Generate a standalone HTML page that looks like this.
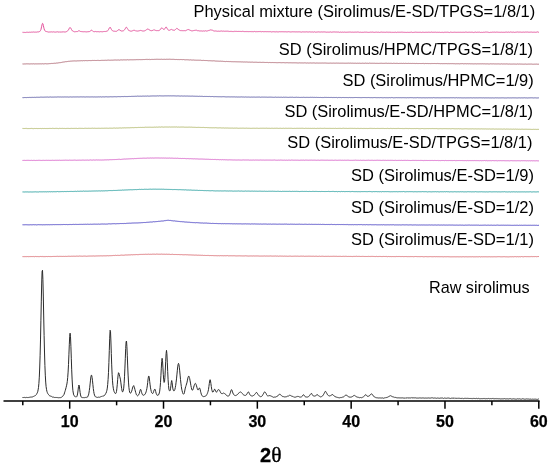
<!DOCTYPE html>
<html><head><meta charset="utf-8"><title>XRD</title>
<style>
html,body{margin:0;padding:0;background:#fff;}
body{width:550px;height:467px;overflow:hidden;}
svg{display:block;will-change:transform;}
text{font-family:"Liberation Sans",sans-serif;}
.lb{font-size:16.43px;fill:#000;text-anchor:end;}
.tk{font-size:16px;font-weight:bold;fill:#000;stroke:#000;stroke-width:0.25;text-anchor:middle;}
.c{fill:none;stroke-width:1;stroke-linejoin:round;stroke-linecap:round;}
</style></head><body>
<svg width="550" height="467" viewBox="0 0 550 467">
<rect width="550" height="467" fill="#ffffff"/>
<path class="c" stroke="#e4529c" d="M22.90,32.26 L23.30,32.23 L23.70,32.52 L24.10,32.27 L24.50,32.47 L24.90,32.39 L25.30,32.50 L25.70,32.42 L26.10,32.30 L26.50,32.28 L26.90,32.30 L27.30,32.30 L27.70,32.22 L28.10,32.26 L28.50,32.42 L28.90,32.08 L29.30,32.26 L29.70,32.14 L30.10,32.24 L30.50,32.29 L30.90,32.19 L31.30,32.27 L31.70,32.02 L32.10,32.28 L32.50,32.10 L32.90,32.21 L33.30,32.16 L33.70,31.87 L34.10,32.04 L34.50,32.12 L34.90,32.24 L35.30,32.10 L35.70,32.08 L36.10,31.89 L36.50,32.15 L36.90,32.17 L37.30,31.96 L37.70,31.89 L38.10,31.70 L38.50,31.89 L38.90,32.00 L39.30,31.68 L39.70,31.55 L40.10,31.14 L40.50,30.41 L40.90,29.68 L41.30,27.98 L41.70,26.23 L42.10,24.40 L42.50,23.34 L42.90,23.69 L43.30,25.30 L43.70,27.12 L44.10,28.73 L44.50,30.06 L44.90,30.74 L45.30,31.11 L45.70,31.35 L46.10,31.57 L46.50,31.53 L46.90,31.64 L47.30,31.66 L47.70,31.88 L48.10,31.93 L48.50,32.11 L48.90,31.78 L49.30,31.88 L49.70,32.05 L50.10,31.94 L50.50,31.94 L50.90,32.15 L51.30,31.95 L51.70,31.87 L52.10,31.86 L52.50,32.03 L52.90,32.03 L53.30,31.86 L53.70,31.90 L54.10,32.05 L54.50,32.06 L54.90,31.93 L55.30,32.06 L55.70,32.05 L56.10,31.82 L56.50,31.96 L56.90,32.03 L57.30,31.93 L57.70,31.77 L58.10,31.95 L58.50,32.05 L58.90,32.13 L59.30,31.75 L59.70,32.22 L60.10,31.84 L60.50,32.05 L60.90,32.07 L61.30,32.04 L61.70,31.95 L62.10,31.81 L62.50,31.97 L62.90,31.83 L63.30,31.64 L63.70,32.16 L64.10,31.93 L64.50,32.02 L64.90,31.72 L65.30,31.93 L65.70,31.90 L66.10,31.84 L66.50,31.60 L66.90,31.35 L67.30,31.24 L67.70,30.72 L68.10,30.31 L68.50,29.87 L68.90,29.01 L69.30,28.30 L69.70,27.65 L70.10,27.59 L70.50,27.79 L70.90,28.30 L71.30,29.22 L71.70,29.76 L72.10,30.42 L72.50,31.00 L72.90,31.09 L73.30,31.39 L73.70,31.40 L74.10,31.62 L74.50,31.82 L74.90,31.61 L75.30,31.72 L75.70,31.62 L76.10,31.58 L76.50,31.54 L76.90,31.74 L77.30,31.70 L77.70,31.34 L78.10,30.99 L78.50,30.91 L78.90,30.67 L79.30,30.84 L79.70,30.98 L80.10,31.22 L80.50,31.47 L80.90,31.51 L81.30,31.63 L81.70,31.56 L82.10,31.72 L82.50,31.64 L82.90,31.78 L83.30,31.71 L83.70,31.82 L84.10,31.86 L84.50,31.67 L84.90,31.73 L85.30,31.72 L85.70,31.88 L86.10,31.97 L86.50,31.88 L86.90,31.75 L87.30,31.92 L87.70,31.61 L88.10,31.89 L88.50,31.63 L88.90,31.36 L89.30,31.79 L89.70,31.51 L90.10,31.00 L90.50,30.81 L90.90,30.47 L91.30,30.32 L91.70,30.22 L92.10,30.56 L92.50,30.99 L92.90,31.24 L93.30,31.54 L93.70,31.57 L94.10,31.87 L94.50,31.61 L94.90,31.73 L95.30,31.53 L95.70,31.60 L96.10,31.86 L96.50,31.64 L96.90,31.79 L97.30,31.73 L97.70,31.63 L98.10,31.70 L98.50,31.68 L98.90,31.68 L99.30,31.80 L99.70,31.78 L100.10,31.65 L100.50,31.61 L100.90,31.72 L101.30,31.68 L101.70,31.78 L102.10,31.93 L102.50,31.74 L102.90,31.64 L103.30,31.61 L103.70,31.53 L104.10,31.50 L104.50,31.47 L104.90,31.50 L105.30,31.46 L105.70,31.53 L106.10,31.36 L106.50,31.29 L106.90,31.04 L107.30,31.10 L107.70,30.65 L108.10,30.30 L108.50,29.57 L108.90,28.90 L109.30,27.98 L109.70,27.52 L110.10,27.58 L110.50,27.54 L110.90,28.45 L111.30,29.25 L111.70,29.80 L112.10,30.37 L112.50,30.81 L112.90,30.87 L113.30,31.14 L113.70,31.10 L114.10,31.18 L114.50,31.21 L114.90,31.27 L115.30,31.30 L115.70,31.31 L116.10,31.07 L116.50,31.33 L116.90,31.09 L117.30,30.82 L117.70,30.39 L118.10,30.06 L118.50,29.80 L118.90,29.64 L119.30,29.55 L119.70,30.10 L120.10,30.67 L120.50,30.47 L120.90,30.97 L121.30,31.03 L121.70,31.04 L122.10,31.20 L122.50,30.90 L122.90,30.97 L123.30,30.96 L123.70,30.57 L124.10,30.21 L124.50,29.79 L124.90,29.12 L125.30,28.63 L125.70,27.70 L126.10,27.45 L126.50,27.23 L126.90,27.85 L127.30,28.43 L127.70,28.87 L128.10,29.74 L128.50,30.10 L128.90,30.49 L129.30,30.91 L129.70,30.77 L130.10,30.85 L130.50,31.15 L130.90,31.03 L131.30,31.17 L131.70,31.01 L132.10,30.81 L132.50,30.77 L132.90,30.73 L133.30,30.50 L133.70,30.25 L134.10,30.21 L134.50,30.30 L134.90,30.44 L135.30,30.89 L135.70,30.84 L136.10,30.83 L136.50,30.95 L136.90,31.11 L137.30,31.10 L137.70,31.02 L138.10,30.93 L138.50,30.95 L138.90,30.69 L139.30,30.61 L139.70,30.68 L140.10,30.41 L140.50,30.44 L140.90,30.57 L141.30,30.63 L141.70,30.70 L142.10,31.02 L142.50,30.94 L142.90,30.88 L143.30,31.00 L143.70,30.96 L144.10,30.80 L144.50,30.85 L144.90,30.74 L145.30,30.43 L145.70,30.42 L146.10,30.15 L146.50,29.81 L146.90,29.33 L147.30,29.15 L147.70,29.01 L148.10,29.07 L148.50,29.19 L148.90,29.70 L149.30,29.83 L149.70,30.21 L150.10,30.57 L150.50,30.49 L150.90,30.57 L151.30,30.75 L151.70,30.57 L152.10,30.50 L152.50,30.44 L152.90,30.39 L153.30,29.91 L153.70,29.95 L154.10,29.90 L154.50,29.96 L154.90,30.10 L155.30,30.24 L155.70,30.48 L156.10,30.46 L156.50,30.62 L156.90,30.69 L157.30,30.58 L157.70,30.66 L158.10,30.79 L158.50,30.61 L158.90,30.43 L159.30,30.36 L159.70,30.05 L160.10,29.82 L160.50,29.40 L160.90,28.64 L161.30,28.14 L161.70,27.94 L162.10,27.85 L162.50,28.34 L162.90,28.73 L163.30,29.16 L163.70,29.40 L164.10,29.63 L164.50,29.07 L164.90,28.51 L165.30,27.82 L165.70,27.24 L166.10,27.07 L166.50,27.31 L166.90,28.16 L167.30,28.72 L167.70,29.48 L168.10,29.83 L168.50,30.16 L168.90,30.10 L169.30,30.28 L169.70,30.23 L170.10,30.08 L170.50,29.69 L170.90,29.77 L171.30,29.48 L171.70,29.48 L172.10,29.67 L172.50,29.91 L172.90,30.18 L173.30,30.16 L173.70,30.25 L174.10,30.35 L174.50,30.23 L174.90,29.97 L175.30,29.65 L175.70,29.24 L176.10,28.89 L176.50,28.63 L176.90,28.20 L177.30,28.54 L177.70,28.80 L178.10,29.10 L178.50,29.66 L178.90,29.80 L179.30,30.05 L179.70,30.29 L180.10,30.50 L180.50,30.59 L180.90,30.62 L181.30,30.72 L181.70,30.51 L182.10,30.79 L182.50,30.61 L182.90,30.69 L183.30,30.72 L183.70,30.64 L184.10,30.61 L184.50,30.63 L184.90,30.70 L185.30,30.71 L185.70,30.64 L186.10,30.38 L186.50,30.26 L186.90,30.08 L187.30,30.02 L187.70,29.59 L188.10,29.78 L188.50,29.55 L188.90,29.58 L189.30,29.84 L189.70,30.09 L190.10,30.21 L190.50,30.46 L190.90,30.50 L191.30,30.72 L191.70,30.79 L192.10,30.70 L192.50,30.86 L192.90,30.72 L193.30,30.68 L193.70,30.51 L194.10,30.47 L194.50,30.46 L194.90,30.15 L195.30,30.27 L195.70,30.25 L196.10,30.32 L196.50,30.20 L196.90,30.54 L197.30,30.72 L197.70,30.67 L198.10,30.82 L198.50,30.61 L198.90,30.95 L199.30,30.83 L199.70,31.00 L200.10,30.74 L200.50,31.00 L200.90,30.91 L201.30,31.02 L201.70,30.85 L202.10,30.88 L202.50,31.17 L202.90,30.87 L203.30,30.88 L203.70,30.93 L204.10,30.86 L204.50,31.08 L204.90,31.13 L205.30,30.88 L205.70,30.78 L206.10,31.06 L206.50,31.05 L206.90,31.00 L207.30,31.00 L207.70,30.76 L208.10,30.76 L208.50,30.55 L208.90,30.41 L209.30,30.50 L209.70,30.15 L210.10,30.26 L210.50,29.88 L210.90,29.74 L211.30,29.92 L211.70,30.15 L212.10,30.20 L212.50,30.23 L212.90,30.57 L213.30,30.82 L213.70,30.76 L214.10,30.82 L214.50,31.07 L214.90,31.02 L215.30,30.93 L215.70,31.03 L216.10,31.01 L216.50,31.13 L216.90,31.13 L217.30,31.24 L217.70,31.21 L218.10,30.99 L218.50,31.20 L218.90,31.26 L219.30,31.22 L219.70,31.29 L220.10,31.14 L220.50,31.10 L220.90,31.30 L221.30,31.11 L221.70,31.01 L222.10,31.33 L222.50,31.16 L222.90,31.21 L223.30,31.11 L223.70,31.12 L224.10,31.15 L224.50,31.23 L224.90,31.31 L225.30,31.05 L225.70,31.36 L226.10,31.17 L226.50,31.19 L226.90,31.37 L227.30,31.30 L227.70,31.16 L228.10,31.50 L228.50,31.24 L228.90,31.36 L229.30,31.36 L229.70,31.48 L230.10,31.30 L230.50,31.45 L230.90,31.28 L231.30,31.47 L231.70,31.29 L232.10,31.33 L232.50,31.56 L232.90,31.41 L233.30,31.39 L233.70,31.61 L234.10,31.43 L234.50,31.31 L234.90,31.47 L235.30,31.29 L235.70,31.52 L236.10,31.53 L236.50,31.36 L236.90,31.36 L237.30,31.44 L237.70,31.43 L238.10,31.33 L238.50,31.49 L238.90,31.23 L239.30,31.40 L239.70,31.41 L240.10,31.42 L240.50,31.48 L240.90,31.33 L241.30,31.52 L241.70,31.45 L242.10,31.40 L242.50,31.34 L242.90,31.36 L243.30,31.52 L243.70,31.39 L244.10,31.49 L244.50,31.60 L244.90,31.60 L245.30,31.65 L245.70,31.47 L246.10,31.40 L246.50,31.61 L246.90,31.54 L247.30,31.63 L247.70,31.52 L248.10,31.64 L248.50,31.61 L248.90,31.60 L249.30,31.58 L249.70,31.58 L250.10,31.56 L250.50,31.57 L250.90,31.65 L251.30,31.50 L251.70,31.73 L252.10,31.55 L252.50,31.66 L252.90,31.56 L253.30,31.54 L253.70,31.78 L254.10,31.54 L254.50,31.45 L254.90,31.51 L255.30,31.55 L255.70,31.80 L256.10,31.61 L256.50,31.69 L256.90,31.50 L257.30,31.64 L257.70,31.67 L258.10,31.79 L258.50,31.54 L258.90,31.68 L259.30,31.65 L259.70,31.52 L260.10,31.62 L260.50,31.60 L260.90,31.40 L261.30,31.70 L261.70,31.69 L262.10,31.60 L262.50,31.51 L262.90,31.80 L263.30,31.68 L263.70,31.76 L264.10,31.80 L264.50,31.61 L264.90,31.75 L265.30,31.64 L265.70,31.66 L266.10,31.66 L266.50,31.68 L266.90,31.79 L267.30,31.70 L267.70,31.67 L268.10,31.66 L268.50,31.73 L268.90,31.61 L269.30,31.65 L269.70,31.70 L270.10,31.65 L270.50,31.70 L270.90,31.65 L271.30,31.91 L271.70,31.85 L272.10,31.76 L272.50,31.72 L272.90,31.94 L273.30,31.76 L273.70,31.72 L274.10,31.76 L274.50,31.77 L274.90,31.88 L275.30,31.74 L275.70,31.96 L276.10,31.66 L276.50,31.82 L276.90,31.65 L277.30,31.94 L277.70,31.73 L278.10,31.76 L278.50,31.86 L278.90,31.89 L279.30,31.66 L279.70,31.74 L280.10,31.64 L280.50,31.79 L280.90,31.77 L281.30,31.75 L281.70,31.72 L282.10,31.75 L282.50,31.72 L282.90,31.85 L283.30,31.95 L283.70,31.61 L284.10,31.79 L284.50,31.76 L284.90,31.86 L285.30,31.72 L285.70,31.80 L286.10,31.71 L286.50,31.89 L286.90,31.83 L287.30,31.81 L287.70,31.86 L288.10,31.80 L288.50,31.68 L288.90,31.89 L289.30,31.87 L289.70,31.82 L290.10,31.94 L290.50,31.97 L290.90,31.74 L291.30,31.77 L291.70,32.01 L292.10,32.00 L292.50,31.78 L292.90,31.74 L293.30,31.80 L293.70,31.81 L294.10,31.71 L294.50,31.87 L294.90,31.74 L295.30,31.75 L295.70,31.97 L296.10,31.81 L296.50,31.87 L296.90,31.94 L297.30,31.96 L297.70,31.85 L298.10,31.89 L298.50,31.81 L298.90,32.07 L299.30,31.96 L299.70,31.79 L300.10,31.90 L300.50,31.97 L300.90,31.95 L301.30,32.09 L301.70,32.04 L302.10,31.86 L302.50,31.90 L302.90,31.79 L303.30,31.94 L303.70,31.93 L304.10,32.19 L304.50,31.93 L304.90,31.72 L305.30,31.86 L305.70,31.94 L306.10,31.81 L306.50,31.85 L306.90,31.90 L307.30,31.97 L307.70,31.92 L308.10,31.85 L308.50,32.02 L308.90,31.89 L309.30,31.90 L309.70,31.81 L310.10,31.87 L310.50,32.02 L310.90,31.80 L311.30,31.95 L311.70,32.03 L312.10,31.93 L312.50,31.99 L312.90,31.86 L313.30,32.10 L313.70,32.08 L314.10,32.00 L314.50,31.80 L314.90,31.88 L315.30,32.08 L315.70,32.16 L316.10,32.02 L316.50,32.11 L316.90,31.93 L317.30,31.97 L317.70,32.00 L318.10,32.04 L318.50,31.85 L318.90,32.10 L319.30,32.14 L319.70,31.89 L320.10,31.87 L320.50,32.05 L320.90,31.95 L321.30,31.78 L321.70,32.10 L322.10,32.04 L322.50,31.97 L322.90,32.24 L323.30,32.04 L323.70,31.95 L324.10,32.04 L324.50,31.93 L324.90,31.96 L325.30,32.08 L325.70,31.98 L326.10,32.00 L326.50,32.21 L326.90,32.13 L327.30,32.13 L327.70,32.10 L328.10,32.10 L328.50,32.20 L328.90,32.06 L329.30,32.25 L329.70,31.97 L330.10,32.04 L330.50,31.93 L330.90,32.03 L331.30,32.12 L331.70,32.22 L332.10,32.01 L332.50,32.08 L332.90,32.04 L333.30,32.01 L333.70,31.96 L334.10,32.09 L334.50,31.91 L334.90,32.10 L335.30,32.09 L335.70,32.03 L336.10,32.00 L336.50,31.96 L336.90,32.29 L337.30,31.97 L337.70,32.26 L338.10,32.17 L338.50,32.07 L338.90,32.00 L339.30,32.22 L339.70,32.29 L340.10,32.02 L340.50,32.09 L340.90,32.23 L341.30,32.16 L341.70,32.33 L342.10,32.07 L342.50,32.18 L342.90,32.01 L343.30,32.34 L343.70,32.06 L344.10,31.92 L344.50,32.13 L344.90,32.13 L345.30,32.33 L345.70,32.11 L346.10,32.15 L346.50,32.21 L346.90,32.31 L347.30,32.15 L347.70,32.26 L348.10,32.21 L348.50,32.13 L348.90,32.17 L349.30,32.17 L349.70,32.07 L350.10,32.29 L350.50,32.03 L350.90,32.29 L351.30,32.27 L351.70,32.16 L352.10,32.10 L352.50,32.15 L352.90,32.23 L353.30,32.26 L353.70,32.21 L354.10,32.28 L354.50,32.13 L354.90,32.21 L355.30,32.03 L355.70,32.27 L356.10,32.21 L356.50,32.15 L356.90,32.31 L357.30,32.27 L357.70,31.92 L358.10,32.21 L358.50,32.06 L358.90,32.31 L359.30,32.46 L359.70,32.16 L360.10,32.22 L360.50,32.19 L360.90,32.25 L361.30,32.28 L361.70,32.35 L362.10,32.12 L362.50,32.38 L362.90,32.13 L363.30,32.25 L363.70,32.34 L364.10,32.30 L364.50,32.13 L364.90,32.16 L365.30,32.18 L365.70,32.23 L366.10,32.35 L366.50,32.11 L366.90,32.28 L367.30,32.30 L367.70,32.29 L368.10,32.29 L368.50,32.39 L368.90,32.29 L369.30,32.33 L369.70,32.30 L370.10,32.43 L370.50,32.06 L370.90,32.38 L371.30,32.22 L371.70,32.22 L372.10,32.16 L372.50,32.07 L372.90,32.22 L373.30,32.19 L373.70,32.31 L374.10,32.11 L374.50,32.40 L374.90,32.29 L375.30,32.24 L375.70,32.19 L376.10,32.19 L376.50,32.15 L376.90,32.21 L377.30,32.27 L377.70,32.25 L378.10,32.13 L378.50,32.24 L378.90,32.18 L379.30,32.29 L379.70,32.46 L380.10,32.34 L380.50,32.24 L380.90,32.11 L381.30,32.14 L381.70,32.11 L382.10,32.35 L382.50,32.20 L382.90,32.29 L383.30,32.22 L383.70,32.29 L384.10,32.42 L384.50,32.22 L384.90,32.25 L385.30,32.21 L385.70,32.37 L386.10,32.18 L386.50,32.17 L386.90,32.15 L387.30,32.15 L387.70,32.34 L388.10,32.55 L388.50,32.19 L388.90,32.39 L389.30,32.32 L389.70,32.18 L390.10,32.27 L390.50,32.27 L390.90,32.22 L391.30,32.49 L391.70,32.10 L392.10,32.33 L392.50,32.33 L392.90,32.24 L393.30,32.31 L393.70,32.38 L394.10,32.31 L394.50,32.34 L394.90,32.37 L395.30,32.09 L395.70,32.45 L396.10,32.53 L396.50,32.40 L396.90,32.40 L397.30,32.16 L397.70,32.29 L398.10,32.22 L398.50,32.24 L398.90,32.40 L399.30,32.22 L399.70,32.29 L400.10,32.11 L400.50,32.28 L400.90,32.31 L401.30,32.23 L401.70,32.23 L402.10,32.49 L402.50,32.18 L402.90,32.19 L403.30,32.22 L403.70,32.42 L404.10,32.51 L404.50,32.33 L404.90,32.23 L405.30,32.26 L405.70,32.41 L406.10,32.21 L406.50,32.44 L406.90,32.44 L407.30,32.31 L407.70,32.36 L408.10,32.37 L408.50,32.45 L408.90,32.19 L409.30,32.42 L409.70,32.26 L410.10,32.22 L410.50,32.31 L410.90,32.28 L411.30,32.20 L411.70,32.14 L412.10,32.21 L412.50,32.44 L412.90,32.50 L413.30,32.36 L413.70,32.42 L414.10,32.25 L414.50,32.29 L414.90,32.33 L415.30,32.19 L415.70,32.20 L416.10,32.31 L416.50,32.27 L416.90,32.19 L417.30,32.34 L417.70,32.27 L418.10,32.40 L418.50,32.30 L418.90,32.27 L419.30,32.31 L419.70,32.28 L420.10,32.23 L420.50,32.26 L420.90,32.37 L421.30,32.36 L421.70,32.43 L422.10,32.13 L422.50,32.26 L422.90,32.26 L423.30,32.32 L423.70,32.25 L424.10,32.25 L424.50,32.38 L424.90,32.32 L425.30,32.18 L425.70,32.43 L426.10,32.40 L426.50,32.24 L426.90,32.38 L427.30,32.22 L427.70,32.41 L428.10,32.28 L428.50,32.22 L428.90,32.26 L429.30,32.22 L429.70,32.32 L430.10,32.31 L430.50,32.30 L430.90,32.24 L431.30,31.93 L431.70,32.31 L432.10,32.11 L432.50,32.32 L432.90,32.41 L433.30,32.32 L433.70,32.26 L434.10,32.28 L434.50,32.28 L434.90,32.24 L435.30,32.24 L435.70,32.20 L436.10,32.41 L436.50,32.29 L436.90,32.39 L437.30,32.27 L437.70,32.30 L438.10,32.28 L438.50,32.34 L438.90,32.38 L439.30,32.32 L439.70,32.23 L440.10,32.22 L440.50,32.46 L440.90,32.27 L441.30,32.27 L441.70,32.44 L442.10,32.40 L442.50,32.35 L442.90,32.25 L443.30,32.53 L443.70,32.33 L444.10,32.35 L444.50,32.28 L444.90,32.15 L445.30,32.16 L445.70,32.33 L446.10,32.33 L446.50,32.27 L446.90,32.17 L447.30,32.15 L447.70,32.26 L448.10,32.15 L448.50,32.38 L448.90,32.41 L449.30,32.57 L449.70,32.38 L450.10,32.23 L450.50,32.20 L450.90,31.94 L451.30,32.23 L451.70,32.27 L452.10,32.39 L452.50,32.35 L452.90,32.35 L453.30,32.31 L453.70,32.35 L454.10,32.43 L454.50,32.18 L454.90,32.24 L455.30,32.15 L455.70,32.45 L456.10,32.42 L456.50,32.36 L456.90,32.17 L457.30,32.30 L457.70,32.26 L458.10,32.29 L458.50,32.27 L458.90,32.34 L459.30,32.24 L459.70,32.37 L460.10,32.31 L460.50,32.25 L460.90,32.27 L461.30,32.24 L461.70,32.36 L462.10,32.25 L462.50,32.31 L462.90,32.24 L463.30,32.13 L463.70,32.37 L464.10,32.17 L464.50,32.35 L464.90,32.32 L465.30,32.11 L465.70,32.18 L466.10,32.23 L466.50,32.20 L466.90,32.16 L467.30,32.35 L467.70,32.25 L468.10,32.31 L468.50,32.23 L468.90,32.31 L469.30,32.20 L469.70,32.27 L470.10,32.33 L470.50,32.28 L470.90,32.23 L471.30,32.16 L471.70,32.29 L472.10,32.31 L472.50,32.25 L472.90,32.19 L473.30,32.32 L473.70,32.52 L474.10,32.24 L474.50,32.30 L474.90,32.31 L475.30,32.01 L475.70,32.28 L476.10,32.20 L476.50,32.40 L476.90,32.24 L477.30,32.19 L477.70,32.24 L478.10,32.28 L478.50,32.21 L478.90,32.26 L479.30,32.13 L479.70,32.24 L480.10,32.34 L480.50,32.46 L480.90,32.33 L481.30,32.29 L481.70,32.38 L482.10,32.36 L482.50,32.42 L482.90,32.37 L483.30,32.24 L483.70,32.28 L484.10,32.27 L484.50,32.28 L484.90,32.27 L485.30,32.18 L485.70,32.04 L486.10,32.18 L486.50,32.05 L486.90,32.26 L487.30,32.25 L487.70,32.08 L488.10,32.32 L488.50,32.33 L488.90,32.26 L489.30,32.41 L489.70,32.43 L490.10,32.12 L490.50,32.35 L490.90,32.29 L491.30,32.28 L491.70,32.34 L492.10,32.17 L492.50,32.18 L492.90,32.16 L493.30,32.16 L493.70,32.23 L494.10,32.09 L494.50,32.13 L494.90,32.29 L495.30,32.23 L495.70,32.27 L496.10,32.04 L496.50,32.15 L496.90,32.18 L497.30,32.23 L497.70,32.17 L498.10,32.32 L498.50,32.22 L498.90,32.23 L499.30,32.23 L499.70,32.30 L500.10,32.18 L500.50,32.34 L500.90,32.27 L501.30,32.24 L501.70,32.23 L502.10,32.27 L502.50,32.32 L502.90,32.31 L503.30,32.26 L503.70,32.30 L504.10,32.23 L504.50,32.34 L504.90,32.21 L505.30,32.01 L505.70,32.35 L506.10,32.22 L506.50,32.09 L506.90,32.19 L507.30,32.12 L507.70,32.42 L508.10,32.26 L508.50,32.05 L508.90,32.26 L509.30,32.16 L509.70,32.39 L510.10,32.09 L510.50,31.97 L510.90,32.20 L511.30,32.16 L511.70,32.15 L512.10,31.98 L512.50,32.24 L512.90,32.36 L513.30,32.00 L513.70,32.31 L514.10,32.13 L514.50,32.42 L514.90,32.23 L515.30,32.17 L515.70,32.29 L516.10,32.24 L516.50,32.12 L516.90,32.25 L517.30,32.13 L517.70,32.00 L518.10,32.38 L518.50,32.14 L518.90,32.11 L519.30,32.21 L519.70,32.02 L520.10,32.04 L520.50,32.12 L520.90,32.12 L521.30,32.17 L521.70,32.28 L522.10,32.12 L522.50,32.21 L522.90,32.22 L523.30,32.05 L523.70,32.18 L524.10,32.06 L524.50,32.26 L524.90,32.20 L525.30,32.15 L525.70,32.02 L526.10,32.16 L526.50,32.07 L526.90,32.22 L527.30,32.13 L527.70,32.06 L528.10,32.24 L528.50,32.21 L528.90,32.08 L529.30,32.25 L529.70,32.11 L530.10,32.10 L530.50,32.15 L530.90,32.06 L531.30,32.09 L531.70,32.11 L532.10,32.28 L532.50,32.28 L532.90,32.10 L533.30,32.28 L533.70,32.12 L534.10,32.16 L534.50,32.21 L534.90,32.15 L535.30,32.36 L535.70,32.14 L536.10,31.99 L536.50,32.24 L536.90,32.07 L537.30,32.08 L537.70,31.81 L538.10,32.20 L538.50,32.18"/>
<path class="c" stroke="#b36f7b" d="M22.90,63.95 L23.30,63.96 L23.70,64.00 L24.10,63.90 L24.50,63.96 L24.90,63.85 L25.30,63.88 L25.70,63.96 L26.10,63.92 L26.50,63.82 L26.90,63.92 L27.30,63.89 L27.70,63.85 L28.10,63.92 L28.50,63.87 L28.90,63.80 L29.30,63.83 L29.70,64.00 L30.10,63.80 L30.50,63.90 L30.90,63.92 L31.30,63.92 L31.70,63.81 L32.10,63.86 L32.50,63.89 L32.90,63.93 L33.30,63.84 L33.70,63.81 L34.10,63.94 L34.50,63.94 L34.90,63.89 L35.30,63.83 L35.70,63.89 L36.10,63.87 L36.50,63.91 L36.90,63.79 L37.30,63.87 L37.70,63.85 L38.10,63.79 L38.50,63.86 L38.90,63.85 L39.30,63.82 L39.70,63.87 L40.10,63.76 L40.50,63.83 L40.90,63.86 L41.30,63.85 L41.70,63.89 L42.10,63.75 L42.50,63.73 L42.90,63.83 L43.30,63.84 L43.70,63.94 L44.10,63.85 L44.50,63.75 L44.90,63.85 L45.30,63.75 L45.70,63.70 L46.10,63.94 L46.50,63.79 L46.90,63.80 L47.30,63.77 L47.70,63.83 L48.10,63.72 L48.50,63.75 L48.90,63.59 L49.30,63.55 L49.70,63.69 L50.10,63.67 L50.50,63.58 L50.90,63.54 L51.30,63.50 L51.70,63.42 L52.10,63.52 L52.50,63.44 L52.90,63.40 L53.30,63.36 L53.70,63.37 L54.10,63.30 L54.50,63.28 L54.90,63.14 L55.30,63.21 L55.70,63.27 L56.10,63.07 L56.50,63.06 L56.90,63.07 L57.30,63.03 L57.70,62.97 L58.10,62.78 L58.50,62.86 L58.90,62.70 L59.30,62.67 L59.70,62.70 L60.10,62.59 L60.50,62.60 L60.90,62.68 L61.30,62.48 L61.70,62.41 L62.10,62.25 L62.50,62.21 L62.90,62.12 L63.30,62.09 L63.70,61.99 L64.10,61.96 L64.50,61.92 L64.90,61.82 L65.30,61.73 L65.70,61.67 L66.10,61.73 L66.50,61.64 L66.90,61.65 L67.30,61.59 L67.70,61.46 L68.10,61.47 L68.50,61.29 L68.90,61.47 L69.30,61.36 L69.70,61.23 L70.10,61.13 L70.50,61.19 L70.90,61.02 L71.30,61.05 L71.70,61.12 L72.10,61.05 L72.50,60.99 L72.90,61.06 L73.30,60.93 L73.70,60.99 L74.10,60.93 L74.50,60.89 L74.90,60.96 L75.30,60.86 L75.70,61.02 L76.10,60.85 L76.50,61.00 L76.90,60.80 L77.30,60.89 L77.70,60.77 L78.10,60.75 L78.50,60.83 L78.90,60.85 L79.30,60.72 L79.70,60.86 L80.10,60.73 L80.50,60.77 L80.90,60.78 L81.30,60.78 L81.70,60.63 L82.10,60.82 L82.50,60.75 L82.90,60.68 L83.30,60.64 L83.70,60.59 L84.10,60.60 L84.50,60.71 L84.90,60.65 L85.30,60.59 L85.70,60.62 L86.10,60.74 L86.50,60.62 L86.90,60.60 L87.30,60.70 L87.70,60.64 L88.10,60.61 L88.50,60.57 L88.90,60.50 L89.30,60.52 L89.70,60.55 L90.10,60.56 L90.50,60.59 L90.90,60.60 L91.30,60.57 L91.70,60.56 L92.10,60.48 L92.50,60.41 L92.90,60.50 L93.30,60.47 L93.70,60.48 L94.10,60.49 L94.50,60.43 L94.90,60.43 L95.30,60.48 L95.70,60.49 L96.10,60.44 L96.50,60.50 L96.90,60.45 L97.30,60.39 L97.70,60.45 L98.10,60.55 L98.50,60.39 L98.90,60.49 L99.30,60.50 L99.70,60.50 L100.10,60.35 L100.50,60.51 L100.90,60.39 L101.30,60.36 L101.70,60.35 L102.10,60.39 L102.50,60.35 L102.90,60.33 L103.30,60.41 L103.70,60.28 L104.10,60.25 L104.50,60.35 L104.90,60.34 L105.30,60.35 L105.70,60.21 L106.10,60.34 L106.50,60.29 L106.90,60.36 L107.30,60.17 L107.70,60.25 L108.10,60.21 L108.50,60.12 L108.90,60.17 L109.30,60.27 L109.70,60.17 L110.10,60.14 L110.50,60.23 L110.90,60.23 L111.30,60.22 L111.70,60.10 L112.10,60.14 L112.50,60.20 L112.90,60.09 L113.30,60.07 L113.70,60.16 L114.10,60.20 L114.50,60.02 L114.90,59.93 L115.30,59.99 L115.70,60.01 L116.10,60.05 L116.50,60.09 L116.90,60.04 L117.30,59.99 L117.70,60.04 L118.10,59.96 L118.50,60.01 L118.90,59.97 L119.30,60.16 L119.70,60.04 L120.10,59.93 L120.50,59.91 L120.90,59.94 L121.30,59.86 L121.70,59.91 L122.10,59.90 L122.50,59.99 L122.90,59.90 L123.30,59.87 L123.70,59.83 L124.10,59.83 L124.50,59.89 L124.90,59.88 L125.30,59.95 L125.70,59.84 L126.10,59.93 L126.50,59.88 L126.90,59.85 L127.30,59.73 L127.70,59.76 L128.10,59.88 L128.50,59.91 L128.90,59.83 L129.30,59.86 L129.70,59.78 L130.10,59.78 L130.50,59.75 L130.90,59.84 L131.30,59.80 L131.70,59.76 L132.10,59.74 L132.50,59.79 L132.90,59.77 L133.30,59.69 L133.70,59.84 L134.10,59.74 L134.50,59.72 L134.90,59.80 L135.30,59.77 L135.70,59.69 L136.10,59.72 L136.50,59.62 L136.90,59.64 L137.30,59.53 L137.70,59.73 L138.10,59.54 L138.50,59.69 L138.90,59.59 L139.30,59.57 L139.70,59.61 L140.10,59.63 L140.50,59.64 L140.90,59.70 L141.30,59.61 L141.70,59.64 L142.10,59.54 L142.50,59.61 L142.90,59.57 L143.30,59.52 L143.70,59.54 L144.10,59.53 L144.50,59.54 L144.90,59.55 L145.30,59.49 L145.70,59.46 L146.10,59.55 L146.50,59.39 L146.90,59.45 L147.30,59.57 L147.70,59.31 L148.10,59.42 L148.50,59.50 L148.90,59.35 L149.30,59.60 L149.70,59.28 L150.10,59.52 L150.50,59.52 L150.90,59.48 L151.30,59.40 L151.70,59.43 L152.10,59.35 L152.50,59.45 L152.90,59.32 L153.30,59.37 L153.70,59.44 L154.10,59.31 L154.50,59.35 L154.90,59.38 L155.30,59.28 L155.70,59.43 L156.10,59.37 L156.50,59.26 L156.90,59.34 L157.30,59.29 L157.70,59.30 L158.10,59.34 L158.50,59.29 L158.90,59.38 L159.30,59.28 L159.70,59.38 L160.10,59.31 L160.50,59.37 L160.90,59.28 L161.30,59.28 L161.70,59.24 L162.10,59.34 L162.50,59.36 L162.90,59.43 L163.30,59.38 L163.70,59.32 L164.10,59.29 L164.50,59.32 L164.90,59.30 L165.30,59.39 L165.70,59.36 L166.10,59.25 L166.50,59.26 L166.90,59.39 L167.30,59.33 L167.70,59.30 L168.10,59.38 L168.50,59.29 L168.90,59.30 L169.30,59.30 L169.70,59.21 L170.10,59.39 L170.50,59.27 L170.90,59.31 L171.30,59.31 L171.70,59.40 L172.10,59.36 L172.50,59.38 L172.90,59.28 L173.30,59.38 L173.70,59.31 L174.10,59.43 L174.50,59.44 L174.90,59.42 L175.30,59.56 L175.70,59.48 L176.10,59.49 L176.50,59.47 L176.90,59.46 L177.30,59.54 L177.70,59.56 L178.10,59.43 L178.50,59.58 L178.90,59.56 L179.30,59.60 L179.70,59.59 L180.10,59.49 L180.50,59.51 L180.90,59.70 L181.30,59.62 L181.70,59.54 L182.10,59.66 L182.50,59.63 L182.90,59.55 L183.30,59.54 L183.70,59.59 L184.10,59.72 L184.50,59.72 L184.90,59.72 L185.30,59.76 L185.70,59.80 L186.10,59.65 L186.50,59.77 L186.90,59.76 L187.30,59.75 L187.70,59.80 L188.10,59.84 L188.50,59.85 L188.90,59.80 L189.30,59.87 L189.70,60.03 L190.10,59.87 L190.50,59.84 L190.90,59.98 L191.30,60.01 L191.70,60.02 L192.10,59.94 L192.50,60.08 L192.90,59.99 L193.30,59.98 L193.70,60.03 L194.10,60.08 L194.50,60.14 L194.90,60.15 L195.30,60.13 L195.70,60.20 L196.10,60.16 L196.50,60.23 L196.90,60.10 L197.30,60.11 L197.70,60.26 L198.10,60.15 L198.50,60.23 L198.90,60.26 L199.30,60.25 L199.70,60.26 L200.10,60.39 L200.50,60.17 L200.90,60.39 L201.30,60.48 L201.70,60.36 L202.10,60.38 L202.50,60.44 L202.90,60.52 L203.30,60.35 L203.70,60.45 L204.10,60.45 L204.50,60.51 L204.90,60.50 L205.30,60.55 L205.70,60.50 L206.10,60.55 L206.50,60.52 L206.90,60.54 L207.30,60.59 L207.70,60.61 L208.10,60.56 L208.50,60.75 L208.90,60.66 L209.30,60.61 L209.70,60.78 L210.10,60.68 L210.50,60.78 L210.90,60.77 L211.30,60.80 L211.70,60.82 L212.10,60.79 L212.50,60.85 L212.90,60.99 L213.30,60.75 L213.70,60.91 L214.10,60.95 L214.50,60.88 L214.90,60.88 L215.30,61.11 L215.70,60.98 L216.10,61.15 L216.50,61.07 L216.90,61.06 L217.30,61.11 L217.70,61.14 L218.10,61.19 L218.50,61.16 L218.90,61.16 L219.30,61.18 L219.70,61.27 L220.10,61.26 L220.50,61.17 L220.90,61.21 L221.30,61.29 L221.70,61.25 L222.10,61.28 L222.50,61.26 L222.90,61.32 L223.30,61.38 L223.70,61.43 L224.10,61.39 L224.50,61.53 L224.90,61.41 L225.30,61.63 L225.70,61.51 L226.10,61.50 L226.50,61.45 L226.90,61.33 L227.30,61.50 L227.70,61.54 L228.10,61.65 L228.50,61.47 L228.90,61.68 L229.30,61.56 L229.70,61.63 L230.10,61.45 L230.50,61.62 L230.90,61.61 L231.30,61.68 L231.70,61.66 L232.10,61.59 L232.50,61.73 L232.90,61.73 L233.30,61.73 L233.70,61.77 L234.10,61.79 L234.50,61.73 L234.90,61.66 L235.30,61.67 L235.70,61.85 L236.10,61.82 L236.50,61.79 L236.90,61.77 L237.30,61.81 L237.70,61.82 L238.10,61.81 L238.50,61.80 L238.90,61.98 L239.30,61.88 L239.70,61.84 L240.10,61.80 L240.50,61.85 L240.90,61.95 L241.30,61.96 L241.70,61.91 L242.10,61.94 L242.50,61.92 L242.90,61.89 L243.30,62.04 L243.70,62.00 L244.10,62.13 L244.50,61.95 L244.90,61.99 L245.30,62.06 L245.70,62.01 L246.10,61.95 L246.50,61.98 L246.90,62.06 L247.30,62.08 L247.70,62.06 L248.10,62.14 L248.50,62.15 L248.90,62.11 L249.30,62.11 L249.70,62.10 L250.10,62.16 L250.50,62.19 L250.90,62.14 L251.30,62.18 L251.70,62.14 L252.10,62.08 L252.50,62.11 L252.90,62.23 L253.30,62.22 L253.70,62.30 L254.10,62.21 L254.50,62.27 L254.90,62.30 L255.30,62.29 L255.70,62.20 L256.10,62.24 L256.50,62.26 L256.90,62.21 L257.30,62.30 L257.70,62.34 L258.10,62.26 L258.50,62.41 L258.90,62.29 L259.30,62.30 L259.70,62.31 L260.10,62.28 L260.50,62.36 L260.90,62.34 L261.30,62.45 L261.70,62.39 L262.10,62.40 L262.50,62.36 L262.90,62.29 L263.30,62.38 L263.70,62.34 L264.10,62.46 L264.50,62.41 L264.90,62.51 L265.30,62.47 L265.70,62.48 L266.10,62.45 L266.50,62.45 L266.90,62.49 L267.30,62.51 L267.70,62.42 L268.10,62.50 L268.50,62.63 L268.90,62.48 L269.30,62.47 L269.70,62.45 L270.10,62.41 L270.50,62.58 L270.90,62.52 L271.30,62.54 L271.70,62.64 L272.10,62.68 L272.50,62.49 L272.90,62.61 L273.30,62.59 L273.70,62.58 L274.10,62.59 L274.50,62.57 L274.90,62.67 L275.30,62.62 L275.70,62.61 L276.10,62.67 L276.50,62.66 L276.90,62.64 L277.30,62.63 L277.70,62.73 L278.10,62.66 L278.50,62.63 L278.90,62.59 L279.30,62.62 L279.70,62.59 L280.10,62.66 L280.50,62.68 L280.90,62.55 L281.30,62.68 L281.70,62.72 L282.10,62.70 L282.50,62.64 L282.90,62.77 L283.30,62.66 L283.70,62.64 L284.10,62.65 L284.50,62.72 L284.90,62.79 L285.30,62.80 L285.70,62.75 L286.10,62.67 L286.50,62.71 L286.90,62.70 L287.30,62.75 L287.70,62.66 L288.10,62.78 L288.50,62.81 L288.90,62.77 L289.30,62.81 L289.70,62.74 L290.10,62.71 L290.50,62.76 L290.90,62.88 L291.30,62.87 L291.70,62.79 L292.10,62.89 L292.50,62.81 L292.90,62.92 L293.30,62.87 L293.70,62.81 L294.10,62.89 L294.50,62.81 L294.90,62.80 L295.30,62.77 L295.70,62.88 L296.10,62.87 L296.50,62.87 L296.90,62.85 L297.30,62.97 L297.70,62.86 L298.10,62.85 L298.50,62.97 L298.90,62.99 L299.30,62.93 L299.70,62.81 L300.10,62.88 L300.50,62.95 L300.90,62.92 L301.30,63.02 L301.70,62.85 L302.10,62.97 L302.50,62.90 L302.90,63.02 L303.30,62.94 L303.70,63.01 L304.10,62.91 L304.50,62.87 L304.90,62.89 L305.30,62.93 L305.70,62.91 L306.10,63.04 L306.50,63.05 L306.90,62.99 L307.30,62.92 L307.70,62.98 L308.10,62.94 L308.50,63.08 L308.90,63.01 L309.30,63.02 L309.70,62.97 L310.10,62.88 L310.50,62.96 L310.90,62.94 L311.30,63.03 L311.70,63.02 L312.10,62.97 L312.50,62.99 L312.90,63.11 L313.30,62.96 L313.70,62.97 L314.10,63.01 L314.50,62.99 L314.90,63.01 L315.30,63.07 L315.70,63.14 L316.10,62.93 L316.50,63.04 L316.90,63.05 L317.30,63.04 L317.70,63.04 L318.10,63.03 L318.50,63.12 L318.90,63.03 L319.30,63.05 L319.70,63.06 L320.10,63.07 L320.50,63.06 L320.90,63.13 L321.30,63.07 L321.70,63.08 L322.10,63.07 L322.50,63.02 L322.90,63.03 L323.30,63.02 L323.70,63.10 L324.10,63.04 L324.50,63.03 L324.90,63.11 L325.30,63.13 L325.70,62.99 L326.10,63.20 L326.50,63.10 L326.90,63.10 L327.30,63.17 L327.70,63.11 L328.10,63.07 L328.50,63.24 L328.90,63.05 L329.30,63.11 L329.70,63.17 L330.10,63.05 L330.50,63.11 L330.90,63.15 L331.30,63.27 L331.70,63.07 L332.10,63.13 L332.50,63.17 L332.90,63.14 L333.30,63.06 L333.70,63.16 L334.10,63.14 L334.50,63.17 L334.90,63.21 L335.30,63.20 L335.70,63.17 L336.10,63.17 L336.50,63.08 L336.90,63.14 L337.30,63.17 L337.70,63.13 L338.10,63.16 L338.50,63.11 L338.90,63.25 L339.30,63.29 L339.70,63.14 L340.10,63.19 L340.50,63.15 L340.90,63.24 L341.30,63.20 L341.70,63.18 L342.10,63.16 L342.50,63.18 L342.90,63.12 L343.30,63.22 L343.70,63.14 L344.10,63.21 L344.50,63.19 L344.90,63.25 L345.30,63.18 L345.70,63.25 L346.10,63.13 L346.50,63.23 L346.90,63.18 L347.30,63.21 L347.70,63.20 L348.10,63.25 L348.50,63.08 L348.90,63.22 L349.30,63.11 L349.70,63.28 L350.10,63.09 L350.50,63.15 L350.90,63.11 L351.30,63.31 L351.70,63.13 L352.10,63.22 L352.50,63.18 L352.90,63.11 L353.30,63.20 L353.70,63.26 L354.10,63.21 L354.50,63.28 L354.90,63.20 L355.30,63.22 L355.70,63.20 L356.10,63.25 L356.50,63.34 L356.90,63.25 L357.30,63.24 L357.70,63.20 L358.10,63.19 L358.50,63.32 L358.90,63.17 L359.30,63.18 L359.70,63.23 L360.10,63.22 L360.50,63.36 L360.90,63.10 L361.30,63.27 L361.70,63.29 L362.10,63.18 L362.50,63.21 L362.90,63.28 L363.30,63.35 L363.70,63.20 L364.10,63.16 L364.50,63.32 L364.90,63.35 L365.30,63.24 L365.70,63.13 L366.10,63.35 L366.50,63.25 L366.90,63.33 L367.30,63.26 L367.70,63.25 L368.10,63.24 L368.50,63.36 L368.90,63.36 L369.30,63.15 L369.70,63.22 L370.10,63.38 L370.50,63.26 L370.90,63.20 L371.30,63.28 L371.70,63.28 L372.10,63.28 L372.50,63.26 L372.90,63.27 L373.30,63.26 L373.70,63.31 L374.10,63.24 L374.50,63.28 L374.90,63.29 L375.30,63.37 L375.70,63.32 L376.10,63.29 L376.50,63.33 L376.90,63.33 L377.30,63.37 L377.70,63.34 L378.10,63.41 L378.50,63.39 L378.90,63.31 L379.30,63.29 L379.70,63.37 L380.10,63.34 L380.50,63.31 L380.90,63.23 L381.30,63.21 L381.70,63.34 L382.10,63.37 L382.50,63.37 L382.90,63.25 L383.30,63.39 L383.70,63.30 L384.10,63.35 L384.50,63.36 L384.90,63.28 L385.30,63.30 L385.70,63.21 L386.10,63.28 L386.50,63.23 L386.90,63.37 L387.30,63.35 L387.70,63.40 L388.10,63.37 L388.50,63.31 L388.90,63.37 L389.30,63.33 L389.70,63.39 L390.10,63.37 L390.50,63.30 L390.90,63.36 L391.30,63.36 L391.70,63.34 L392.10,63.42 L392.50,63.47 L392.90,63.34 L393.30,63.35 L393.70,63.24 L394.10,63.36 L394.50,63.35 L394.90,63.25 L395.30,63.39 L395.70,63.41 L396.10,63.34 L396.50,63.36 L396.90,63.33 L397.30,63.43 L397.70,63.30 L398.10,63.37 L398.50,63.51 L398.90,63.40 L399.30,63.42 L399.70,63.39 L400.10,63.33 L400.50,63.40 L400.90,63.43 L401.30,63.35 L401.70,63.43 L402.10,63.49 L402.50,63.48 L402.90,63.32 L403.30,63.36 L403.70,63.32 L404.10,63.48 L404.50,63.46 L404.90,63.47 L405.30,63.37 L405.70,63.36 L406.10,63.44 L406.50,63.44 L406.90,63.38 L407.30,63.45 L407.70,63.48 L408.10,63.45 L408.50,63.38 L408.90,63.32 L409.30,63.43 L409.70,63.46 L410.10,63.44 L410.50,63.43 L410.90,63.41 L411.30,63.50 L411.70,63.46 L412.10,63.47 L412.50,63.40 L412.90,63.43 L413.30,63.48 L413.70,63.41 L414.10,63.40 L414.50,63.45 L414.90,63.55 L415.30,63.49 L415.70,63.57 L416.10,63.47 L416.50,63.46 L416.90,63.40 L417.30,63.45 L417.70,63.58 L418.10,63.51 L418.50,63.54 L418.90,63.54 L419.30,63.50 L419.70,63.49 L420.10,63.51 L420.50,63.54 L420.90,63.53 L421.30,63.54 L421.70,63.52 L422.10,63.47 L422.50,63.50 L422.90,63.46 L423.30,63.58 L423.70,63.39 L424.10,63.51 L424.50,63.67 L424.90,63.51 L425.30,63.46 L425.70,63.53 L426.10,63.61 L426.50,63.53 L426.90,63.57 L427.30,63.55 L427.70,63.52 L428.10,63.73 L428.50,63.55 L428.90,63.52 L429.30,63.52 L429.70,63.58 L430.10,63.58 L430.50,63.60 L430.90,63.57 L431.30,63.48 L431.70,63.60 L432.10,63.55 L432.50,63.55 L432.90,63.48 L433.30,63.54 L433.70,63.53 L434.10,63.57 L434.50,63.49 L434.90,63.58 L435.30,63.59 L435.70,63.52 L436.10,63.55 L436.50,63.54 L436.90,63.65 L437.30,63.44 L437.70,63.57 L438.10,63.50 L438.50,63.57 L438.90,63.65 L439.30,63.57 L439.70,63.61 L440.10,63.56 L440.50,63.73 L440.90,63.67 L441.30,63.68 L441.70,63.54 L442.10,63.55 L442.50,63.69 L442.90,63.61 L443.30,63.61 L443.70,63.65 L444.10,63.55 L444.50,63.68 L444.90,63.64 L445.30,63.67 L445.70,63.60 L446.10,63.67 L446.50,63.60 L446.90,63.70 L447.30,63.72 L447.70,63.70 L448.10,63.68 L448.50,63.69 L448.90,63.49 L449.30,63.71 L449.70,63.64 L450.10,63.67 L450.50,63.65 L450.90,63.58 L451.30,63.64 L451.70,63.71 L452.10,63.76 L452.50,63.64 L452.90,63.62 L453.30,63.77 L453.70,63.63 L454.10,63.81 L454.50,63.69 L454.90,63.64 L455.30,63.75 L455.70,63.80 L456.10,63.61 L456.50,63.79 L456.90,63.68 L457.30,63.79 L457.70,63.68 L458.10,63.61 L458.50,63.74 L458.90,63.77 L459.30,63.84 L459.70,63.82 L460.10,63.76 L460.50,63.71 L460.90,63.69 L461.30,63.71 L461.70,63.68 L462.10,63.71 L462.50,63.58 L462.90,63.75 L463.30,63.74 L463.70,63.89 L464.10,63.79 L464.50,63.72 L464.90,63.78 L465.30,63.68 L465.70,63.71 L466.10,63.64 L466.50,63.84 L466.90,63.79 L467.30,63.69 L467.70,63.76 L468.10,63.82 L468.50,63.80 L468.90,63.79 L469.30,63.72 L469.70,63.74 L470.10,63.78 L470.50,63.83 L470.90,63.73 L471.30,63.72 L471.70,63.85 L472.10,63.73 L472.50,63.85 L472.90,63.81 L473.30,63.85 L473.70,63.90 L474.10,63.84 L474.50,63.85 L474.90,63.75 L475.30,63.76 L475.70,63.85 L476.10,63.90 L476.50,63.90 L476.90,63.95 L477.30,63.84 L477.70,63.83 L478.10,63.88 L478.50,63.83 L478.90,63.82 L479.30,63.77 L479.70,63.89 L480.10,63.77 L480.50,63.87 L480.90,63.75 L481.30,63.91 L481.70,63.78 L482.10,63.90 L482.50,63.75 L482.90,63.82 L483.30,63.92 L483.70,63.81 L484.10,63.86 L484.50,63.83 L484.90,63.72 L485.30,63.88 L485.70,63.89 L486.10,63.80 L486.50,63.91 L486.90,63.83 L487.30,63.82 L487.70,63.88 L488.10,63.84 L488.50,64.02 L488.90,63.79 L489.30,63.93 L489.70,63.95 L490.10,63.78 L490.50,63.79 L490.90,63.93 L491.30,63.87 L491.70,63.93 L492.10,63.97 L492.50,63.89 L492.90,63.85 L493.30,63.75 L493.70,63.93 L494.10,63.86 L494.50,63.94 L494.90,63.94 L495.30,63.84 L495.70,64.03 L496.10,63.99 L496.50,63.98 L496.90,63.86 L497.30,63.91 L497.70,63.91 L498.10,63.92 L498.50,63.88 L498.90,63.97 L499.30,63.96 L499.70,63.97 L500.10,63.92 L500.50,64.03 L500.90,63.97 L501.30,63.80 L501.70,63.93 L502.10,63.96 L502.50,64.03 L502.90,63.95 L503.30,63.96 L503.70,63.94 L504.10,64.02 L504.50,63.95 L504.90,63.95 L505.30,63.94 L505.70,64.02 L506.10,63.96 L506.50,63.89 L506.90,64.03 L507.30,63.96 L507.70,64.02 L508.10,64.03 L508.50,64.08 L508.90,64.07 L509.30,63.98 L509.70,64.00 L510.10,63.94 L510.50,64.12 L510.90,64.05 L511.30,64.11 L511.70,64.01 L512.10,63.91 L512.50,64.12 L512.90,64.04 L513.30,64.04 L513.70,64.04 L514.10,64.08 L514.50,64.08 L514.90,63.95 L515.30,64.11 L515.70,64.02 L516.10,64.03 L516.50,64.16 L516.90,64.11 L517.30,64.04 L517.70,63.95 L518.10,64.08 L518.50,64.10 L518.90,64.07 L519.30,64.00 L519.70,64.03 L520.10,64.00 L520.50,64.09 L520.90,64.13 L521.30,64.15 L521.70,64.04 L522.10,64.11 L522.50,64.13 L522.90,64.07 L523.30,64.09 L523.70,64.23 L524.10,64.12 L524.50,64.16 L524.90,64.08 L525.30,64.11 L525.70,64.01 L526.10,64.12 L526.50,64.19 L526.90,64.25 L527.30,64.20 L527.70,64.17 L528.10,64.13 L528.50,64.10 L528.90,64.13 L529.30,64.17 L529.70,64.09 L530.10,64.20 L530.50,64.09 L530.90,64.04 L531.30,64.09 L531.70,64.05 L532.10,64.07 L532.50,64.23 L532.90,64.15 L533.30,64.18 L533.70,64.24 L534.10,64.24 L534.50,64.14 L534.90,64.25 L535.30,64.20 L535.70,64.18 L536.10,64.21 L536.50,64.10 L536.90,64.14 L537.30,64.18 L537.70,64.23 L538.10,64.17 L538.50,64.19"/>
<path class="c" stroke="#6060a8" d="M22.90,97.66 L23.30,97.68 L23.70,97.63 L24.10,97.65 L24.50,97.54 L24.90,97.54 L25.30,97.56 L25.70,97.52 L26.10,97.50 L26.50,97.62 L26.90,97.50 L27.30,97.44 L27.70,97.52 L28.10,97.59 L28.50,97.48 L28.90,97.54 L29.30,97.43 L29.70,97.42 L30.10,97.40 L30.50,97.42 L30.90,97.53 L31.30,97.34 L31.70,97.50 L32.10,97.34 L32.50,97.37 L32.90,97.43 L33.30,97.41 L33.70,97.38 L34.10,97.26 L34.50,97.37 L34.90,97.28 L35.30,97.48 L35.70,97.31 L36.10,97.33 L36.50,97.24 L36.90,97.27 L37.30,97.21 L37.70,97.34 L38.10,97.26 L38.50,97.30 L38.90,97.22 L39.30,97.22 L39.70,97.32 L40.10,97.18 L40.50,97.12 L40.90,97.25 L41.30,97.15 L41.70,97.18 L42.10,97.26 L42.50,97.15 L42.90,97.24 L43.30,97.14 L43.70,97.27 L44.10,97.25 L44.50,97.14 L44.90,97.14 L45.30,97.10 L45.70,97.16 L46.10,97.21 L46.50,97.05 L46.90,97.18 L47.30,97.04 L47.70,97.06 L48.10,97.00 L48.50,97.23 L48.90,97.10 L49.30,97.11 L49.70,97.05 L50.10,97.15 L50.50,96.95 L50.90,97.08 L51.30,97.20 L51.70,97.04 L52.10,97.06 L52.50,97.10 L52.90,97.00 L53.30,97.05 L53.70,97.10 L54.10,97.05 L54.50,97.06 L54.90,97.01 L55.30,97.05 L55.70,97.03 L56.10,97.11 L56.50,97.06 L56.90,97.00 L57.30,96.87 L57.70,97.06 L58.10,97.06 L58.50,96.95 L58.90,96.89 L59.30,96.93 L59.70,97.06 L60.10,96.94 L60.50,96.97 L60.90,97.01 L61.30,97.07 L61.70,96.99 L62.10,96.99 L62.50,96.96 L62.90,97.09 L63.30,97.05 L63.70,96.98 L64.10,96.90 L64.50,96.94 L64.90,97.02 L65.30,96.94 L65.70,97.03 L66.10,97.00 L66.50,96.99 L66.90,97.01 L67.30,97.00 L67.70,96.92 L68.10,96.95 L68.50,97.11 L68.90,96.90 L69.30,96.94 L69.70,97.03 L70.10,96.96 L70.50,96.92 L70.90,96.89 L71.30,97.00 L71.70,97.02 L72.10,97.05 L72.50,96.97 L72.90,97.02 L73.30,96.90 L73.70,96.97 L74.10,96.92 L74.50,96.97 L74.90,97.00 L75.30,97.02 L75.70,96.90 L76.10,97.03 L76.50,96.93 L76.90,96.89 L77.30,96.94 L77.70,96.86 L78.10,96.95 L78.50,96.97 L78.90,96.94 L79.30,96.98 L79.70,96.93 L80.10,96.95 L80.50,96.86 L80.90,96.95 L81.30,96.90 L81.70,96.92 L82.10,96.94 L82.50,96.96 L82.90,96.84 L83.30,96.85 L83.70,96.92 L84.10,96.97 L84.50,96.96 L84.90,96.99 L85.30,97.02 L85.70,96.97 L86.10,96.94 L86.50,96.88 L86.90,96.88 L87.30,96.91 L87.70,96.95 L88.10,96.95 L88.50,96.93 L88.90,96.92 L89.30,96.97 L89.70,96.94 L90.10,96.95 L90.50,96.95 L90.90,96.90 L91.30,96.87 L91.70,96.96 L92.10,96.95 L92.50,96.91 L92.90,96.90 L93.30,97.06 L93.70,96.88 L94.10,96.91 L94.50,96.93 L94.90,96.85 L95.30,96.92 L95.70,97.02 L96.10,96.97 L96.50,96.95 L96.90,96.95 L97.30,96.92 L97.70,96.97 L98.10,96.90 L98.50,96.88 L98.90,96.91 L99.30,96.96 L99.70,96.92 L100.10,96.94 L100.50,96.78 L100.90,96.97 L101.30,97.03 L101.70,96.97 L102.10,96.87 L102.50,96.84 L102.90,96.90 L103.30,96.82 L103.70,96.92 L104.10,96.84 L104.50,96.93 L104.90,96.95 L105.30,96.74 L105.70,96.88 L106.10,96.81 L106.50,96.77 L106.90,96.81 L107.30,96.83 L107.70,96.90 L108.10,96.74 L108.50,96.89 L108.90,96.94 L109.30,96.85 L109.70,96.84 L110.10,96.80 L110.50,96.73 L110.90,96.83 L111.30,96.81 L111.70,96.83 L112.10,96.93 L112.50,96.81 L112.90,96.79 L113.30,96.85 L113.70,96.67 L114.10,96.68 L114.50,96.71 L114.90,96.69 L115.30,96.77 L115.70,96.70 L116.10,96.81 L116.50,96.79 L116.90,96.74 L117.30,96.66 L117.70,96.72 L118.10,96.72 L118.50,96.60 L118.90,96.68 L119.30,96.69 L119.70,96.65 L120.10,96.73 L120.50,96.70 L120.90,96.57 L121.30,96.62 L121.70,96.55 L122.10,96.63 L122.50,96.53 L122.90,96.63 L123.30,96.59 L123.70,96.62 L124.10,96.54 L124.50,96.45 L124.90,96.64 L125.30,96.51 L125.70,96.60 L126.10,96.53 L126.50,96.54 L126.90,96.60 L127.30,96.50 L127.70,96.56 L128.10,96.38 L128.50,96.51 L128.90,96.43 L129.30,96.43 L129.70,96.43 L130.10,96.44 L130.50,96.51 L130.90,96.29 L131.30,96.40 L131.70,96.34 L132.10,96.45 L132.50,96.34 L132.90,96.39 L133.30,96.33 L133.70,96.38 L134.10,96.39 L134.50,96.30 L134.90,96.32 L135.30,96.22 L135.70,96.32 L136.10,96.34 L136.50,96.25 L136.90,96.34 L137.30,96.14 L137.70,96.14 L138.10,96.16 L138.50,96.21 L138.90,96.23 L139.30,96.22 L139.70,96.21 L140.10,96.25 L140.50,96.17 L140.90,96.11 L141.30,96.10 L141.70,96.30 L142.10,96.02 L142.50,96.15 L142.90,96.24 L143.30,96.17 L143.70,96.08 L144.10,96.13 L144.50,96.17 L144.90,96.18 L145.30,96.05 L145.70,96.14 L146.10,96.10 L146.50,96.15 L146.90,96.16 L147.30,96.05 L147.70,95.97 L148.10,96.08 L148.50,96.15 L148.90,96.08 L149.30,96.05 L149.70,96.17 L150.10,95.96 L150.50,96.07 L150.90,95.98 L151.30,96.01 L151.70,96.01 L152.10,96.09 L152.50,95.93 L152.90,95.95 L153.30,95.88 L153.70,96.00 L154.10,95.94 L154.50,95.99 L154.90,95.90 L155.30,95.93 L155.70,96.01 L156.10,95.94 L156.50,95.98 L156.90,95.97 L157.30,95.91 L157.70,95.84 L158.10,95.99 L158.50,95.94 L158.90,95.98 L159.30,95.80 L159.70,95.82 L160.10,95.79 L160.50,95.86 L160.90,95.97 L161.30,95.94 L161.70,95.90 L162.10,95.91 L162.50,95.95 L162.90,95.88 L163.30,95.93 L163.70,95.91 L164.10,95.77 L164.50,95.88 L164.90,95.98 L165.30,95.88 L165.70,95.89 L166.10,95.86 L166.50,95.87 L166.90,95.97 L167.30,95.89 L167.70,95.84 L168.10,95.72 L168.50,95.87 L168.90,95.79 L169.30,95.80 L169.70,95.96 L170.10,95.95 L170.50,95.80 L170.90,95.97 L171.30,95.95 L171.70,95.87 L172.10,95.97 L172.50,95.83 L172.90,95.86 L173.30,95.85 L173.70,95.87 L174.10,95.99 L174.50,95.86 L174.90,95.88 L175.30,95.89 L175.70,95.96 L176.10,95.93 L176.50,96.01 L176.90,95.92 L177.30,95.89 L177.70,95.94 L178.10,95.98 L178.50,95.92 L178.90,96.00 L179.30,96.10 L179.70,95.96 L180.10,96.00 L180.50,96.08 L180.90,95.97 L181.30,95.96 L181.70,95.95 L182.10,96.05 L182.50,96.06 L182.90,96.02 L183.30,96.04 L183.70,96.12 L184.10,96.10 L184.50,95.97 L184.90,96.06 L185.30,96.07 L185.70,96.12 L186.10,96.07 L186.50,96.05 L186.90,96.06 L187.30,95.99 L187.70,96.10 L188.10,96.08 L188.50,96.15 L188.90,96.06 L189.30,96.11 L189.70,96.08 L190.10,96.08 L190.50,96.19 L190.90,96.13 L191.30,96.19 L191.70,96.11 L192.10,96.19 L192.50,96.09 L192.90,96.17 L193.30,96.17 L193.70,96.24 L194.10,96.23 L194.50,96.21 L194.90,96.28 L195.30,96.25 L195.70,96.28 L196.10,96.30 L196.50,96.26 L196.90,96.25 L197.30,96.30 L197.70,96.26 L198.10,96.32 L198.50,96.37 L198.90,96.36 L199.30,96.29 L199.70,96.25 L200.10,96.33 L200.50,96.33 L200.90,96.41 L201.30,96.33 L201.70,96.35 L202.10,96.42 L202.50,96.35 L202.90,96.38 L203.30,96.50 L203.70,96.49 L204.10,96.45 L204.50,96.44 L204.90,96.37 L205.30,96.47 L205.70,96.45 L206.10,96.47 L206.50,96.43 L206.90,96.47 L207.30,96.47 L207.70,96.50 L208.10,96.58 L208.50,96.52 L208.90,96.41 L209.30,96.46 L209.70,96.43 L210.10,96.49 L210.50,96.58 L210.90,96.57 L211.30,96.52 L211.70,96.58 L212.10,96.53 L212.50,96.50 L212.90,96.51 L213.30,96.55 L213.70,96.69 L214.10,96.53 L214.50,96.70 L214.90,96.71 L215.30,96.63 L215.70,96.64 L216.10,96.62 L216.50,96.66 L216.90,96.71 L217.30,96.68 L217.70,96.74 L218.10,96.76 L218.50,96.72 L218.90,96.73 L219.30,96.71 L219.70,96.74 L220.10,96.66 L220.50,96.76 L220.90,96.76 L221.30,96.70 L221.70,96.89 L222.10,96.71 L222.50,96.72 L222.90,96.79 L223.30,96.67 L223.70,96.74 L224.10,96.71 L224.50,96.75 L224.90,96.80 L225.30,96.84 L225.70,96.89 L226.10,96.88 L226.50,96.91 L226.90,96.88 L227.30,96.82 L227.70,96.92 L228.10,96.83 L228.50,96.83 L228.90,96.97 L229.30,96.93 L229.70,96.90 L230.10,96.94 L230.50,96.95 L230.90,96.82 L231.30,96.90 L231.70,96.84 L232.10,96.92 L232.50,96.88 L232.90,97.01 L233.30,96.96 L233.70,96.89 L234.10,96.94 L234.50,96.87 L234.90,96.95 L235.30,96.99 L235.70,96.97 L236.10,96.85 L236.50,96.95 L236.90,97.00 L237.30,96.99 L237.70,97.05 L238.10,96.90 L238.50,97.02 L238.90,96.95 L239.30,97.00 L239.70,97.02 L240.10,97.04 L240.50,96.97 L240.90,97.01 L241.30,96.94 L241.70,96.92 L242.10,97.04 L242.50,97.01 L242.90,96.92 L243.30,96.97 L243.70,97.02 L244.10,97.12 L244.50,97.09 L244.90,97.08 L245.30,96.93 L245.70,97.03 L246.10,97.07 L246.50,97.07 L246.90,97.07 L247.30,97.03 L247.70,97.16 L248.10,97.14 L248.50,97.05 L248.90,97.00 L249.30,97.18 L249.70,97.03 L250.10,97.14 L250.50,97.18 L250.90,97.02 L251.30,97.09 L251.70,97.06 L252.10,97.11 L252.50,97.10 L252.90,97.20 L253.30,97.12 L253.70,97.09 L254.10,97.16 L254.50,97.08 L254.90,97.08 L255.30,97.24 L255.70,97.06 L256.10,97.08 L256.50,97.11 L256.90,97.05 L257.30,96.99 L257.70,97.18 L258.10,97.07 L258.50,97.09 L258.90,97.10 L259.30,97.07 L259.70,97.07 L260.10,97.14 L260.50,97.28 L260.90,97.18 L261.30,97.19 L261.70,97.05 L262.10,97.14 L262.50,97.08 L262.90,97.20 L263.30,97.14 L263.70,97.16 L264.10,97.15 L264.50,97.13 L264.90,97.07 L265.30,97.20 L265.70,97.08 L266.10,97.10 L266.50,97.16 L266.90,97.13 L267.30,97.19 L267.70,97.24 L268.10,97.20 L268.50,97.20 L268.90,97.19 L269.30,97.24 L269.70,97.08 L270.10,97.22 L270.50,97.14 L270.90,97.13 L271.30,97.20 L271.70,97.18 L272.10,97.24 L272.50,97.27 L272.90,97.07 L273.30,97.21 L273.70,97.33 L274.10,97.27 L274.50,97.31 L274.90,97.23 L275.30,97.14 L275.70,97.16 L276.10,97.27 L276.50,97.29 L276.90,97.19 L277.30,97.22 L277.70,97.25 L278.10,97.14 L278.50,97.22 L278.90,97.34 L279.30,97.38 L279.70,97.24 L280.10,97.36 L280.50,97.22 L280.90,97.21 L281.30,97.12 L281.70,97.32 L282.10,97.24 L282.50,97.41 L282.90,97.29 L283.30,97.28 L283.70,97.16 L284.10,97.36 L284.50,97.26 L284.90,97.27 L285.30,97.15 L285.70,97.34 L286.10,97.34 L286.50,97.25 L286.90,97.30 L287.30,97.32 L287.70,97.35 L288.10,97.30 L288.50,97.40 L288.90,97.29 L289.30,97.27 L289.70,97.28 L290.10,97.15 L290.50,97.26 L290.90,97.37 L291.30,97.33 L291.70,97.27 L292.10,97.34 L292.50,97.20 L292.90,97.30 L293.30,97.36 L293.70,97.37 L294.10,97.28 L294.50,97.38 L294.90,97.44 L295.30,97.31 L295.70,97.38 L296.10,97.24 L296.50,97.22 L296.90,97.38 L297.30,97.35 L297.70,97.36 L298.10,97.31 L298.50,97.33 L298.90,97.40 L299.30,97.46 L299.70,97.34 L300.10,97.26 L300.50,97.44 L300.90,97.40 L301.30,97.40 L301.70,97.38 L302.10,97.51 L302.50,97.37 L302.90,97.40 L303.30,97.26 L303.70,97.34 L304.10,97.34 L304.50,97.38 L304.90,97.40 L305.30,97.34 L305.70,97.49 L306.10,97.32 L306.50,97.36 L306.90,97.40 L307.30,97.32 L307.70,97.43 L308.10,97.43 L308.50,97.38 L308.90,97.51 L309.30,97.41 L309.70,97.42 L310.10,97.35 L310.50,97.31 L310.90,97.37 L311.30,97.39 L311.70,97.38 L312.10,97.46 L312.50,97.27 L312.90,97.35 L313.30,97.31 L313.70,97.50 L314.10,97.39 L314.50,97.39 L314.90,97.36 L315.30,97.48 L315.70,97.41 L316.10,97.44 L316.50,97.31 L316.90,97.51 L317.30,97.46 L317.70,97.47 L318.10,97.51 L318.50,97.43 L318.90,97.43 L319.30,97.49 L319.70,97.47 L320.10,97.43 L320.50,97.45 L320.90,97.42 L321.30,97.50 L321.70,97.51 L322.10,97.46 L322.50,97.57 L322.90,97.37 L323.30,97.45 L323.70,97.57 L324.10,97.44 L324.50,97.37 L324.90,97.55 L325.30,97.50 L325.70,97.40 L326.10,97.52 L326.50,97.41 L326.90,97.40 L327.30,97.47 L327.70,97.45 L328.10,97.42 L328.50,97.46 L328.90,97.42 L329.30,97.49 L329.70,97.49 L330.10,97.53 L330.50,97.46 L330.90,97.41 L331.30,97.41 L331.70,97.48 L332.10,97.59 L332.50,97.55 L332.90,97.46 L333.30,97.56 L333.70,97.43 L334.10,97.57 L334.50,97.48 L334.90,97.55 L335.30,97.55 L335.70,97.49 L336.10,97.53 L336.50,97.45 L336.90,97.51 L337.30,97.58 L337.70,97.77 L338.10,97.56 L338.50,97.53 L338.90,97.46 L339.30,97.59 L339.70,97.43 L340.10,97.48 L340.50,97.55 L340.90,97.46 L341.30,97.62 L341.70,97.60 L342.10,97.50 L342.50,97.50 L342.90,97.46 L343.30,97.45 L343.70,97.57 L344.10,97.58 L344.50,97.56 L344.90,97.56 L345.30,97.51 L345.70,97.57 L346.10,97.46 L346.50,97.55 L346.90,97.64 L347.30,97.63 L347.70,97.53 L348.10,97.54 L348.50,97.64 L348.90,97.67 L349.30,97.47 L349.70,97.54 L350.10,97.58 L350.50,97.64 L350.90,97.51 L351.30,97.60 L351.70,97.55 L352.10,97.71 L352.50,97.60 L352.90,97.56 L353.30,97.55 L353.70,97.64 L354.10,97.62 L354.50,97.51 L354.90,97.59 L355.30,97.50 L355.70,97.53 L356.10,97.50 L356.50,97.50 L356.90,97.54 L357.30,97.53 L357.70,97.62 L358.10,97.64 L358.50,97.57 L358.90,97.52 L359.30,97.64 L359.70,97.47 L360.10,97.48 L360.50,97.64 L360.90,97.64 L361.30,97.66 L361.70,97.59 L362.10,97.52 L362.50,97.57 L362.90,97.64 L363.30,97.56 L363.70,97.56 L364.10,97.52 L364.50,97.54 L364.90,97.66 L365.30,97.64 L365.70,97.54 L366.10,97.55 L366.50,97.58 L366.90,97.65 L367.30,97.55 L367.70,97.61 L368.10,97.49 L368.50,97.54 L368.90,97.65 L369.30,97.68 L369.70,97.55 L370.10,97.58 L370.50,97.67 L370.90,97.60 L371.30,97.59 L371.70,97.66 L372.10,97.64 L372.50,97.70 L372.90,97.68 L373.30,97.60 L373.70,97.63 L374.10,97.63 L374.50,97.55 L374.90,97.58 L375.30,97.70 L375.70,97.54 L376.10,97.70 L376.50,97.66 L376.90,97.63 L377.30,97.68 L377.70,97.67 L378.10,97.72 L378.50,97.62 L378.90,97.63 L379.30,97.63 L379.70,97.76 L380.10,97.71 L380.50,97.60 L380.90,97.63 L381.30,97.61 L381.70,97.66 L382.10,97.67 L382.50,97.79 L382.90,97.55 L383.30,97.72 L383.70,97.69 L384.10,97.62 L384.50,97.65 L384.90,97.63 L385.30,97.67 L385.70,97.73 L386.10,97.57 L386.50,97.75 L386.90,97.65 L387.30,97.76 L387.70,97.69 L388.10,97.74 L388.50,97.71 L388.90,97.74 L389.30,97.68 L389.70,97.62 L390.10,97.72 L390.50,97.72 L390.90,97.80 L391.30,97.56 L391.70,97.67 L392.10,97.74 L392.50,97.61 L392.90,97.67 L393.30,97.81 L393.70,97.77 L394.10,97.63 L394.50,97.77 L394.90,97.76 L395.30,97.73 L395.70,97.71 L396.10,97.70 L396.50,97.64 L396.90,97.66 L397.30,97.74 L397.70,97.70 L398.10,97.81 L398.50,97.67 L398.90,97.55 L399.30,97.68 L399.70,97.71 L400.10,97.72 L400.50,97.70 L400.90,97.65 L401.30,97.79 L401.70,97.66 L402.10,97.75 L402.50,97.69 L402.90,97.63 L403.30,97.79 L403.70,97.56 L404.10,97.66 L404.50,97.73 L404.90,97.69 L405.30,97.75 L405.70,97.70 L406.10,97.68 L406.50,97.84 L406.90,97.70 L407.30,97.70 L407.70,97.65 L408.10,97.67 L408.50,97.76 L408.90,97.75 L409.30,97.72 L409.70,97.68 L410.10,97.76 L410.50,97.62 L410.90,97.70 L411.30,97.71 L411.70,97.67 L412.10,97.73 L412.50,97.69 L412.90,97.68 L413.30,97.84 L413.70,97.77 L414.10,97.80 L414.50,97.73 L414.90,97.79 L415.30,97.78 L415.70,97.81 L416.10,97.88 L416.50,97.72 L416.90,97.75 L417.30,97.73 L417.70,97.53 L418.10,97.65 L418.50,97.74 L418.90,97.78 L419.30,97.71 L419.70,97.81 L420.10,97.82 L420.50,97.72 L420.90,97.83 L421.30,97.85 L421.70,97.77 L422.10,97.69 L422.50,97.84 L422.90,97.74 L423.30,97.73 L423.70,97.76 L424.10,97.72 L424.50,97.82 L424.90,97.80 L425.30,97.83 L425.70,97.79 L426.10,97.71 L426.50,97.75 L426.90,97.81 L427.30,97.73 L427.70,97.93 L428.10,97.74 L428.50,97.72 L428.90,97.83 L429.30,97.81 L429.70,97.76 L430.10,97.75 L430.50,97.79 L430.90,97.82 L431.30,97.81 L431.70,97.75 L432.10,97.79 L432.50,97.82 L432.90,97.81 L433.30,97.58 L433.70,97.72 L434.10,97.72 L434.50,97.76 L434.90,97.78 L435.30,97.83 L435.70,97.81 L436.10,97.77 L436.50,97.78 L436.90,97.88 L437.30,97.74 L437.70,97.80 L438.10,97.87 L438.50,97.80 L438.90,97.66 L439.30,97.80 L439.70,97.76 L440.10,97.78 L440.50,97.85 L440.90,97.81 L441.30,97.77 L441.70,97.84 L442.10,97.81 L442.50,97.79 L442.90,97.81 L443.30,97.80 L443.70,97.77 L444.10,97.76 L444.50,97.79 L444.90,97.74 L445.30,97.72 L445.70,97.87 L446.10,97.78 L446.50,97.79 L446.90,97.79 L447.30,97.80 L447.70,97.80 L448.10,97.80 L448.50,97.75 L448.90,97.86 L449.30,97.76 L449.70,97.86 L450.10,97.69 L450.50,97.74 L450.90,97.86 L451.30,97.80 L451.70,97.76 L452.10,97.83 L452.50,97.74 L452.90,97.81 L453.30,97.68 L453.70,97.78 L454.10,97.77 L454.50,97.84 L454.90,97.86 L455.30,97.76 L455.70,97.91 L456.10,97.78 L456.50,97.69 L456.90,97.67 L457.30,97.91 L457.70,97.81 L458.10,97.78 L458.50,97.77 L458.90,97.75 L459.30,97.90 L459.70,97.81 L460.10,97.93 L460.50,97.81 L460.90,97.68 L461.30,97.87 L461.70,97.80 L462.10,97.81 L462.50,97.92 L462.90,97.81 L463.30,97.90 L463.70,97.83 L464.10,97.78 L464.50,97.86 L464.90,97.79 L465.30,97.90 L465.70,97.89 L466.10,97.83 L466.50,97.87 L466.90,97.87 L467.30,97.82 L467.70,97.89 L468.10,97.82 L468.50,97.87 L468.90,97.78 L469.30,97.84 L469.70,97.86 L470.10,97.79 L470.50,97.81 L470.90,97.81 L471.30,97.88 L471.70,97.80 L472.10,97.87 L472.50,97.93 L472.90,97.86 L473.30,97.75 L473.70,97.85 L474.10,97.91 L474.50,97.83 L474.90,97.91 L475.30,97.88 L475.70,97.87 L476.10,97.83 L476.50,97.82 L476.90,97.83 L477.30,97.85 L477.70,97.88 L478.10,97.87 L478.50,97.83 L478.90,97.85 L479.30,97.87 L479.70,97.75 L480.10,97.81 L480.50,97.81 L480.90,97.84 L481.30,97.84 L481.70,97.84 L482.10,97.80 L482.50,97.90 L482.90,97.87 L483.30,97.76 L483.70,97.86 L484.10,97.79 L484.50,97.96 L484.90,97.83 L485.30,97.84 L485.70,97.87 L486.10,97.85 L486.50,97.86 L486.90,97.96 L487.30,97.88 L487.70,97.91 L488.10,97.93 L488.50,97.81 L488.90,97.97 L489.30,97.91 L489.70,97.92 L490.10,97.81 L490.50,97.92 L490.90,97.89 L491.30,97.84 L491.70,98.01 L492.10,97.90 L492.50,97.86 L492.90,97.88 L493.30,97.93 L493.70,97.94 L494.10,97.91 L494.50,97.95 L494.90,97.96 L495.30,97.80 L495.70,97.84 L496.10,97.82 L496.50,97.88 L496.90,97.96 L497.30,97.91 L497.70,97.81 L498.10,97.86 L498.50,97.94 L498.90,97.85 L499.30,97.87 L499.70,97.90 L500.10,97.77 L500.50,97.93 L500.90,97.90 L501.30,97.91 L501.70,97.82 L502.10,97.83 L502.50,97.84 L502.90,97.90 L503.30,97.89 L503.70,97.89 L504.10,97.99 L504.50,97.96 L504.90,97.84 L505.30,97.84 L505.70,97.99 L506.10,97.87 L506.50,97.97 L506.90,97.98 L507.30,97.85 L507.70,97.87 L508.10,97.89 L508.50,97.83 L508.90,97.83 L509.30,97.86 L509.70,97.94 L510.10,97.86 L510.50,97.88 L510.90,97.86 L511.30,97.81 L511.70,97.98 L512.10,97.75 L512.50,97.85 L512.90,97.92 L513.30,97.81 L513.70,97.93 L514.10,97.97 L514.50,97.84 L514.90,97.90 L515.30,97.83 L515.70,97.92 L516.10,97.90 L516.50,97.91 L516.90,97.97 L517.30,97.92 L517.70,97.97 L518.10,97.93 L518.50,97.82 L518.90,97.91 L519.30,97.92 L519.70,97.81 L520.10,97.97 L520.50,97.90 L520.90,97.92 L521.30,97.84 L521.70,97.90 L522.10,97.91 L522.50,97.88 L522.90,97.90 L523.30,97.77 L523.70,97.98 L524.10,97.83 L524.50,97.77 L524.90,97.84 L525.30,97.85 L525.70,97.93 L526.10,97.84 L526.50,97.92 L526.90,97.84 L527.30,98.03 L527.70,97.93 L528.10,98.02 L528.50,97.84 L528.90,97.94 L529.30,97.84 L529.70,97.93 L530.10,97.94 L530.50,97.80 L530.90,97.83 L531.30,97.83 L531.70,97.81 L532.10,97.86 L532.50,97.84 L532.90,97.81 L533.30,97.91 L533.70,97.93 L534.10,97.82 L534.50,97.87 L534.90,97.90 L535.30,97.89 L535.70,97.86 L536.10,97.95 L536.50,97.95 L536.90,97.94 L537.30,97.89 L537.70,98.02 L538.10,98.01 L538.50,97.88"/>
<path class="c" stroke="#b5bb6f" d="M22.90,128.49 L23.30,128.57 L23.70,128.45 L24.10,128.52 L24.50,128.50 L24.90,128.46 L25.30,128.49 L25.70,128.41 L26.10,128.47 L26.50,128.38 L26.90,128.64 L27.30,128.59 L27.70,128.57 L28.10,128.52 L28.50,128.56 L28.90,128.58 L29.30,128.56 L29.70,128.55 L30.10,128.44 L30.50,128.52 L30.90,128.47 L31.30,128.43 L31.70,128.43 L32.10,128.52 L32.50,128.56 L32.90,128.41 L33.30,128.60 L33.70,128.58 L34.10,128.47 L34.50,128.47 L34.90,128.49 L35.30,128.55 L35.70,128.47 L36.10,128.43 L36.50,128.51 L36.90,128.37 L37.30,128.50 L37.70,128.56 L38.10,128.51 L38.50,128.54 L38.90,128.52 L39.30,128.53 L39.70,128.50 L40.10,128.44 L40.50,128.47 L40.90,128.48 L41.30,128.56 L41.70,128.58 L42.10,128.51 L42.50,128.44 L42.90,128.44 L43.30,128.47 L43.70,128.57 L44.10,128.50 L44.50,128.48 L44.90,128.44 L45.30,128.53 L45.70,128.50 L46.10,128.48 L46.50,128.48 L46.90,128.58 L47.30,128.47 L47.70,128.58 L48.10,128.55 L48.50,128.48 L48.90,128.53 L49.30,128.47 L49.70,128.42 L50.10,128.46 L50.50,128.42 L50.90,128.50 L51.30,128.47 L51.70,128.50 L52.10,128.52 L52.50,128.28 L52.90,128.48 L53.30,128.36 L53.70,128.47 L54.10,128.41 L54.50,128.47 L54.90,128.54 L55.30,128.36 L55.70,128.47 L56.10,128.45 L56.50,128.34 L56.90,128.50 L57.30,128.46 L57.70,128.42 L58.10,128.41 L58.50,128.64 L58.90,128.43 L59.30,128.34 L59.70,128.39 L60.10,128.43 L60.50,128.42 L60.90,128.44 L61.30,128.38 L61.70,128.48 L62.10,128.41 L62.50,128.36 L62.90,128.39 L63.30,128.42 L63.70,128.49 L64.10,128.47 L64.50,128.42 L64.90,128.44 L65.30,128.45 L65.70,128.55 L66.10,128.39 L66.50,128.46 L66.90,128.47 L67.30,128.37 L67.70,128.44 L68.10,128.43 L68.50,128.40 L68.90,128.46 L69.30,128.48 L69.70,128.49 L70.10,128.41 L70.50,128.43 L70.90,128.56 L71.30,128.35 L71.70,128.43 L72.10,128.47 L72.50,128.42 L72.90,128.45 L73.30,128.42 L73.70,128.45 L74.10,128.48 L74.50,128.39 L74.90,128.41 L75.30,128.40 L75.70,128.38 L76.10,128.40 L76.50,128.33 L76.90,128.44 L77.30,128.50 L77.70,128.49 L78.10,128.47 L78.50,128.33 L78.90,128.48 L79.30,128.34 L79.70,128.38 L80.10,128.49 L80.50,128.32 L80.90,128.43 L81.30,128.40 L81.70,128.37 L82.10,128.32 L82.50,128.40 L82.90,128.35 L83.30,128.43 L83.70,128.44 L84.10,128.29 L84.50,128.34 L84.90,128.35 L85.30,128.29 L85.70,128.29 L86.10,128.37 L86.50,128.35 L86.90,128.26 L87.30,128.32 L87.70,128.38 L88.10,128.28 L88.50,128.29 L88.90,128.44 L89.30,128.43 L89.70,128.25 L90.10,128.26 L90.50,128.36 L90.90,128.27 L91.30,128.32 L91.70,128.31 L92.10,128.37 L92.50,128.18 L92.90,128.20 L93.30,128.26 L93.70,128.39 L94.10,128.32 L94.50,128.22 L94.90,128.35 L95.30,128.36 L95.70,128.30 L96.10,128.30 L96.50,128.34 L96.90,128.39 L97.30,128.32 L97.70,128.34 L98.10,128.31 L98.50,128.28 L98.90,128.25 L99.30,128.32 L99.70,128.28 L100.10,128.28 L100.50,128.35 L100.90,128.32 L101.30,128.35 L101.70,128.20 L102.10,128.32 L102.50,128.25 L102.90,128.23 L103.30,128.23 L103.70,128.35 L104.10,128.32 L104.50,128.22 L104.90,128.19 L105.30,128.26 L105.70,128.23 L106.10,128.35 L106.50,128.16 L106.90,128.13 L107.30,128.22 L107.70,128.23 L108.10,128.23 L108.50,128.26 L108.90,128.34 L109.30,128.18 L109.70,128.17 L110.10,128.09 L110.50,128.20 L110.90,128.23 L111.30,128.16 L111.70,128.24 L112.10,128.16 L112.50,128.24 L112.90,128.16 L113.30,128.07 L113.70,128.09 L114.10,128.03 L114.50,128.01 L114.90,128.12 L115.30,128.15 L115.70,128.21 L116.10,128.08 L116.50,128.06 L116.90,128.00 L117.30,128.12 L117.70,128.07 L118.10,128.00 L118.50,128.07 L118.90,128.05 L119.30,127.90 L119.70,128.05 L120.10,128.00 L120.50,127.96 L120.90,127.95 L121.30,128.07 L121.70,128.05 L122.10,128.05 L122.50,127.87 L122.90,127.89 L123.30,127.97 L123.70,127.83 L124.10,127.85 L124.50,127.78 L124.90,127.99 L125.30,127.93 L125.70,127.88 L126.10,127.86 L126.50,127.81 L126.90,127.80 L127.30,127.85 L127.70,127.76 L128.10,127.87 L128.50,127.75 L128.90,127.72 L129.30,127.84 L129.70,127.74 L130.10,127.77 L130.50,127.71 L130.90,127.58 L131.30,127.74 L131.70,127.62 L132.10,127.75 L132.50,127.58 L132.90,127.55 L133.30,127.67 L133.70,127.67 L134.10,127.64 L134.50,127.55 L134.90,127.67 L135.30,127.51 L135.70,127.56 L136.10,127.53 L136.50,127.55 L136.90,127.61 L137.30,127.51 L137.70,127.57 L138.10,127.57 L138.50,127.41 L138.90,127.44 L139.30,127.47 L139.70,127.45 L140.10,127.49 L140.50,127.35 L140.90,127.50 L141.30,127.49 L141.70,127.42 L142.10,127.34 L142.50,127.41 L142.90,127.37 L143.30,127.43 L143.70,127.38 L144.10,127.42 L144.50,127.34 L144.90,127.44 L145.30,127.21 L145.70,127.27 L146.10,127.36 L146.50,127.23 L146.90,127.35 L147.30,127.23 L147.70,127.30 L148.10,127.23 L148.50,127.25 L148.90,127.27 L149.30,127.25 L149.70,127.22 L150.10,127.37 L150.50,127.23 L150.90,127.16 L151.30,127.27 L151.70,127.25 L152.10,127.27 L152.50,127.30 L152.90,127.12 L153.30,127.24 L153.70,127.23 L154.10,127.16 L154.50,127.17 L154.90,126.96 L155.30,127.10 L155.70,127.24 L156.10,127.02 L156.50,127.08 L156.90,127.13 L157.30,127.14 L157.70,127.20 L158.10,126.99 L158.50,127.09 L158.90,127.13 L159.30,127.00 L159.70,127.07 L160.10,127.18 L160.50,127.14 L160.90,127.09 L161.30,126.89 L161.70,127.04 L162.10,127.07 L162.50,127.02 L162.90,127.03 L163.30,127.22 L163.70,127.01 L164.10,126.97 L164.50,127.04 L164.90,127.00 L165.30,127.00 L165.70,127.01 L166.10,127.06 L166.50,127.02 L166.90,126.93 L167.30,127.00 L167.70,127.03 L168.10,126.97 L168.50,127.07 L168.90,127.05 L169.30,126.94 L169.70,127.02 L170.10,127.12 L170.50,127.09 L170.90,127.00 L171.30,127.05 L171.70,126.96 L172.10,126.92 L172.50,127.04 L172.90,127.02 L173.30,127.04 L173.70,127.01 L174.10,127.03 L174.50,126.98 L174.90,127.04 L175.30,127.07 L175.70,127.02 L176.10,127.07 L176.50,126.92 L176.90,126.98 L177.30,127.12 L177.70,127.14 L178.10,127.06 L178.50,127.04 L178.90,126.97 L179.30,127.08 L179.70,127.11 L180.10,126.97 L180.50,127.10 L180.90,127.10 L181.30,127.10 L181.70,127.02 L182.10,127.12 L182.50,127.00 L182.90,127.19 L183.30,127.11 L183.70,127.04 L184.10,127.20 L184.50,127.19 L184.90,127.09 L185.30,127.27 L185.70,127.08 L186.10,127.17 L186.50,127.23 L186.90,127.03 L187.30,127.23 L187.70,127.17 L188.10,127.19 L188.50,127.13 L188.90,127.22 L189.30,127.14 L189.70,127.16 L190.10,127.20 L190.50,127.16 L190.90,127.33 L191.30,127.17 L191.70,127.21 L192.10,127.25 L192.50,127.27 L192.90,127.33 L193.30,127.34 L193.70,127.28 L194.10,127.29 L194.50,127.32 L194.90,127.38 L195.30,127.38 L195.70,127.31 L196.10,127.23 L196.50,127.49 L196.90,127.43 L197.30,127.40 L197.70,127.41 L198.10,127.37 L198.50,127.35 L198.90,127.40 L199.30,127.41 L199.70,127.40 L200.10,127.36 L200.50,127.44 L200.90,127.50 L201.30,127.45 L201.70,127.49 L202.10,127.37 L202.50,127.49 L202.90,127.51 L203.30,127.45 L203.70,127.43 L204.10,127.57 L204.50,127.51 L204.90,127.59 L205.30,127.55 L205.70,127.62 L206.10,127.57 L206.50,127.51 L206.90,127.61 L207.30,127.60 L207.70,127.67 L208.10,127.62 L208.50,127.63 L208.90,127.72 L209.30,127.74 L209.70,127.73 L210.10,127.76 L210.50,127.73 L210.90,127.76 L211.30,127.78 L211.70,127.76 L212.10,127.75 L212.50,127.76 L212.90,127.91 L213.30,127.77 L213.70,127.77 L214.10,127.77 L214.50,127.80 L214.90,127.82 L215.30,127.75 L215.70,127.71 L216.10,127.85 L216.50,127.75 L216.90,127.87 L217.30,127.87 L217.70,127.94 L218.10,127.98 L218.50,127.91 L218.90,127.87 L219.30,127.84 L219.70,127.87 L220.10,127.93 L220.50,127.81 L220.90,127.95 L221.30,127.95 L221.70,128.00 L222.10,127.95 L222.50,127.98 L222.90,127.94 L223.30,127.96 L223.70,127.89 L224.10,128.01 L224.50,128.11 L224.90,128.03 L225.30,128.05 L225.70,127.98 L226.10,128.13 L226.50,128.00 L226.90,128.11 L227.30,128.07 L227.70,128.01 L228.10,128.14 L228.50,128.08 L228.90,128.10 L229.30,128.12 L229.70,128.10 L230.10,128.08 L230.50,128.14 L230.90,128.09 L231.30,128.13 L231.70,128.09 L232.10,128.04 L232.50,128.10 L232.90,128.11 L233.30,128.15 L233.70,128.22 L234.10,128.06 L234.50,128.17 L234.90,128.03 L235.30,128.11 L235.70,128.14 L236.10,128.04 L236.50,128.07 L236.90,128.19 L237.30,128.19 L237.70,128.18 L238.10,128.14 L238.50,128.32 L238.90,128.19 L239.30,128.15 L239.70,128.30 L240.10,128.24 L240.50,128.18 L240.90,128.27 L241.30,128.21 L241.70,128.24 L242.10,128.22 L242.50,128.15 L242.90,128.27 L243.30,128.22 L243.70,128.15 L244.10,128.17 L244.50,128.27 L244.90,128.20 L245.30,128.22 L245.70,128.26 L246.10,128.23 L246.50,128.13 L246.90,128.26 L247.30,128.28 L247.70,128.28 L248.10,128.33 L248.50,128.25 L248.90,128.28 L249.30,128.33 L249.70,128.22 L250.10,128.34 L250.50,128.34 L250.90,128.28 L251.30,128.35 L251.70,128.29 L252.10,128.19 L252.50,128.31 L252.90,128.26 L253.30,128.27 L253.70,128.26 L254.10,128.33 L254.50,128.28 L254.90,128.21 L255.30,128.28 L255.70,128.30 L256.10,128.21 L256.50,128.23 L256.90,128.23 L257.30,128.22 L257.70,128.28 L258.10,128.32 L258.50,128.37 L258.90,128.33 L259.30,128.32 L259.70,128.33 L260.10,128.34 L260.50,128.24 L260.90,128.31 L261.30,128.29 L261.70,128.26 L262.10,128.24 L262.50,128.24 L262.90,128.26 L263.30,128.20 L263.70,128.31 L264.10,128.27 L264.50,128.28 L264.90,128.30 L265.30,128.32 L265.70,128.24 L266.10,128.27 L266.50,128.18 L266.90,128.15 L267.30,128.17 L267.70,128.38 L268.10,128.18 L268.50,128.31 L268.90,128.38 L269.30,128.26 L269.70,128.39 L270.10,128.40 L270.50,128.35 L270.90,128.43 L271.30,128.33 L271.70,128.25 L272.10,128.33 L272.50,128.27 L272.90,128.22 L273.30,128.22 L273.70,128.44 L274.10,128.27 L274.50,128.30 L274.90,128.26 L275.30,128.31 L275.70,128.29 L276.10,128.28 L276.50,128.23 L276.90,128.22 L277.30,128.26 L277.70,128.32 L278.10,128.43 L278.50,128.37 L278.90,128.42 L279.30,128.34 L279.70,128.30 L280.10,128.23 L280.50,128.31 L280.90,128.18 L281.30,128.30 L281.70,128.41 L282.10,128.33 L282.50,128.38 L282.90,128.29 L283.30,128.23 L283.70,128.29 L284.10,128.29 L284.50,128.39 L284.90,128.44 L285.30,128.28 L285.70,128.30 L286.10,128.31 L286.50,128.30 L286.90,128.25 L287.30,128.33 L287.70,128.35 L288.10,128.35 L288.50,128.25 L288.90,128.32 L289.30,128.22 L289.70,128.38 L290.10,128.27 L290.50,128.31 L290.90,128.30 L291.30,128.30 L291.70,128.27 L292.10,128.23 L292.50,128.44 L292.90,128.35 L293.30,128.35 L293.70,128.46 L294.10,128.33 L294.50,128.37 L294.90,128.34 L295.30,128.41 L295.70,128.37 L296.10,128.36 L296.50,128.32 L296.90,128.36 L297.30,128.41 L297.70,128.22 L298.10,128.33 L298.50,128.32 L298.90,128.32 L299.30,128.22 L299.70,128.39 L300.10,128.29 L300.50,128.33 L300.90,128.31 L301.30,128.25 L301.70,128.32 L302.10,128.24 L302.50,128.29 L302.90,128.33 L303.30,128.35 L303.70,128.35 L304.10,128.34 L304.50,128.48 L304.90,128.38 L305.30,128.28 L305.70,128.31 L306.10,128.31 L306.50,128.34 L306.90,128.32 L307.30,128.30 L307.70,128.45 L308.10,128.36 L308.50,128.33 L308.90,128.34 L309.30,128.34 L309.70,128.44 L310.10,128.39 L310.50,128.42 L310.90,128.17 L311.30,128.38 L311.70,128.42 L312.10,128.48 L312.50,128.36 L312.90,128.26 L313.30,128.40 L313.70,128.33 L314.10,128.25 L314.50,128.33 L314.90,128.43 L315.30,128.44 L315.70,128.41 L316.10,128.30 L316.50,128.52 L316.90,128.30 L317.30,128.36 L317.70,128.28 L318.10,128.45 L318.50,128.39 L318.90,128.42 L319.30,128.37 L319.70,128.36 L320.10,128.38 L320.50,128.26 L320.90,128.43 L321.30,128.43 L321.70,128.35 L322.10,128.37 L322.50,128.39 L322.90,128.47 L323.30,128.40 L323.70,128.38 L324.10,128.34 L324.50,128.28 L324.90,128.34 L325.30,128.38 L325.70,128.36 L326.10,128.38 L326.50,128.42 L326.90,128.40 L327.30,128.39 L327.70,128.42 L328.10,128.39 L328.50,128.38 L328.90,128.41 L329.30,128.28 L329.70,128.46 L330.10,128.30 L330.50,128.43 L330.90,128.38 L331.30,128.45 L331.70,128.38 L332.10,128.33 L332.50,128.45 L332.90,128.39 L333.30,128.39 L333.70,128.39 L334.10,128.45 L334.50,128.43 L334.90,128.40 L335.30,128.29 L335.70,128.36 L336.10,128.39 L336.50,128.50 L336.90,128.41 L337.30,128.38 L337.70,128.46 L338.10,128.38 L338.50,128.39 L338.90,128.40 L339.30,128.30 L339.70,128.45 L340.10,128.42 L340.50,128.38 L340.90,128.32 L341.30,128.41 L341.70,128.48 L342.10,128.36 L342.50,128.33 L342.90,128.42 L343.30,128.30 L343.70,128.26 L344.10,128.37 L344.50,128.36 L344.90,128.38 L345.30,128.37 L345.70,128.42 L346.10,128.39 L346.50,128.36 L346.90,128.37 L347.30,128.44 L347.70,128.46 L348.10,128.46 L348.50,128.44 L348.90,128.21 L349.30,128.34 L349.70,128.39 L350.10,128.42 L350.50,128.31 L350.90,128.49 L351.30,128.42 L351.70,128.37 L352.10,128.42 L352.50,128.39 L352.90,128.36 L353.30,128.44 L353.70,128.38 L354.10,128.33 L354.50,128.37 L354.90,128.40 L355.30,128.35 L355.70,128.49 L356.10,128.35 L356.50,128.52 L356.90,128.47 L357.30,128.36 L357.70,128.42 L358.10,128.49 L358.50,128.41 L358.90,128.35 L359.30,128.42 L359.70,128.54 L360.10,128.33 L360.50,128.45 L360.90,128.42 L361.30,128.41 L361.70,128.40 L362.10,128.40 L362.50,128.49 L362.90,128.46 L363.30,128.36 L363.70,128.52 L364.10,128.35 L364.50,128.47 L364.90,128.44 L365.30,128.50 L365.70,128.45 L366.10,128.49 L366.50,128.43 L366.90,128.49 L367.30,128.45 L367.70,128.56 L368.10,128.39 L368.50,128.50 L368.90,128.46 L369.30,128.44 L369.70,128.40 L370.10,128.46 L370.50,128.35 L370.90,128.36 L371.30,128.48 L371.70,128.35 L372.10,128.53 L372.50,128.42 L372.90,128.46 L373.30,128.45 L373.70,128.47 L374.10,128.43 L374.50,128.42 L374.90,128.44 L375.30,128.51 L375.70,128.51 L376.10,128.52 L376.50,128.47 L376.90,128.44 L377.30,128.35 L377.70,128.49 L378.10,128.50 L378.50,128.43 L378.90,128.50 L379.30,128.53 L379.70,128.46 L380.10,128.52 L380.50,128.47 L380.90,128.35 L381.30,128.43 L381.70,128.43 L382.10,128.49 L382.50,128.41 L382.90,128.43 L383.30,128.40 L383.70,128.46 L384.10,128.47 L384.50,128.52 L384.90,128.51 L385.30,128.48 L385.70,128.48 L386.10,128.47 L386.50,128.48 L386.90,128.56 L387.30,128.32 L387.70,128.46 L388.10,128.49 L388.50,128.54 L388.90,128.41 L389.30,128.50 L389.70,128.53 L390.10,128.45 L390.50,128.36 L390.90,128.46 L391.30,128.41 L391.70,128.52 L392.10,128.43 L392.50,128.59 L392.90,128.49 L393.30,128.44 L393.70,128.46 L394.10,128.42 L394.50,128.51 L394.90,128.58 L395.30,128.48 L395.70,128.55 L396.10,128.44 L396.50,128.51 L396.90,128.63 L397.30,128.41 L397.70,128.57 L398.10,128.57 L398.50,128.39 L398.90,128.42 L399.30,128.44 L399.70,128.56 L400.10,128.48 L400.50,128.50 L400.90,128.55 L401.30,128.52 L401.70,128.52 L402.10,128.49 L402.50,128.58 L402.90,128.47 L403.30,128.62 L403.70,128.50 L404.10,128.47 L404.50,128.56 L404.90,128.55 L405.30,128.40 L405.70,128.54 L406.10,128.44 L406.50,128.48 L406.90,128.57 L407.30,128.48 L407.70,128.55 L408.10,128.51 L408.50,128.65 L408.90,128.53 L409.30,128.46 L409.70,128.47 L410.10,128.48 L410.50,128.55 L410.90,128.54 L411.30,128.60 L411.70,128.55 L412.10,128.55 L412.50,128.57 L412.90,128.54 L413.30,128.57 L413.70,128.60 L414.10,128.60 L414.50,128.52 L414.90,128.45 L415.30,128.51 L415.70,128.58 L416.10,128.41 L416.50,128.53 L416.90,128.59 L417.30,128.53 L417.70,128.50 L418.10,128.67 L418.50,128.65 L418.90,128.56 L419.30,128.65 L419.70,128.65 L420.10,128.51 L420.50,128.74 L420.90,128.52 L421.30,128.57 L421.70,128.52 L422.10,128.59 L422.50,128.51 L422.90,128.59 L423.30,128.66 L423.70,128.60 L424.10,128.58 L424.50,128.69 L424.90,128.54 L425.30,128.66 L425.70,128.58 L426.10,128.62 L426.50,128.61 L426.90,128.61 L427.30,128.61 L427.70,128.56 L428.10,128.58 L428.50,128.64 L428.90,128.61 L429.30,128.55 L429.70,128.58 L430.10,128.58 L430.50,128.62 L430.90,128.64 L431.30,128.63 L431.70,128.59 L432.10,128.63 L432.50,128.55 L432.90,128.46 L433.30,128.63 L433.70,128.54 L434.10,128.58 L434.50,128.57 L434.90,128.68 L435.30,128.57 L435.70,128.67 L436.10,128.62 L436.50,128.58 L436.90,128.56 L437.30,128.69 L437.70,128.68 L438.10,128.71 L438.50,128.77 L438.90,128.68 L439.30,128.68 L439.70,128.66 L440.10,128.68 L440.50,128.65 L440.90,128.62 L441.30,128.80 L441.70,128.57 L442.10,128.70 L442.50,128.71 L442.90,128.70 L443.30,128.63 L443.70,128.68 L444.10,128.67 L444.50,128.63 L444.90,128.70 L445.30,128.68 L445.70,128.67 L446.10,128.75 L446.50,128.64 L446.90,128.74 L447.30,128.67 L447.70,128.74 L448.10,128.72 L448.50,128.73 L448.90,128.66 L449.30,128.68 L449.70,128.67 L450.10,128.74 L450.50,128.77 L450.90,128.80 L451.30,128.70 L451.70,128.74 L452.10,128.64 L452.50,128.61 L452.90,128.69 L453.30,128.71 L453.70,128.66 L454.10,128.64 L454.50,128.79 L454.90,128.71 L455.30,128.66 L455.70,128.90 L456.10,128.77 L456.50,128.75 L456.90,128.81 L457.30,128.73 L457.70,128.87 L458.10,128.68 L458.50,128.70 L458.90,128.77 L459.30,128.74 L459.70,128.87 L460.10,128.69 L460.50,128.75 L460.90,128.81 L461.30,128.83 L461.70,128.86 L462.10,128.82 L462.50,128.94 L462.90,128.78 L463.30,128.82 L463.70,128.86 L464.10,128.79 L464.50,128.80 L464.90,128.79 L465.30,128.78 L465.70,128.76 L466.10,128.79 L466.50,128.74 L466.90,128.85 L467.30,128.74 L467.70,128.96 L468.10,128.94 L468.50,128.91 L468.90,128.83 L469.30,128.81 L469.70,128.92 L470.10,128.86 L470.50,128.89 L470.90,128.82 L471.30,128.93 L471.70,128.82 L472.10,128.87 L472.50,128.77 L472.90,128.83 L473.30,128.91 L473.70,128.85 L474.10,128.85 L474.50,128.93 L474.90,128.88 L475.30,128.96 L475.70,128.75 L476.10,128.93 L476.50,128.93 L476.90,128.81 L477.30,128.83 L477.70,128.96 L478.10,128.85 L478.50,128.87 L478.90,128.95 L479.30,128.90 L479.70,128.95 L480.10,128.87 L480.50,128.94 L480.90,128.99 L481.30,128.95 L481.70,128.80 L482.10,128.98 L482.50,128.94 L482.90,128.89 L483.30,129.03 L483.70,128.85 L484.10,129.06 L484.50,128.92 L484.90,129.05 L485.30,128.96 L485.70,128.88 L486.10,128.97 L486.50,128.99 L486.90,129.01 L487.30,129.04 L487.70,128.93 L488.10,129.01 L488.50,129.03 L488.90,128.97 L489.30,128.94 L489.70,128.94 L490.10,129.04 L490.50,129.05 L490.90,128.95 L491.30,128.93 L491.70,129.08 L492.10,128.92 L492.50,129.03 L492.90,128.97 L493.30,128.92 L493.70,129.03 L494.10,129.02 L494.50,129.12 L494.90,129.17 L495.30,129.03 L495.70,129.10 L496.10,129.11 L496.50,129.02 L496.90,129.00 L497.30,129.15 L497.70,129.03 L498.10,129.06 L498.50,129.04 L498.90,129.06 L499.30,129.03 L499.70,129.12 L500.10,129.15 L500.50,129.06 L500.90,129.00 L501.30,129.09 L501.70,129.00 L502.10,129.05 L502.50,129.17 L502.90,129.24 L503.30,129.12 L503.70,129.04 L504.10,129.15 L504.50,128.98 L504.90,129.07 L505.30,129.21 L505.70,129.16 L506.10,129.04 L506.50,129.03 L506.90,129.18 L507.30,129.13 L507.70,129.10 L508.10,129.16 L508.50,129.11 L508.90,129.03 L509.30,129.20 L509.70,129.11 L510.10,129.09 L510.50,129.08 L510.90,129.18 L511.30,129.12 L511.70,129.20 L512.10,129.15 L512.50,129.24 L512.90,129.15 L513.30,129.14 L513.70,129.07 L514.10,129.12 L514.50,129.23 L514.90,129.38 L515.30,129.12 L515.70,129.14 L516.10,129.22 L516.50,129.24 L516.90,129.17 L517.30,129.22 L517.70,129.12 L518.10,129.20 L518.50,129.28 L518.90,129.32 L519.30,129.22 L519.70,129.22 L520.10,129.26 L520.50,129.31 L520.90,129.27 L521.30,129.20 L521.70,129.27 L522.10,129.31 L522.50,129.21 L522.90,129.18 L523.30,129.29 L523.70,129.29 L524.10,129.33 L524.50,129.28 L524.90,129.24 L525.30,129.25 L525.70,129.22 L526.10,129.23 L526.50,129.26 L526.90,129.27 L527.30,129.36 L527.70,129.23 L528.10,129.30 L528.50,129.27 L528.90,129.40 L529.30,129.33 L529.70,129.30 L530.10,129.37 L530.50,129.33 L530.90,129.30 L531.30,129.42 L531.70,129.38 L532.10,129.44 L532.50,129.41 L532.90,129.39 L533.30,129.36 L533.70,129.29 L534.10,129.40 L534.50,129.36 L534.90,129.40 L535.30,129.37 L535.70,129.33 L536.10,129.31 L536.50,129.42 L536.90,129.46 L537.30,129.37 L537.70,129.41 L538.10,129.47 L538.50,129.34"/>
<path class="c" stroke="#da66cb" d="M22.90,160.38 L23.30,160.33 L23.70,160.47 L24.10,160.41 L24.50,160.37 L24.90,160.30 L25.30,160.39 L25.70,160.46 L26.10,160.38 L26.50,160.37 L26.90,160.43 L27.30,160.32 L27.70,160.40 L28.10,160.43 L28.50,160.35 L28.90,160.35 L29.30,160.41 L29.70,160.39 L30.10,160.38 L30.50,160.41 L30.90,160.41 L31.30,160.34 L31.70,160.35 L32.10,160.42 L32.50,160.46 L32.90,160.47 L33.30,160.34 L33.70,160.45 L34.10,160.43 L34.50,160.39 L34.90,160.42 L35.30,160.44 L35.70,160.49 L36.10,160.32 L36.50,160.42 L36.90,160.37 L37.30,160.37 L37.70,160.45 L38.10,160.43 L38.50,160.32 L38.90,160.36 L39.30,160.39 L39.70,160.29 L40.10,160.43 L40.50,160.37 L40.90,160.38 L41.30,160.39 L41.70,160.48 L42.10,160.37 L42.50,160.35 L42.90,160.47 L43.30,160.34 L43.70,160.33 L44.10,160.28 L44.50,160.43 L44.90,160.38 L45.30,160.39 L45.70,160.37 L46.10,160.35 L46.50,160.31 L46.90,160.31 L47.30,160.38 L47.70,160.36 L48.10,160.45 L48.50,160.30 L48.90,160.32 L49.30,160.29 L49.70,160.43 L50.10,160.27 L50.50,160.39 L50.90,160.43 L51.30,160.33 L51.70,160.38 L52.10,160.21 L52.50,160.31 L52.90,160.23 L53.30,160.34 L53.70,160.33 L54.10,160.28 L54.50,160.38 L54.90,160.34 L55.30,160.29 L55.70,160.29 L56.10,160.23 L56.50,160.30 L56.90,160.44 L57.30,160.27 L57.70,160.33 L58.10,160.27 L58.50,160.35 L58.90,160.33 L59.30,160.29 L59.70,160.19 L60.10,160.27 L60.50,160.37 L60.90,160.28 L61.30,160.33 L61.70,160.26 L62.10,160.18 L62.50,160.31 L62.90,160.30 L63.30,160.25 L63.70,160.26 L64.10,160.29 L64.50,160.24 L64.90,160.29 L65.30,160.26 L65.70,160.13 L66.10,160.25 L66.50,160.23 L66.90,160.21 L67.30,160.28 L67.70,160.22 L68.10,160.28 L68.50,160.31 L68.90,160.25 L69.30,160.15 L69.70,160.20 L70.10,160.29 L70.50,160.22 L70.90,160.19 L71.30,160.23 L71.70,160.26 L72.10,160.24 L72.50,160.26 L72.90,160.17 L73.30,160.20 L73.70,160.20 L74.10,160.21 L74.50,160.09 L74.90,160.19 L75.30,160.12 L75.70,160.28 L76.10,160.29 L76.50,160.29 L76.90,160.24 L77.30,160.16 L77.70,160.24 L78.10,160.17 L78.50,160.22 L78.90,160.12 L79.30,160.14 L79.70,160.20 L80.10,160.27 L80.50,160.16 L80.90,160.30 L81.30,160.32 L81.70,160.08 L82.10,160.15 L82.50,160.09 L82.90,160.14 L83.30,160.11 L83.70,160.14 L84.10,160.20 L84.50,160.19 L84.90,160.15 L85.30,160.13 L85.70,160.13 L86.10,160.13 L86.50,160.15 L86.90,160.12 L87.30,160.14 L87.70,160.03 L88.10,160.15 L88.50,160.21 L88.90,160.11 L89.30,160.01 L89.70,160.17 L90.10,160.07 L90.50,159.91 L90.90,160.07 L91.30,160.11 L91.70,160.10 L92.10,160.14 L92.50,160.10 L92.90,160.07 L93.30,159.94 L93.70,159.99 L94.10,160.06 L94.50,160.09 L94.90,159.99 L95.30,160.01 L95.70,160.07 L96.10,159.92 L96.50,159.92 L96.90,160.01 L97.30,160.04 L97.70,159.99 L98.10,159.88 L98.50,160.01 L98.90,159.93 L99.30,160.04 L99.70,160.00 L100.10,160.01 L100.50,160.03 L100.90,159.96 L101.30,160.03 L101.70,160.05 L102.10,160.00 L102.50,160.04 L102.90,159.92 L103.30,160.01 L103.70,159.96 L104.10,159.88 L104.50,159.92 L104.90,159.88 L105.30,159.87 L105.70,159.90 L106.10,159.95 L106.50,159.86 L106.90,159.87 L107.30,159.76 L107.70,159.85 L108.10,159.89 L108.50,159.86 L108.90,159.83 L109.30,159.75 L109.70,159.71 L110.10,159.75 L110.50,159.66 L110.90,159.66 L111.30,159.77 L111.70,159.64 L112.10,159.79 L112.50,159.58 L112.90,159.67 L113.30,159.56 L113.70,159.63 L114.10,159.54 L114.50,159.58 L114.90,159.55 L115.30,159.52 L115.70,159.56 L116.10,159.60 L116.50,159.46 L116.90,159.52 L117.30,159.46 L117.70,159.43 L118.10,159.55 L118.50,159.27 L118.90,159.34 L119.30,159.25 L119.70,159.32 L120.10,159.30 L120.50,159.52 L120.90,159.30 L121.30,159.36 L121.70,159.31 L122.10,159.19 L122.50,159.22 L122.90,159.27 L123.30,159.16 L123.70,159.14 L124.10,159.14 L124.50,159.00 L124.90,159.02 L125.30,159.07 L125.70,159.06 L126.10,158.95 L126.50,158.97 L126.90,158.96 L127.30,158.94 L127.70,158.96 L128.10,158.91 L128.50,158.89 L128.90,158.78 L129.30,158.78 L129.70,158.84 L130.10,158.70 L130.50,158.79 L130.90,158.72 L131.30,158.69 L131.70,158.76 L132.10,158.66 L132.50,158.63 L132.90,158.62 L133.30,158.64 L133.70,158.78 L134.10,158.47 L134.50,158.58 L134.90,158.55 L135.30,158.60 L135.70,158.50 L136.10,158.36 L136.50,158.57 L136.90,158.40 L137.30,158.45 L137.70,158.35 L138.10,158.35 L138.50,158.37 L138.90,158.43 L139.30,158.41 L139.70,158.31 L140.10,158.36 L140.50,158.29 L140.90,158.31 L141.30,158.29 L141.70,158.31 L142.10,158.22 L142.50,158.23 L142.90,158.24 L143.30,158.22 L143.70,158.15 L144.10,158.29 L144.50,158.15 L144.90,158.21 L145.30,158.16 L145.70,158.21 L146.10,158.00 L146.50,158.24 L146.90,158.09 L147.30,158.02 L147.70,158.09 L148.10,158.21 L148.50,158.10 L148.90,157.99 L149.30,158.03 L149.70,158.13 L150.10,157.96 L150.50,158.02 L150.90,158.01 L151.30,158.15 L151.70,158.00 L152.10,158.09 L152.50,157.97 L152.90,157.96 L153.30,158.06 L153.70,158.04 L154.10,157.90 L154.50,158.04 L154.90,158.04 L155.30,157.96 L155.70,158.01 L156.10,158.02 L156.50,157.97 L156.90,157.97 L157.30,157.96 L157.70,157.99 L158.10,157.93 L158.50,158.00 L158.90,157.92 L159.30,158.02 L159.70,158.01 L160.10,157.96 L160.50,158.07 L160.90,158.14 L161.30,158.11 L161.70,157.95 L162.10,158.11 L162.50,158.05 L162.90,158.04 L163.30,158.01 L163.70,158.05 L164.10,158.14 L164.50,158.10 L164.90,158.04 L165.30,158.03 L165.70,158.05 L166.10,158.12 L166.50,158.20 L166.90,158.03 L167.30,158.10 L167.70,158.09 L168.10,158.07 L168.50,158.15 L168.90,158.16 L169.30,158.05 L169.70,158.08 L170.10,158.23 L170.50,158.18 L170.90,158.20 L171.30,158.15 L171.70,158.16 L172.10,158.22 L172.50,158.17 L172.90,158.15 L173.30,158.22 L173.70,158.28 L174.10,158.18 L174.50,158.31 L174.90,158.30 L175.30,158.22 L175.70,158.28 L176.10,158.28 L176.50,158.33 L176.90,158.35 L177.30,158.24 L177.70,158.25 L178.10,158.40 L178.50,158.36 L178.90,158.38 L179.30,158.39 L179.70,158.47 L180.10,158.32 L180.50,158.47 L180.90,158.37 L181.30,158.47 L181.70,158.52 L182.10,158.37 L182.50,158.48 L182.90,158.46 L183.30,158.47 L183.70,158.50 L184.10,158.45 L184.50,158.46 L184.90,158.57 L185.30,158.60 L185.70,158.52 L186.10,158.48 L186.50,158.72 L186.90,158.66 L187.30,158.63 L187.70,158.56 L188.10,158.60 L188.50,158.66 L188.90,158.60 L189.30,158.77 L189.70,158.69 L190.10,158.72 L190.50,158.65 L190.90,158.67 L191.30,158.69 L191.70,158.77 L192.10,158.75 L192.50,158.76 L192.90,158.81 L193.30,158.82 L193.70,158.90 L194.10,158.82 L194.50,158.78 L194.90,158.86 L195.30,158.96 L195.70,158.85 L196.10,158.90 L196.50,158.89 L196.90,158.95 L197.30,158.95 L197.70,158.90 L198.10,158.95 L198.50,159.04 L198.90,159.06 L199.30,159.06 L199.70,159.07 L200.10,159.01 L200.50,159.03 L200.90,159.12 L201.30,159.01 L201.70,159.09 L202.10,158.99 L202.50,159.09 L202.90,159.09 L203.30,159.07 L203.70,159.19 L204.10,159.13 L204.50,159.16 L204.90,159.18 L205.30,159.17 L205.70,159.31 L206.10,159.21 L206.50,159.26 L206.90,159.19 L207.30,159.25 L207.70,159.27 L208.10,159.28 L208.50,159.28 L208.90,159.34 L209.30,159.43 L209.70,159.35 L210.10,159.36 L210.50,159.36 L210.90,159.54 L211.30,159.50 L211.70,159.45 L212.10,159.47 L212.50,159.40 L212.90,159.45 L213.30,159.48 L213.70,159.49 L214.10,159.44 L214.50,159.46 L214.90,159.55 L215.30,159.55 L215.70,159.42 L216.10,159.56 L216.50,159.64 L216.90,159.54 L217.30,159.60 L217.70,159.51 L218.10,159.66 L218.50,159.55 L218.90,159.56 L219.30,159.62 L219.70,159.79 L220.10,159.63 L220.50,159.60 L220.90,159.71 L221.30,159.71 L221.70,159.80 L222.10,159.64 L222.50,159.63 L222.90,159.72 L223.30,159.77 L223.70,159.77 L224.10,159.83 L224.50,159.68 L224.90,159.73 L225.30,159.78 L225.70,159.85 L226.10,159.84 L226.50,159.79 L226.90,159.76 L227.30,159.88 L227.70,159.90 L228.10,160.01 L228.50,159.85 L228.90,159.96 L229.30,159.80 L229.70,159.85 L230.10,159.85 L230.50,159.86 L230.90,159.85 L231.30,159.87 L231.70,159.91 L232.10,159.89 L232.50,159.96 L232.90,159.92 L233.30,159.93 L233.70,160.03 L234.10,159.96 L234.50,159.96 L234.90,159.95 L235.30,159.96 L235.70,160.00 L236.10,159.92 L236.50,160.04 L236.90,160.07 L237.30,160.05 L237.70,159.95 L238.10,159.89 L238.50,159.96 L238.90,160.00 L239.30,160.04 L239.70,159.99 L240.10,159.98 L240.50,160.09 L240.90,159.96 L241.30,160.07 L241.70,160.06 L242.10,159.93 L242.50,160.03 L242.90,159.98 L243.30,159.96 L243.70,159.91 L244.10,159.93 L244.50,160.04 L244.90,160.00 L245.30,160.04 L245.70,159.96 L246.10,160.01 L246.50,160.01 L246.90,159.94 L247.30,159.93 L247.70,160.06 L248.10,160.04 L248.50,159.98 L248.90,160.03 L249.30,160.08 L249.70,160.15 L250.10,159.99 L250.50,160.08 L250.90,160.17 L251.30,160.05 L251.70,160.14 L252.10,159.90 L252.50,160.14 L252.90,160.06 L253.30,159.95 L253.70,160.11 L254.10,160.12 L254.50,160.13 L254.90,160.14 L255.30,160.06 L255.70,160.02 L256.10,160.04 L256.50,160.07 L256.90,160.10 L257.30,160.05 L257.70,160.08 L258.10,160.13 L258.50,160.10 L258.90,160.22 L259.30,160.21 L259.70,160.02 L260.10,160.05 L260.50,160.01 L260.90,160.02 L261.30,160.12 L261.70,160.03 L262.10,160.03 L262.50,160.08 L262.90,160.14 L263.30,160.08 L263.70,160.08 L264.10,160.15 L264.50,160.13 L264.90,160.13 L265.30,160.16 L265.70,160.05 L266.10,160.12 L266.50,160.07 L266.90,160.17 L267.30,160.16 L267.70,160.05 L268.10,160.19 L268.50,160.05 L268.90,160.19 L269.30,160.13 L269.70,160.07 L270.10,160.05 L270.50,160.10 L270.90,160.12 L271.30,160.08 L271.70,160.16 L272.10,160.04 L272.50,160.13 L272.90,160.13 L273.30,160.02 L273.70,160.15 L274.10,160.06 L274.50,159.99 L274.90,160.10 L275.30,160.12 L275.70,160.19 L276.10,160.11 L276.50,160.23 L276.90,160.23 L277.30,160.21 L277.70,160.22 L278.10,160.17 L278.50,160.11 L278.90,160.19 L279.30,160.21 L279.70,160.16 L280.10,160.14 L280.50,160.06 L280.90,160.19 L281.30,160.18 L281.70,160.08 L282.10,160.16 L282.50,160.20 L282.90,160.15 L283.30,160.21 L283.70,160.21 L284.10,160.08 L284.50,160.15 L284.90,160.19 L285.30,160.22 L285.70,160.25 L286.10,160.05 L286.50,160.17 L286.90,160.21 L287.30,160.24 L287.70,160.27 L288.10,160.12 L288.50,160.15 L288.90,160.11 L289.30,160.23 L289.70,160.10 L290.10,160.25 L290.50,160.24 L290.90,160.21 L291.30,160.05 L291.70,160.14 L292.10,160.23 L292.50,160.10 L292.90,160.17 L293.30,160.18 L293.70,160.24 L294.10,160.21 L294.50,160.21 L294.90,160.16 L295.30,160.19 L295.70,160.18 L296.10,160.24 L296.50,160.18 L296.90,160.26 L297.30,160.10 L297.70,160.27 L298.10,160.19 L298.50,160.27 L298.90,160.20 L299.30,160.25 L299.70,160.29 L300.10,160.17 L300.50,160.21 L300.90,160.19 L301.30,160.22 L301.70,160.11 L302.10,160.20 L302.50,160.19 L302.90,160.16 L303.30,160.20 L303.70,160.12 L304.10,160.29 L304.50,160.24 L304.90,160.32 L305.30,160.16 L305.70,160.15 L306.10,160.23 L306.50,160.12 L306.90,160.23 L307.30,160.18 L307.70,160.20 L308.10,160.23 L308.50,160.22 L308.90,160.33 L309.30,160.26 L309.70,160.15 L310.10,160.28 L310.50,160.15 L310.90,160.23 L311.30,160.15 L311.70,160.18 L312.10,160.31 L312.50,160.20 L312.90,160.19 L313.30,160.20 L313.70,160.21 L314.10,160.32 L314.50,160.16 L314.90,160.16 L315.30,160.27 L315.70,160.14 L316.10,160.21 L316.50,160.30 L316.90,160.24 L317.30,160.21 L317.70,160.20 L318.10,160.18 L318.50,160.20 L318.90,160.25 L319.30,160.31 L319.70,160.30 L320.10,160.21 L320.50,160.20 L320.90,160.29 L321.30,160.14 L321.70,160.22 L322.10,160.23 L322.50,160.18 L322.90,160.19 L323.30,160.27 L323.70,160.15 L324.10,160.20 L324.50,160.21 L324.90,160.26 L325.30,160.17 L325.70,160.32 L326.10,160.23 L326.50,160.24 L326.90,160.23 L327.30,160.21 L327.70,160.20 L328.10,160.32 L328.50,160.27 L328.90,160.25 L329.30,160.32 L329.70,160.22 L330.10,160.30 L330.50,160.26 L330.90,160.21 L331.30,160.31 L331.70,160.17 L332.10,160.30 L332.50,160.21 L332.90,160.29 L333.30,160.35 L333.70,160.30 L334.10,160.23 L334.50,160.26 L334.90,160.25 L335.30,160.20 L335.70,160.20 L336.10,160.27 L336.50,160.30 L336.90,160.17 L337.30,160.27 L337.70,160.30 L338.10,160.28 L338.50,160.21 L338.90,160.33 L339.30,160.20 L339.70,160.31 L340.10,160.37 L340.50,160.16 L340.90,160.29 L341.30,160.30 L341.70,160.29 L342.10,160.23 L342.50,160.26 L342.90,160.20 L343.30,160.29 L343.70,160.31 L344.10,160.24 L344.50,160.23 L344.90,160.25 L345.30,160.28 L345.70,160.29 L346.10,160.28 L346.50,160.29 L346.90,160.21 L347.30,160.13 L347.70,160.32 L348.10,160.37 L348.50,160.21 L348.90,160.25 L349.30,160.31 L349.70,160.35 L350.10,160.33 L350.50,160.37 L350.90,160.29 L351.30,160.32 L351.70,160.32 L352.10,160.27 L352.50,160.37 L352.90,160.33 L353.30,160.35 L353.70,160.27 L354.10,160.36 L354.50,160.24 L354.90,160.32 L355.30,160.15 L355.70,160.24 L356.10,160.34 L356.50,160.28 L356.90,160.31 L357.30,160.21 L357.70,160.40 L358.10,160.34 L358.50,160.30 L358.90,160.33 L359.30,160.33 L359.70,160.39 L360.10,160.32 L360.50,160.22 L360.90,160.29 L361.30,160.39 L361.70,160.34 L362.10,160.29 L362.50,160.35 L362.90,160.32 L363.30,160.35 L363.70,160.22 L364.10,160.26 L364.50,160.36 L364.90,160.30 L365.30,160.34 L365.70,160.43 L366.10,160.30 L366.50,160.33 L366.90,160.29 L367.30,160.28 L367.70,160.32 L368.10,160.24 L368.50,160.20 L368.90,160.40 L369.30,160.32 L369.70,160.39 L370.10,160.33 L370.50,160.34 L370.90,160.37 L371.30,160.37 L371.70,160.26 L372.10,160.40 L372.50,160.27 L372.90,160.34 L373.30,160.48 L373.70,160.34 L374.10,160.43 L374.50,160.31 L374.90,160.37 L375.30,160.34 L375.70,160.36 L376.10,160.29 L376.50,160.29 L376.90,160.36 L377.30,160.25 L377.70,160.29 L378.10,160.38 L378.50,160.31 L378.90,160.29 L379.30,160.28 L379.70,160.35 L380.10,160.33 L380.50,160.36 L380.90,160.34 L381.30,160.46 L381.70,160.32 L382.10,160.24 L382.50,160.36 L382.90,160.35 L383.30,160.36 L383.70,160.26 L384.10,160.42 L384.50,160.35 L384.90,160.35 L385.30,160.27 L385.70,160.39 L386.10,160.36 L386.50,160.44 L386.90,160.34 L387.30,160.29 L387.70,160.37 L388.10,160.31 L388.50,160.39 L388.90,160.30 L389.30,160.36 L389.70,160.36 L390.10,160.37 L390.50,160.34 L390.90,160.32 L391.30,160.37 L391.70,160.34 L392.10,160.38 L392.50,160.36 L392.90,160.24 L393.30,160.37 L393.70,160.46 L394.10,160.40 L394.50,160.41 L394.90,160.41 L395.30,160.35 L395.70,160.31 L396.10,160.43 L396.50,160.45 L396.90,160.42 L397.30,160.41 L397.70,160.41 L398.10,160.39 L398.50,160.41 L398.90,160.39 L399.30,160.41 L399.70,160.34 L400.10,160.36 L400.50,160.43 L400.90,160.38 L401.30,160.26 L401.70,160.41 L402.10,160.27 L402.50,160.51 L402.90,160.44 L403.30,160.44 L403.70,160.37 L404.10,160.34 L404.50,160.39 L404.90,160.41 L405.30,160.36 L405.70,160.42 L406.10,160.45 L406.50,160.45 L406.90,160.35 L407.30,160.29 L407.70,160.42 L408.10,160.38 L408.50,160.44 L408.90,160.51 L409.30,160.51 L409.70,160.44 L410.10,160.49 L410.50,160.52 L410.90,160.43 L411.30,160.44 L411.70,160.48 L412.10,160.43 L412.50,160.40 L412.90,160.39 L413.30,160.43 L413.70,160.40 L414.10,160.48 L414.50,160.41 L414.90,160.52 L415.30,160.51 L415.70,160.37 L416.10,160.50 L416.50,160.42 L416.90,160.52 L417.30,160.47 L417.70,160.44 L418.10,160.48 L418.50,160.41 L418.90,160.47 L419.30,160.47 L419.70,160.44 L420.10,160.47 L420.50,160.39 L420.90,160.48 L421.30,160.38 L421.70,160.49 L422.10,160.48 L422.50,160.50 L422.90,160.43 L423.30,160.63 L423.70,160.45 L424.10,160.47 L424.50,160.42 L424.90,160.55 L425.30,160.44 L425.70,160.52 L426.10,160.41 L426.50,160.49 L426.90,160.45 L427.30,160.52 L427.70,160.46 L428.10,160.42 L428.50,160.50 L428.90,160.41 L429.30,160.42 L429.70,160.52 L430.10,160.37 L430.50,160.52 L430.90,160.46 L431.30,160.43 L431.70,160.50 L432.10,160.52 L432.50,160.45 L432.90,160.48 L433.30,160.53 L433.70,160.53 L434.10,160.49 L434.50,160.45 L434.90,160.44 L435.30,160.46 L435.70,160.53 L436.10,160.53 L436.50,160.51 L436.90,160.58 L437.30,160.48 L437.70,160.48 L438.10,160.48 L438.50,160.61 L438.90,160.39 L439.30,160.52 L439.70,160.53 L440.10,160.51 L440.50,160.64 L440.90,160.58 L441.30,160.56 L441.70,160.46 L442.10,160.54 L442.50,160.49 L442.90,160.52 L443.30,160.53 L443.70,160.49 L444.10,160.56 L444.50,160.61 L444.90,160.58 L445.30,160.54 L445.70,160.42 L446.10,160.59 L446.50,160.59 L446.90,160.52 L447.30,160.50 L447.70,160.57 L448.10,160.49 L448.50,160.58 L448.90,160.47 L449.30,160.48 L449.70,160.54 L450.10,160.46 L450.50,160.54 L450.90,160.57 L451.30,160.47 L451.70,160.59 L452.10,160.51 L452.50,160.58 L452.90,160.56 L453.30,160.52 L453.70,160.52 L454.10,160.45 L454.50,160.51 L454.90,160.51 L455.30,160.64 L455.70,160.61 L456.10,160.48 L456.50,160.60 L456.90,160.57 L457.30,160.54 L457.70,160.59 L458.10,160.61 L458.50,160.53 L458.90,160.55 L459.30,160.57 L459.70,160.51 L460.10,160.58 L460.50,160.56 L460.90,160.53 L461.30,160.52 L461.70,160.59 L462.10,160.62 L462.50,160.59 L462.90,160.53 L463.30,160.62 L463.70,160.59 L464.10,160.61 L464.50,160.64 L464.90,160.53 L465.30,160.57 L465.70,160.55 L466.10,160.53 L466.50,160.70 L466.90,160.64 L467.30,160.49 L467.70,160.61 L468.10,160.56 L468.50,160.66 L468.90,160.60 L469.30,160.58 L469.70,160.60 L470.10,160.62 L470.50,160.60 L470.90,160.59 L471.30,160.59 L471.70,160.63 L472.10,160.54 L472.50,160.60 L472.90,160.60 L473.30,160.58 L473.70,160.65 L474.10,160.53 L474.50,160.59 L474.90,160.56 L475.30,160.64 L475.70,160.59 L476.10,160.62 L476.50,160.64 L476.90,160.53 L477.30,160.64 L477.70,160.58 L478.10,160.60 L478.50,160.61 L478.90,160.67 L479.30,160.66 L479.70,160.72 L480.10,160.63 L480.50,160.60 L480.90,160.60 L481.30,160.66 L481.70,160.72 L482.10,160.65 L482.50,160.60 L482.90,160.65 L483.30,160.65 L483.70,160.64 L484.10,160.59 L484.50,160.49 L484.90,160.61 L485.30,160.70 L485.70,160.65 L486.10,160.52 L486.50,160.64 L486.90,160.54 L487.30,160.76 L487.70,160.66 L488.10,160.58 L488.50,160.69 L488.90,160.61 L489.30,160.68 L489.70,160.65 L490.10,160.59 L490.50,160.69 L490.90,160.58 L491.30,160.73 L491.70,160.66 L492.10,160.60 L492.50,160.56 L492.90,160.75 L493.30,160.74 L493.70,160.59 L494.10,160.76 L494.50,160.68 L494.90,160.66 L495.30,160.66 L495.70,160.66 L496.10,160.75 L496.50,160.68 L496.90,160.57 L497.30,160.79 L497.70,160.73 L498.10,160.62 L498.50,160.66 L498.90,160.63 L499.30,160.68 L499.70,160.70 L500.10,160.70 L500.50,160.65 L500.90,160.64 L501.30,160.73 L501.70,160.68 L502.10,160.82 L502.50,160.65 L502.90,160.74 L503.30,160.70 L503.70,160.65 L504.10,160.77 L504.50,160.70 L504.90,160.65 L505.30,160.68 L505.70,160.76 L506.10,160.63 L506.50,160.78 L506.90,160.74 L507.30,160.69 L507.70,160.78 L508.10,160.80 L508.50,160.74 L508.90,160.72 L509.30,160.81 L509.70,160.80 L510.10,160.66 L510.50,160.70 L510.90,160.70 L511.30,160.69 L511.70,160.63 L512.10,160.77 L512.50,160.72 L512.90,160.73 L513.30,160.80 L513.70,160.69 L514.10,160.72 L514.50,160.74 L514.90,160.70 L515.30,160.72 L515.70,160.77 L516.10,160.73 L516.50,160.81 L516.90,160.69 L517.30,160.75 L517.70,160.66 L518.10,160.73 L518.50,160.70 L518.90,160.82 L519.30,160.78 L519.70,160.77 L520.10,160.85 L520.50,160.83 L520.90,160.79 L521.30,160.71 L521.70,160.67 L522.10,160.75 L522.50,160.73 L522.90,160.71 L523.30,160.74 L523.70,160.66 L524.10,160.84 L524.50,160.69 L524.90,160.72 L525.30,160.79 L525.70,160.67 L526.10,160.81 L526.50,160.82 L526.90,160.75 L527.30,160.70 L527.70,160.74 L528.10,160.66 L528.50,160.85 L528.90,160.77 L529.30,160.73 L529.70,160.72 L530.10,160.81 L530.50,160.86 L530.90,160.70 L531.30,160.74 L531.70,160.68 L532.10,160.82 L532.50,160.79 L532.90,160.91 L533.30,160.78 L533.70,160.76 L534.10,160.75 L534.50,160.83 L534.90,160.70 L535.30,160.83 L535.70,160.80 L536.10,160.76 L536.50,160.74 L536.90,160.85 L537.30,160.90 L537.70,160.77 L538.10,160.83 L538.50,160.90"/>
<path class="c" stroke="#2fa3a3" d="M22.90,191.96 L23.30,191.98 L23.70,191.93 L24.10,191.99 L24.50,191.99 L24.90,191.97 L25.30,191.95 L25.70,191.90 L26.10,191.91 L26.50,191.93 L26.90,192.02 L27.30,191.95 L27.70,191.93 L28.10,192.01 L28.50,192.00 L28.90,191.92 L29.30,191.93 L29.70,192.00 L30.10,191.98 L30.50,191.91 L30.90,191.97 L31.30,191.95 L31.70,192.01 L32.10,191.90 L32.50,191.99 L32.90,191.96 L33.30,191.88 L33.70,191.99 L34.10,191.98 L34.50,191.85 L34.90,192.04 L35.30,191.85 L35.70,191.86 L36.10,191.89 L36.50,191.95 L36.90,191.94 L37.30,191.90 L37.70,191.98 L38.10,191.92 L38.50,191.97 L38.90,192.05 L39.30,191.89 L39.70,191.73 L40.10,191.85 L40.50,191.81 L40.90,191.87 L41.30,191.87 L41.70,191.79 L42.10,191.79 L42.50,191.83 L42.90,191.83 L43.30,191.69 L43.70,191.89 L44.10,191.83 L44.50,191.83 L44.90,191.84 L45.30,191.76 L45.70,191.81 L46.10,191.87 L46.50,191.87 L46.90,191.83 L47.30,191.78 L47.70,191.74 L48.10,191.86 L48.50,191.81 L48.90,191.75 L49.30,191.64 L49.70,191.72 L50.10,191.65 L50.50,191.83 L50.90,191.76 L51.30,191.70 L51.70,191.72 L52.10,191.89 L52.50,191.80 L52.90,191.65 L53.30,191.71 L53.70,191.64 L54.10,191.61 L54.50,191.71 L54.90,191.84 L55.30,191.78 L55.70,191.69 L56.10,191.66 L56.50,191.69 L56.90,191.73 L57.30,191.58 L57.70,191.55 L58.10,191.76 L58.50,191.66 L58.90,191.73 L59.30,191.65 L59.70,191.71 L60.10,191.59 L60.50,191.64 L60.90,191.70 L61.30,191.66 L61.70,191.57 L62.10,191.64 L62.50,191.55 L62.90,191.49 L63.30,191.60 L63.70,191.65 L64.10,191.61 L64.50,191.48 L64.90,191.60 L65.30,191.58 L65.70,191.51 L66.10,191.38 L66.50,191.58 L66.90,191.57 L67.30,191.54 L67.70,191.40 L68.10,191.41 L68.50,191.55 L68.90,191.53 L69.30,191.50 L69.70,191.45 L70.10,191.48 L70.50,191.42 L70.90,191.43 L71.30,191.39 L71.70,191.45 L72.10,191.40 L72.50,191.48 L72.90,191.46 L73.30,191.36 L73.70,191.51 L74.10,191.33 L74.50,191.41 L74.90,191.44 L75.30,191.45 L75.70,191.23 L76.10,191.42 L76.50,191.42 L76.90,191.43 L77.30,191.20 L77.70,191.29 L78.10,191.32 L78.50,191.29 L78.90,191.39 L79.30,191.26 L79.70,191.37 L80.10,191.32 L80.50,191.19 L80.90,191.21 L81.30,191.23 L81.70,191.26 L82.10,191.31 L82.50,191.23 L82.90,191.29 L83.30,191.13 L83.70,191.03 L84.10,191.19 L84.50,191.23 L84.90,191.17 L85.30,191.13 L85.70,191.21 L86.10,191.29 L86.50,191.16 L86.90,191.11 L87.30,191.10 L87.70,191.26 L88.10,191.13 L88.50,191.16 L88.90,191.19 L89.30,191.18 L89.70,191.05 L90.10,191.15 L90.50,191.14 L90.90,191.11 L91.30,191.13 L91.70,191.03 L92.10,191.05 L92.50,191.02 L92.90,191.09 L93.30,190.99 L93.70,191.05 L94.10,190.95 L94.50,191.00 L94.90,190.98 L95.30,190.99 L95.70,190.99 L96.10,190.97 L96.50,190.96 L96.90,190.84 L97.30,191.02 L97.70,190.91 L98.10,190.92 L98.50,190.88 L98.90,190.98 L99.30,190.86 L99.70,190.94 L100.10,190.97 L100.50,190.99 L100.90,190.95 L101.30,190.91 L101.70,190.79 L102.10,190.93 L102.50,190.92 L102.90,190.88 L103.30,190.87 L103.70,190.82 L104.10,190.77 L104.50,190.86 L104.90,190.86 L105.30,190.71 L105.70,190.81 L106.10,190.76 L106.50,190.79 L106.90,190.74 L107.30,190.77 L107.70,190.76 L108.10,190.73 L108.50,190.59 L108.90,190.70 L109.30,190.64 L109.70,190.56 L110.10,190.66 L110.50,190.52 L110.90,190.64 L111.30,190.67 L111.70,190.53 L112.10,190.60 L112.50,190.55 L112.90,190.55 L113.30,190.41 L113.70,190.52 L114.10,190.47 L114.50,190.49 L114.90,190.43 L115.30,190.48 L115.70,190.42 L116.10,190.42 L116.50,190.45 L116.90,190.36 L117.30,190.39 L117.70,190.33 L118.10,190.33 L118.50,190.25 L118.90,190.31 L119.30,190.32 L119.70,190.23 L120.10,190.27 L120.50,190.23 L120.90,190.12 L121.30,190.19 L121.70,190.23 L122.10,190.10 L122.50,190.01 L122.90,190.11 L123.30,190.04 L123.70,190.18 L124.10,190.05 L124.50,190.03 L124.90,189.98 L125.30,190.01 L125.70,189.95 L126.10,189.91 L126.50,189.94 L126.90,189.88 L127.30,189.99 L127.70,189.83 L128.10,189.88 L128.50,189.82 L128.90,189.77 L129.30,189.93 L129.70,189.69 L130.10,189.88 L130.50,189.70 L130.90,189.77 L131.30,189.88 L131.70,189.61 L132.10,189.64 L132.50,189.78 L132.90,189.70 L133.30,189.64 L133.70,189.66 L134.10,189.59 L134.50,189.64 L134.90,189.70 L135.30,189.58 L135.70,189.59 L136.10,189.64 L136.50,189.67 L136.90,189.51 L137.30,189.55 L137.70,189.48 L138.10,189.46 L138.50,189.47 L138.90,189.44 L139.30,189.36 L139.70,189.33 L140.10,189.40 L140.50,189.44 L140.90,189.49 L141.30,189.37 L141.70,189.38 L142.10,189.42 L142.50,189.42 L142.90,189.35 L143.30,189.35 L143.70,189.45 L144.10,189.31 L144.50,189.29 L144.90,189.22 L145.30,189.33 L145.70,189.28 L146.10,189.40 L146.50,189.26 L146.90,189.32 L147.30,189.32 L147.70,189.36 L148.10,189.18 L148.50,189.34 L148.90,189.24 L149.30,189.23 L149.70,189.21 L150.10,189.20 L150.50,189.20 L150.90,189.08 L151.30,189.25 L151.70,189.22 L152.10,189.15 L152.50,189.20 L152.90,189.34 L153.30,189.23 L153.70,189.18 L154.10,189.30 L154.50,189.16 L154.90,189.19 L155.30,189.17 L155.70,189.19 L156.10,189.25 L156.50,189.24 L156.90,189.17 L157.30,189.20 L157.70,189.22 L158.10,189.19 L158.50,189.22 L158.90,189.18 L159.30,189.18 L159.70,189.23 L160.10,189.17 L160.50,189.26 L160.90,189.23 L161.30,189.19 L161.70,189.22 L162.10,189.23 L162.50,189.25 L162.90,189.28 L163.30,189.26 L163.70,189.23 L164.10,189.37 L164.50,189.35 L164.90,189.31 L165.30,189.37 L165.70,189.34 L166.10,189.31 L166.50,189.34 L166.90,189.50 L167.30,189.41 L167.70,189.42 L168.10,189.35 L168.50,189.41 L168.90,189.52 L169.30,189.42 L169.70,189.47 L170.10,189.49 L170.50,189.46 L170.90,189.53 L171.30,189.46 L171.70,189.49 L172.10,189.43 L172.50,189.63 L172.90,189.51 L173.30,189.51 L173.70,189.59 L174.10,189.50 L174.50,189.54 L174.90,189.50 L175.30,189.56 L175.70,189.55 L176.10,189.62 L176.50,189.59 L176.90,189.58 L177.30,189.61 L177.70,189.63 L178.10,189.62 L178.50,189.72 L178.90,189.71 L179.30,189.70 L179.70,189.63 L180.10,189.75 L180.50,189.65 L180.90,189.75 L181.30,189.76 L181.70,189.74 L182.10,189.74 L182.50,189.76 L182.90,189.93 L183.30,189.81 L183.70,189.83 L184.10,189.91 L184.50,189.89 L184.90,189.94 L185.30,189.83 L185.70,189.85 L186.10,190.12 L186.50,189.94 L186.90,189.94 L187.30,189.98 L187.70,190.04 L188.10,189.93 L188.50,190.03 L188.90,190.03 L189.30,190.08 L189.70,190.07 L190.10,190.04 L190.50,190.04 L190.90,189.96 L191.30,190.17 L191.70,190.05 L192.10,190.12 L192.50,190.26 L192.90,190.15 L193.30,190.22 L193.70,190.19 L194.10,190.26 L194.50,190.23 L194.90,190.22 L195.30,190.34 L195.70,190.26 L196.10,190.21 L196.50,190.28 L196.90,190.35 L197.30,190.27 L197.70,190.39 L198.10,190.40 L198.50,190.50 L198.90,190.35 L199.30,190.44 L199.70,190.32 L200.10,190.40 L200.50,190.45 L200.90,190.48 L201.30,190.46 L201.70,190.48 L202.10,190.46 L202.50,190.48 L202.90,190.54 L203.30,190.56 L203.70,190.58 L204.10,190.61 L204.50,190.64 L204.90,190.48 L205.30,190.56 L205.70,190.60 L206.10,190.58 L206.50,190.69 L206.90,190.68 L207.30,190.64 L207.70,190.67 L208.10,190.75 L208.50,190.66 L208.90,190.68 L209.30,190.76 L209.70,190.74 L210.10,190.81 L210.50,190.76 L210.90,190.79 L211.30,190.72 L211.70,190.71 L212.10,190.77 L212.50,190.63 L212.90,190.81 L213.30,190.85 L213.70,190.81 L214.10,190.80 L214.50,190.88 L214.90,190.83 L215.30,190.89 L215.70,190.97 L216.10,190.89 L216.50,190.91 L216.90,190.89 L217.30,190.88 L217.70,190.89 L218.10,190.88 L218.50,190.95 L218.90,190.80 L219.30,190.88 L219.70,190.94 L220.10,190.85 L220.50,190.90 L220.90,190.87 L221.30,190.94 L221.70,190.97 L222.10,191.01 L222.50,190.96 L222.90,190.89 L223.30,190.95 L223.70,190.97 L224.10,191.02 L224.50,190.82 L224.90,190.97 L225.30,190.85 L225.70,191.00 L226.10,190.99 L226.50,190.99 L226.90,191.02 L227.30,191.00 L227.70,190.94 L228.10,191.00 L228.50,191.05 L228.90,190.98 L229.30,190.99 L229.70,190.93 L230.10,191.07 L230.50,190.97 L230.90,190.96 L231.30,190.98 L231.70,190.96 L232.10,191.00 L232.50,191.09 L232.90,191.07 L233.30,191.11 L233.70,191.12 L234.10,190.98 L234.50,191.07 L234.90,191.13 L235.30,191.18 L235.70,190.97 L236.10,190.97 L236.50,191.08 L236.90,191.04 L237.30,191.00 L237.70,191.09 L238.10,191.02 L238.50,190.94 L238.90,191.07 L239.30,191.08 L239.70,191.12 L240.10,191.14 L240.50,191.10 L240.90,191.08 L241.30,191.06 L241.70,191.00 L242.10,191.07 L242.50,191.16 L242.90,191.14 L243.30,191.23 L243.70,191.10 L244.10,191.01 L244.50,191.17 L244.90,191.18 L245.30,191.06 L245.70,191.03 L246.10,191.14 L246.50,191.17 L246.90,191.07 L247.30,191.12 L247.70,191.10 L248.10,191.08 L248.50,191.07 L248.90,191.16 L249.30,191.13 L249.70,191.12 L250.10,191.01 L250.50,191.26 L250.90,191.11 L251.30,191.16 L251.70,191.11 L252.10,191.20 L252.50,191.09 L252.90,191.18 L253.30,191.17 L253.70,191.24 L254.10,191.12 L254.50,191.15 L254.90,191.18 L255.30,191.31 L255.70,191.11 L256.10,191.22 L256.50,191.17 L256.90,191.22 L257.30,191.25 L257.70,191.22 L258.10,191.23 L258.50,191.23 L258.90,191.18 L259.30,191.21 L259.70,191.13 L260.10,191.21 L260.50,191.18 L260.90,191.22 L261.30,191.28 L261.70,191.26 L262.10,191.27 L262.50,191.30 L262.90,191.11 L263.30,191.27 L263.70,191.25 L264.10,191.24 L264.50,191.18 L264.90,191.29 L265.30,191.32 L265.70,191.32 L266.10,191.26 L266.50,191.30 L266.90,191.32 L267.30,191.37 L267.70,191.34 L268.10,191.28 L268.50,191.28 L268.90,191.29 L269.30,191.29 L269.70,191.25 L270.10,191.33 L270.50,191.25 L270.90,191.24 L271.30,191.31 L271.70,191.26 L272.10,191.28 L272.50,191.18 L272.90,191.35 L273.30,191.30 L273.70,191.30 L274.10,191.33 L274.50,191.32 L274.90,191.27 L275.30,191.43 L275.70,191.29 L276.10,191.37 L276.50,191.42 L276.90,191.29 L277.30,191.33 L277.70,191.28 L278.10,191.39 L278.50,191.31 L278.90,191.27 L279.30,191.41 L279.70,191.39 L280.10,191.29 L280.50,191.41 L280.90,191.35 L281.30,191.50 L281.70,191.44 L282.10,191.32 L282.50,191.33 L282.90,191.30 L283.30,191.36 L283.70,191.36 L284.10,191.40 L284.50,191.36 L284.90,191.28 L285.30,191.32 L285.70,191.44 L286.10,191.43 L286.50,191.36 L286.90,191.36 L287.30,191.36 L287.70,191.37 L288.10,191.28 L288.50,191.43 L288.90,191.34 L289.30,191.39 L289.70,191.24 L290.10,191.40 L290.50,191.46 L290.90,191.26 L291.30,191.48 L291.70,191.42 L292.10,191.35 L292.50,191.30 L292.90,191.46 L293.30,191.41 L293.70,191.43 L294.10,191.39 L294.50,191.36 L294.90,191.45 L295.30,191.35 L295.70,191.46 L296.10,191.31 L296.50,191.36 L296.90,191.33 L297.30,191.49 L297.70,191.32 L298.10,191.35 L298.50,191.46 L298.90,191.43 L299.30,191.55 L299.70,191.53 L300.10,191.46 L300.50,191.47 L300.90,191.32 L301.30,191.38 L301.70,191.41 L302.10,191.42 L302.50,191.36 L302.90,191.38 L303.30,191.39 L303.70,191.50 L304.10,191.47 L304.50,191.42 L304.90,191.43 L305.30,191.46 L305.70,191.41 L306.10,191.43 L306.50,191.35 L306.90,191.49 L307.30,191.51 L307.70,191.48 L308.10,191.48 L308.50,191.48 L308.90,191.58 L309.30,191.47 L309.70,191.39 L310.10,191.40 L310.50,191.51 L310.90,191.53 L311.30,191.51 L311.70,191.52 L312.10,191.48 L312.50,191.39 L312.90,191.43 L313.30,191.37 L313.70,191.46 L314.10,191.40 L314.50,191.49 L314.90,191.47 L315.30,191.37 L315.70,191.53 L316.10,191.53 L316.50,191.41 L316.90,191.50 L317.30,191.53 L317.70,191.47 L318.10,191.54 L318.50,191.51 L318.90,191.56 L319.30,191.51 L319.70,191.49 L320.10,191.53 L320.50,191.55 L320.90,191.52 L321.30,191.48 L321.70,191.46 L322.10,191.49 L322.50,191.47 L322.90,191.52 L323.30,191.52 L323.70,191.51 L324.10,191.51 L324.50,191.52 L324.90,191.61 L325.30,191.59 L325.70,191.49 L326.10,191.54 L326.50,191.50 L326.90,191.52 L327.30,191.51 L327.70,191.49 L328.10,191.45 L328.50,191.39 L328.90,191.54 L329.30,191.60 L329.70,191.48 L330.10,191.56 L330.50,191.51 L330.90,191.55 L331.30,191.49 L331.70,191.52 L332.10,191.53 L332.50,191.40 L332.90,191.55 L333.30,191.53 L333.70,191.40 L334.10,191.58 L334.50,191.54 L334.90,191.56 L335.30,191.57 L335.70,191.53 L336.10,191.49 L336.50,191.53 L336.90,191.53 L337.30,191.68 L337.70,191.66 L338.10,191.53 L338.50,191.53 L338.90,191.58 L339.30,191.59 L339.70,191.52 L340.10,191.50 L340.50,191.68 L340.90,191.63 L341.30,191.48 L341.70,191.46 L342.10,191.52 L342.50,191.58 L342.90,191.60 L343.30,191.55 L343.70,191.48 L344.10,191.59 L344.50,191.61 L344.90,191.58 L345.30,191.55 L345.70,191.61 L346.10,191.58 L346.50,191.51 L346.90,191.59 L347.30,191.51 L347.70,191.64 L348.10,191.61 L348.50,191.53 L348.90,191.60 L349.30,191.66 L349.70,191.46 L350.10,191.58 L350.50,191.69 L350.90,191.50 L351.30,191.58 L351.70,191.51 L352.10,191.59 L352.50,191.46 L352.90,191.50 L353.30,191.57 L353.70,191.61 L354.10,191.62 L354.50,191.63 L354.90,191.67 L355.30,191.64 L355.70,191.65 L356.10,191.55 L356.50,191.60 L356.90,191.79 L357.30,191.74 L357.70,191.66 L358.10,191.65 L358.50,191.67 L358.90,191.59 L359.30,191.73 L359.70,191.59 L360.10,191.61 L360.50,191.74 L360.90,191.49 L361.30,191.64 L361.70,191.52 L362.10,191.58 L362.50,191.61 L362.90,191.60 L363.30,191.63 L363.70,191.58 L364.10,191.62 L364.50,191.55 L364.90,191.60 L365.30,191.54 L365.70,191.67 L366.10,191.55 L366.50,191.67 L366.90,191.61 L367.30,191.61 L367.70,191.70 L368.10,191.64 L368.50,191.52 L368.90,191.66 L369.30,191.46 L369.70,191.65 L370.10,191.61 L370.50,191.56 L370.90,191.64 L371.30,191.62 L371.70,191.76 L372.10,191.62 L372.50,191.76 L372.90,191.73 L373.30,191.61 L373.70,191.60 L374.10,191.72 L374.50,191.64 L374.90,191.66 L375.30,191.63 L375.70,191.58 L376.10,191.63 L376.50,191.59 L376.90,191.56 L377.30,191.64 L377.70,191.76 L378.10,191.75 L378.50,191.65 L378.90,191.66 L379.30,191.69 L379.70,191.74 L380.10,191.68 L380.50,191.63 L380.90,191.64 L381.30,191.73 L381.70,191.82 L382.10,191.63 L382.50,191.54 L382.90,191.71 L383.30,191.66 L383.70,191.67 L384.10,191.74 L384.50,191.67 L384.90,191.59 L385.30,191.55 L385.70,191.67 L386.10,191.60 L386.50,191.69 L386.90,191.60 L387.30,191.65 L387.70,191.59 L388.10,191.65 L388.50,191.65 L388.90,191.71 L389.30,191.76 L389.70,191.67 L390.10,191.63 L390.50,191.80 L390.90,191.70 L391.30,191.72 L391.70,191.72 L392.10,191.77 L392.50,191.74 L392.90,191.73 L393.30,191.73 L393.70,191.64 L394.10,191.65 L394.50,191.68 L394.90,191.69 L395.30,191.69 L395.70,191.71 L396.10,191.69 L396.50,191.67 L396.90,191.60 L397.30,191.74 L397.70,191.73 L398.10,191.64 L398.50,191.73 L398.90,191.72 L399.30,191.70 L399.70,191.59 L400.10,191.63 L400.50,191.66 L400.90,191.80 L401.30,191.65 L401.70,191.68 L402.10,191.64 L402.50,191.67 L402.90,191.72 L403.30,191.58 L403.70,191.54 L404.10,191.75 L404.50,191.71 L404.90,191.67 L405.30,191.77 L405.70,191.77 L406.10,191.58 L406.50,191.70 L406.90,191.78 L407.30,191.67 L407.70,191.69 L408.10,191.77 L408.50,191.70 L408.90,191.64 L409.30,191.67 L409.70,191.64 L410.10,191.75 L410.50,191.61 L410.90,191.78 L411.30,191.62 L411.70,191.72 L412.10,191.63 L412.50,191.70 L412.90,191.78 L413.30,191.79 L413.70,191.80 L414.10,191.72 L414.50,191.73 L414.90,191.74 L415.30,191.76 L415.70,191.70 L416.10,191.79 L416.50,191.75 L416.90,191.80 L417.30,191.76 L417.70,191.77 L418.10,191.69 L418.50,191.71 L418.90,191.66 L419.30,191.72 L419.70,191.72 L420.10,191.79 L420.50,191.66 L420.90,191.93 L421.30,191.73 L421.70,191.81 L422.10,191.80 L422.50,191.59 L422.90,191.72 L423.30,191.83 L423.70,191.60 L424.10,191.79 L424.50,191.69 L424.90,191.72 L425.30,191.76 L425.70,191.63 L426.10,191.76 L426.50,191.71 L426.90,191.70 L427.30,191.79 L427.70,191.96 L428.10,191.77 L428.50,191.78 L428.90,191.75 L429.30,191.71 L429.70,191.77 L430.10,191.84 L430.50,191.77 L430.90,191.81 L431.30,191.74 L431.70,191.91 L432.10,191.66 L432.50,191.79 L432.90,191.79 L433.30,191.77 L433.70,191.69 L434.10,191.69 L434.50,191.75 L434.90,191.77 L435.30,191.69 L435.70,191.70 L436.10,191.80 L436.50,191.83 L436.90,191.73 L437.30,191.72 L437.70,191.72 L438.10,191.92 L438.50,191.80 L438.90,191.76 L439.30,191.83 L439.70,191.91 L440.10,191.84 L440.50,191.68 L440.90,191.77 L441.30,191.75 L441.70,191.75 L442.10,191.70 L442.50,191.75 L442.90,191.71 L443.30,191.80 L443.70,191.78 L444.10,191.69 L444.50,191.67 L444.90,191.75 L445.30,191.82 L445.70,191.81 L446.10,191.78 L446.50,191.58 L446.90,191.75 L447.30,191.74 L447.70,191.76 L448.10,191.71 L448.50,191.76 L448.90,191.74 L449.30,191.95 L449.70,191.83 L450.10,191.77 L450.50,191.78 L450.90,191.78 L451.30,191.80 L451.70,191.76 L452.10,191.79 L452.50,191.85 L452.90,191.84 L453.30,191.81 L453.70,191.87 L454.10,191.81 L454.50,191.73 L454.90,191.69 L455.30,191.75 L455.70,191.79 L456.10,191.82 L456.50,191.86 L456.90,191.76 L457.30,191.75 L457.70,191.85 L458.10,191.87 L458.50,191.77 L458.90,191.82 L459.30,191.88 L459.70,191.82 L460.10,191.80 L460.50,191.68 L460.90,191.88 L461.30,191.84 L461.70,191.81 L462.10,191.78 L462.50,191.73 L462.90,191.80 L463.30,191.80 L463.70,191.87 L464.10,191.74 L464.50,191.90 L464.90,191.81 L465.30,191.88 L465.70,191.75 L466.10,191.83 L466.50,191.89 L466.90,191.82 L467.30,191.73 L467.70,191.79 L468.10,191.85 L468.50,191.73 L468.90,191.73 L469.30,191.83 L469.70,191.76 L470.10,191.86 L470.50,191.75 L470.90,191.71 L471.30,191.77 L471.70,191.91 L472.10,191.77 L472.50,191.82 L472.90,191.84 L473.30,191.77 L473.70,191.89 L474.10,191.83 L474.50,191.85 L474.90,191.72 L475.30,191.72 L475.70,191.66 L476.10,191.82 L476.50,191.81 L476.90,191.87 L477.30,191.92 L477.70,191.81 L478.10,191.81 L478.50,191.86 L478.90,191.92 L479.30,191.78 L479.70,191.87 L480.10,191.82 L480.50,191.81 L480.90,191.88 L481.30,191.79 L481.70,191.77 L482.10,191.88 L482.50,191.83 L482.90,191.82 L483.30,191.83 L483.70,191.87 L484.10,191.82 L484.50,191.88 L484.90,191.86 L485.30,191.93 L485.70,191.92 L486.10,191.89 L486.50,191.83 L486.90,191.85 L487.30,191.81 L487.70,192.01 L488.10,191.83 L488.50,191.88 L488.90,191.93 L489.30,191.76 L489.70,191.80 L490.10,191.82 L490.50,191.79 L490.90,191.77 L491.30,191.82 L491.70,191.93 L492.10,191.89 L492.50,191.85 L492.90,191.85 L493.30,191.75 L493.70,191.89 L494.10,191.88 L494.50,191.79 L494.90,191.87 L495.30,191.84 L495.70,191.82 L496.10,191.79 L496.50,191.81 L496.90,191.80 L497.30,191.88 L497.70,191.88 L498.10,191.88 L498.50,191.85 L498.90,191.83 L499.30,191.98 L499.70,191.75 L500.10,191.93 L500.50,191.88 L500.90,191.86 L501.30,191.83 L501.70,191.85 L502.10,191.79 L502.50,191.78 L502.90,191.86 L503.30,191.76 L503.70,191.91 L504.10,191.93 L504.50,191.66 L504.90,191.77 L505.30,191.88 L505.70,191.88 L506.10,191.87 L506.50,191.89 L506.90,191.91 L507.30,191.92 L507.70,191.98 L508.10,191.87 L508.50,191.92 L508.90,191.77 L509.30,191.86 L509.70,191.80 L510.10,191.95 L510.50,192.01 L510.90,191.90 L511.30,191.79 L511.70,191.87 L512.10,191.88 L512.50,191.89 L512.90,191.94 L513.30,191.93 L513.70,191.72 L514.10,191.96 L514.50,191.85 L514.90,191.84 L515.30,191.96 L515.70,191.86 L516.10,191.80 L516.50,191.80 L516.90,191.88 L517.30,191.93 L517.70,191.97 L518.10,191.87 L518.50,191.85 L518.90,191.98 L519.30,191.85 L519.70,191.97 L520.10,191.90 L520.50,191.90 L520.90,191.87 L521.30,191.90 L521.70,191.86 L522.10,191.84 L522.50,191.88 L522.90,191.85 L523.30,191.90 L523.70,191.89 L524.10,191.87 L524.50,191.87 L524.90,191.87 L525.30,191.99 L525.70,191.89 L526.10,191.85 L526.50,191.87 L526.90,191.93 L527.30,191.88 L527.70,191.88 L528.10,191.87 L528.50,191.90 L528.90,191.91 L529.30,191.92 L529.70,191.79 L530.10,191.83 L530.50,191.73 L530.90,191.94 L531.30,191.96 L531.70,191.97 L532.10,191.90 L532.50,191.96 L532.90,191.89 L533.30,191.89 L533.70,191.80 L534.10,191.85 L534.50,191.86 L534.90,191.95 L535.30,192.00 L535.70,191.87 L536.10,191.92 L536.50,191.91 L536.90,191.85 L537.30,191.79 L537.70,191.85 L538.10,191.81 L538.50,191.88"/>
<path class="c" stroke="#4f48c6" d="M22.90,224.79 L23.30,224.79 L23.70,224.79 L24.10,224.83 L24.50,224.74 L24.90,224.85 L25.30,224.70 L25.70,224.80 L26.10,224.82 L26.50,224.75 L26.90,224.70 L27.30,224.83 L27.70,224.75 L28.10,224.84 L28.50,224.84 L28.90,224.79 L29.30,224.79 L29.70,224.85 L30.10,224.81 L30.50,224.73 L30.90,224.80 L31.30,224.82 L31.70,224.80 L32.10,224.80 L32.50,224.77 L32.90,224.77 L33.30,224.72 L33.70,224.69 L34.10,224.85 L34.50,224.74 L34.90,224.79 L35.30,224.68 L35.70,224.78 L36.10,224.72 L36.50,224.95 L36.90,224.71 L37.30,224.71 L37.70,224.82 L38.10,224.83 L38.50,224.63 L38.90,224.77 L39.30,224.81 L39.70,224.68 L40.10,224.79 L40.50,224.72 L40.90,224.69 L41.30,224.73 L41.70,224.72 L42.10,224.66 L42.50,224.87 L42.90,224.71 L43.30,224.69 L43.70,224.78 L44.10,224.73 L44.50,224.81 L44.90,224.71 L45.30,224.74 L45.70,224.73 L46.10,224.73 L46.50,224.70 L46.90,224.71 L47.30,224.81 L47.70,224.67 L48.10,224.67 L48.50,224.68 L48.90,224.73 L49.30,224.72 L49.70,224.75 L50.10,224.61 L50.50,224.70 L50.90,224.67 L51.30,224.66 L51.70,224.69 L52.10,224.56 L52.50,224.69 L52.90,224.68 L53.30,224.58 L53.70,224.66 L54.10,224.75 L54.50,224.63 L54.90,224.69 L55.30,224.64 L55.70,224.60 L56.10,224.59 L56.50,224.61 L56.90,224.71 L57.30,224.68 L57.70,224.59 L58.10,224.68 L58.50,224.61 L58.90,224.58 L59.30,224.64 L59.70,224.55 L60.10,224.51 L60.50,224.68 L60.90,224.49 L61.30,224.63 L61.70,224.50 L62.10,224.58 L62.50,224.57 L62.90,224.55 L63.30,224.44 L63.70,224.56 L64.10,224.56 L64.50,224.51 L64.90,224.55 L65.30,224.61 L65.70,224.51 L66.10,224.56 L66.50,224.47 L66.90,224.56 L67.30,224.57 L67.70,224.67 L68.10,224.58 L68.50,224.54 L68.90,224.60 L69.30,224.45 L69.70,224.57 L70.10,224.47 L70.50,224.46 L70.90,224.56 L71.30,224.50 L71.70,224.56 L72.10,224.39 L72.50,224.49 L72.90,224.44 L73.30,224.45 L73.70,224.34 L74.10,224.51 L74.50,224.46 L74.90,224.38 L75.30,224.36 L75.70,224.38 L76.10,224.51 L76.50,224.42 L76.90,224.40 L77.30,224.44 L77.70,224.41 L78.10,224.42 L78.50,224.44 L78.90,224.41 L79.30,224.44 L79.70,224.31 L80.10,224.38 L80.50,224.35 L80.90,224.37 L81.30,224.36 L81.70,224.32 L82.10,224.33 L82.50,224.40 L82.90,224.31 L83.30,224.26 L83.70,224.36 L84.10,224.38 L84.50,224.30 L84.90,224.32 L85.30,224.26 L85.70,224.29 L86.10,224.36 L86.50,224.34 L86.90,224.29 L87.30,224.26 L87.70,224.18 L88.10,224.29 L88.50,224.29 L88.90,224.32 L89.30,224.37 L89.70,224.27 L90.10,224.30 L90.50,224.17 L90.90,224.30 L91.30,224.28 L91.70,224.30 L92.10,224.25 L92.50,224.23 L92.90,224.29 L93.30,224.16 L93.70,224.23 L94.10,224.25 L94.50,224.13 L94.90,224.10 L95.30,224.19 L95.70,224.17 L96.10,224.19 L96.50,224.19 L96.90,224.10 L97.30,224.16 L97.70,224.20 L98.10,224.10 L98.50,224.10 L98.90,224.05 L99.30,224.15 L99.70,224.21 L100.10,224.01 L100.50,224.13 L100.90,224.13 L101.30,224.04 L101.70,224.05 L102.10,224.00 L102.50,224.01 L102.90,224.06 L103.30,224.08 L103.70,224.04 L104.10,224.07 L104.50,224.03 L104.90,223.94 L105.30,224.08 L105.70,224.06 L106.10,223.94 L106.50,224.08 L106.90,223.99 L107.30,223.96 L107.70,224.06 L108.10,223.79 L108.50,223.83 L108.90,223.96 L109.30,223.89 L109.70,223.84 L110.10,223.97 L110.50,223.90 L110.90,223.79 L111.30,223.81 L111.70,223.89 L112.10,223.93 L112.50,223.70 L112.90,223.82 L113.30,223.77 L113.70,223.68 L114.10,223.76 L114.50,223.66 L114.90,223.71 L115.30,223.83 L115.70,223.75 L116.10,223.75 L116.50,223.73 L116.90,223.70 L117.30,223.72 L117.70,223.59 L118.10,223.62 L118.50,223.68 L118.90,223.57 L119.30,223.57 L119.70,223.66 L120.10,223.66 L120.50,223.52 L120.90,223.50 L121.30,223.56 L121.70,223.53 L122.10,223.46 L122.50,223.52 L122.90,223.50 L123.30,223.46 L123.70,223.61 L124.10,223.51 L124.50,223.46 L124.90,223.46 L125.30,223.56 L125.70,223.43 L126.10,223.31 L126.50,223.35 L126.90,223.32 L127.30,223.27 L127.70,223.30 L128.10,223.29 L128.50,223.25 L128.90,223.21 L129.30,223.27 L129.70,223.12 L130.10,223.24 L130.50,223.18 L130.90,223.18 L131.30,223.00 L131.70,223.23 L132.10,223.01 L132.50,223.04 L132.90,223.12 L133.30,223.03 L133.70,223.02 L134.10,222.90 L134.50,222.99 L134.90,223.01 L135.30,223.02 L135.70,222.94 L136.10,222.96 L136.50,222.95 L136.90,222.87 L137.30,222.85 L137.70,222.99 L138.10,222.81 L138.50,222.91 L138.90,222.83 L139.30,222.89 L139.70,222.75 L140.10,222.80 L140.50,222.77 L140.90,222.72 L141.30,222.73 L141.70,222.65 L142.10,222.67 L142.50,222.63 L142.90,222.67 L143.30,222.60 L143.70,222.50 L144.10,222.53 L144.50,222.52 L144.90,222.45 L145.30,222.55 L145.70,222.47 L146.10,222.47 L146.50,222.34 L146.90,222.34 L147.30,222.39 L147.70,222.21 L148.10,222.29 L148.50,222.24 L148.90,222.18 L149.30,222.18 L149.70,222.08 L150.10,222.12 L150.50,222.01 L150.90,221.97 L151.30,222.09 L151.70,221.94 L152.10,221.82 L152.50,221.97 L152.90,221.83 L153.30,221.64 L153.70,221.81 L154.10,221.83 L154.50,221.76 L154.90,221.81 L155.30,221.67 L155.70,221.68 L156.10,221.55 L156.50,221.58 L156.90,221.63 L157.30,221.53 L157.70,221.47 L158.10,221.31 L158.50,221.37 L158.90,221.28 L159.30,221.37 L159.70,221.24 L160.10,221.27 L160.50,221.15 L160.90,221.28 L161.30,221.06 L161.70,221.09 L162.10,221.20 L162.50,221.01 L162.90,220.90 L163.30,220.94 L163.70,220.91 L164.10,220.85 L164.50,220.63 L164.90,220.70 L165.30,220.51 L165.70,220.69 L166.10,220.53 L166.50,220.44 L166.90,220.46 L167.30,220.41 L167.70,220.27 L168.10,220.41 L168.50,220.29 L168.90,220.20 L169.30,220.40 L169.70,220.43 L170.10,220.45 L170.50,220.45 L170.90,220.42 L171.30,220.58 L171.70,220.69 L172.10,220.69 L172.50,220.79 L172.90,220.71 L173.30,220.87 L173.70,220.92 L174.10,220.82 L174.50,220.87 L174.90,220.97 L175.30,221.06 L175.70,221.13 L176.10,221.13 L176.50,221.18 L176.90,221.22 L177.30,221.27 L177.70,221.34 L178.10,221.38 L178.50,221.38 L178.90,221.44 L179.30,221.43 L179.70,221.55 L180.10,221.51 L180.50,221.67 L180.90,221.61 L181.30,221.66 L181.70,221.64 L182.10,221.70 L182.50,221.76 L182.90,221.79 L183.30,221.79 L183.70,221.79 L184.10,221.90 L184.50,221.94 L184.90,222.00 L185.30,222.07 L185.70,222.01 L186.10,221.95 L186.50,222.09 L186.90,222.02 L187.30,222.09 L187.70,222.26 L188.10,222.26 L188.50,222.22 L188.90,222.25 L189.30,222.31 L189.70,222.24 L190.10,222.41 L190.50,222.38 L190.90,222.54 L191.30,222.40 L191.70,222.55 L192.10,222.47 L192.50,222.60 L192.90,222.50 L193.30,222.63 L193.70,222.58 L194.10,222.58 L194.50,222.64 L194.90,222.70 L195.30,222.71 L195.70,222.80 L196.10,222.77 L196.50,222.58 L196.90,222.74 L197.30,222.66 L197.70,222.77 L198.10,222.85 L198.50,222.75 L198.90,222.78 L199.30,222.88 L199.70,222.87 L200.10,223.00 L200.50,222.95 L200.90,222.98 L201.30,223.07 L201.70,222.95 L202.10,223.00 L202.50,222.96 L202.90,223.05 L203.30,223.11 L203.70,223.15 L204.10,223.09 L204.50,223.06 L204.90,223.08 L205.30,223.06 L205.70,223.16 L206.10,223.25 L206.50,223.05 L206.90,223.08 L207.30,223.31 L207.70,223.14 L208.10,223.27 L208.50,223.19 L208.90,223.33 L209.30,223.35 L209.70,223.32 L210.10,223.38 L210.50,223.35 L210.90,223.39 L211.30,223.48 L211.70,223.45 L212.10,223.36 L212.50,223.36 L212.90,223.41 L213.30,223.42 L213.70,223.45 L214.10,223.43 L214.50,223.51 L214.90,223.49 L215.30,223.52 L215.70,223.51 L216.10,223.55 L216.50,223.45 L216.90,223.63 L217.30,223.57 L217.70,223.58 L218.10,223.60 L218.50,223.63 L218.90,223.62 L219.30,223.60 L219.70,223.58 L220.10,223.50 L220.50,223.62 L220.90,223.59 L221.30,223.60 L221.70,223.77 L222.10,223.52 L222.50,223.64 L222.90,223.71 L223.30,223.70 L223.70,223.73 L224.10,223.58 L224.50,223.60 L224.90,223.71 L225.30,223.66 L225.70,223.78 L226.10,223.70 L226.50,223.70 L226.90,223.72 L227.30,223.68 L227.70,223.71 L228.10,223.67 L228.50,223.71 L228.90,223.69 L229.30,223.74 L229.70,223.65 L230.10,223.65 L230.50,223.77 L230.90,223.76 L231.30,223.70 L231.70,223.74 L232.10,223.70 L232.50,223.89 L232.90,223.68 L233.30,223.88 L233.70,223.73 L234.10,223.81 L234.50,223.78 L234.90,223.77 L235.30,223.86 L235.70,223.85 L236.10,223.79 L236.50,223.76 L236.90,223.94 L237.30,223.91 L237.70,223.84 L238.10,223.82 L238.50,223.86 L238.90,223.85 L239.30,223.92 L239.70,223.79 L240.10,223.86 L240.50,223.81 L240.90,223.94 L241.30,223.98 L241.70,223.87 L242.10,223.91 L242.50,223.96 L242.90,223.87 L243.30,223.83 L243.70,223.95 L244.10,223.93 L244.50,223.89 L244.90,223.99 L245.30,223.92 L245.70,223.80 L246.10,223.94 L246.50,223.92 L246.90,224.04 L247.30,223.93 L247.70,223.92 L248.10,223.96 L248.50,223.95 L248.90,223.86 L249.30,223.95 L249.70,223.93 L250.10,224.04 L250.50,224.10 L250.90,223.89 L251.30,223.90 L251.70,223.92 L252.10,223.93 L252.50,223.93 L252.90,223.98 L253.30,224.05 L253.70,223.91 L254.10,223.89 L254.50,223.88 L254.90,224.06 L255.30,224.08 L255.70,223.91 L256.10,223.91 L256.50,224.01 L256.90,224.08 L257.30,224.07 L257.70,224.03 L258.10,224.06 L258.50,224.04 L258.90,223.99 L259.30,224.14 L259.70,224.03 L260.10,223.97 L260.50,224.01 L260.90,223.95 L261.30,224.04 L261.70,224.11 L262.10,223.97 L262.50,224.12 L262.90,224.18 L263.30,224.08 L263.70,223.99 L264.10,224.01 L264.50,224.05 L264.90,223.99 L265.30,224.00 L265.70,224.06 L266.10,224.07 L266.50,224.12 L266.90,224.01 L267.30,224.20 L267.70,224.15 L268.10,224.14 L268.50,224.05 L268.90,224.20 L269.30,224.08 L269.70,224.21 L270.10,224.17 L270.50,224.05 L270.90,224.08 L271.30,224.22 L271.70,224.17 L272.10,224.11 L272.50,224.13 L272.90,224.13 L273.30,224.08 L273.70,224.12 L274.10,224.09 L274.50,224.11 L274.90,224.16 L275.30,224.08 L275.70,224.18 L276.10,224.15 L276.50,224.19 L276.90,224.20 L277.30,224.22 L277.70,224.19 L278.10,224.20 L278.50,224.15 L278.90,224.19 L279.30,224.11 L279.70,224.15 L280.10,224.21 L280.50,224.17 L280.90,224.20 L281.30,224.11 L281.70,224.26 L282.10,224.14 L282.50,224.20 L282.90,224.18 L283.30,224.24 L283.70,224.16 L284.10,224.13 L284.50,224.08 L284.90,224.18 L285.30,224.12 L285.70,224.23 L286.10,224.29 L286.50,224.07 L286.90,224.13 L287.30,224.23 L287.70,224.28 L288.10,224.23 L288.50,224.23 L288.90,224.25 L289.30,224.25 L289.70,224.32 L290.10,224.26 L290.50,224.15 L290.90,224.20 L291.30,224.24 L291.70,224.18 L292.10,224.22 L292.50,224.21 L292.90,224.20 L293.30,224.28 L293.70,224.22 L294.10,224.18 L294.50,224.21 L294.90,224.25 L295.30,224.38 L295.70,224.27 L296.10,224.35 L296.50,224.29 L296.90,224.13 L297.30,224.29 L297.70,224.22 L298.10,224.19 L298.50,224.21 L298.90,224.38 L299.30,224.18 L299.70,224.24 L300.10,224.35 L300.50,224.32 L300.90,224.18 L301.30,224.28 L301.70,224.26 L302.10,224.28 L302.50,224.34 L302.90,224.26 L303.30,224.28 L303.70,224.39 L304.10,224.19 L304.50,224.28 L304.90,224.34 L305.30,224.24 L305.70,224.27 L306.10,224.24 L306.50,224.33 L306.90,224.28 L307.30,224.37 L307.70,224.39 L308.10,224.33 L308.50,224.31 L308.90,224.35 L309.30,224.34 L309.70,224.26 L310.10,224.40 L310.50,224.36 L310.90,224.39 L311.30,224.26 L311.70,224.40 L312.10,224.48 L312.50,224.39 L312.90,224.27 L313.30,224.36 L313.70,224.36 L314.10,224.38 L314.50,224.35 L314.90,224.40 L315.30,224.34 L315.70,224.39 L316.10,224.34 L316.50,224.39 L316.90,224.44 L317.30,224.36 L317.70,224.43 L318.10,224.34 L318.50,224.37 L318.90,224.38 L319.30,224.47 L319.70,224.36 L320.10,224.48 L320.50,224.32 L320.90,224.40 L321.30,224.47 L321.70,224.46 L322.10,224.36 L322.50,224.35 L322.90,224.48 L323.30,224.35 L323.70,224.47 L324.10,224.40 L324.50,224.44 L324.90,224.58 L325.30,224.54 L325.70,224.50 L326.10,224.36 L326.50,224.47 L326.90,224.46 L327.30,224.45 L327.70,224.54 L328.10,224.36 L328.50,224.48 L328.90,224.47 L329.30,224.42 L329.70,224.58 L330.10,224.40 L330.50,224.48 L330.90,224.49 L331.30,224.35 L331.70,224.40 L332.10,224.43 L332.50,224.54 L332.90,224.55 L333.30,224.53 L333.70,224.52 L334.10,224.37 L334.50,224.52 L334.90,224.48 L335.30,224.58 L335.70,224.60 L336.10,224.65 L336.50,224.56 L336.90,224.57 L337.30,224.46 L337.70,224.53 L338.10,224.46 L338.50,224.59 L338.90,224.47 L339.30,224.53 L339.70,224.49 L340.10,224.52 L340.50,224.58 L340.90,224.52 L341.30,224.57 L341.70,224.50 L342.10,224.65 L342.50,224.52 L342.90,224.63 L343.30,224.70 L343.70,224.42 L344.10,224.51 L344.50,224.56 L344.90,224.65 L345.30,224.55 L345.70,224.61 L346.10,224.54 L346.50,224.63 L346.90,224.52 L347.30,224.65 L347.70,224.42 L348.10,224.49 L348.50,224.72 L348.90,224.62 L349.30,224.56 L349.70,224.75 L350.10,224.68 L350.50,224.69 L350.90,224.60 L351.30,224.66 L351.70,224.66 L352.10,224.53 L352.50,224.67 L352.90,224.62 L353.30,224.72 L353.70,224.72 L354.10,224.60 L354.50,224.61 L354.90,224.66 L355.30,224.69 L355.70,224.63 L356.10,224.65 L356.50,224.70 L356.90,224.69 L357.30,224.74 L357.70,224.68 L358.10,224.62 L358.50,224.56 L358.90,224.73 L359.30,224.66 L359.70,224.66 L360.10,224.67 L360.50,224.59 L360.90,224.66 L361.30,224.53 L361.70,224.67 L362.10,224.64 L362.50,224.81 L362.90,224.73 L363.30,224.69 L363.70,224.72 L364.10,224.75 L364.50,224.67 L364.90,224.70 L365.30,224.70 L365.70,224.87 L366.10,224.73 L366.50,224.60 L366.90,224.78 L367.30,224.89 L367.70,224.67 L368.10,224.95 L368.50,224.73 L368.90,224.80 L369.30,224.71 L369.70,224.73 L370.10,224.67 L370.50,224.68 L370.90,224.62 L371.30,224.82 L371.70,224.69 L372.10,224.78 L372.50,224.78 L372.90,224.72 L373.30,224.77 L373.70,224.76 L374.10,224.74 L374.50,224.78 L374.90,224.78 L375.30,224.72 L375.70,224.70 L376.10,224.73 L376.50,224.79 L376.90,224.87 L377.30,224.88 L377.70,224.81 L378.10,224.85 L378.50,224.80 L378.90,224.87 L379.30,224.81 L379.70,224.83 L380.10,224.79 L380.50,224.81 L380.90,224.93 L381.30,224.74 L381.70,224.81 L382.10,224.78 L382.50,224.88 L382.90,224.93 L383.30,224.80 L383.70,224.65 L384.10,224.87 L384.50,224.87 L384.90,224.73 L385.30,224.82 L385.70,224.83 L386.10,224.69 L386.50,224.88 L386.90,224.87 L387.30,224.86 L387.70,224.78 L388.10,224.80 L388.50,224.81 L388.90,224.88 L389.30,224.79 L389.70,224.95 L390.10,224.88 L390.50,224.72 L390.90,224.97 L391.30,224.87 L391.70,224.83 L392.10,224.87 L392.50,224.76 L392.90,224.88 L393.30,224.72 L393.70,224.81 L394.10,224.96 L394.50,224.96 L394.90,224.86 L395.30,224.82 L395.70,224.94 L396.10,224.88 L396.50,224.90 L396.90,224.93 L397.30,224.82 L397.70,224.94 L398.10,224.76 L398.50,224.99 L398.90,224.80 L399.30,224.86 L399.70,224.86 L400.10,224.95 L400.50,224.95 L400.90,224.93 L401.30,224.94 L401.70,224.94 L402.10,224.91 L402.50,224.79 L402.90,224.77 L403.30,224.77 L403.70,224.91 L404.10,224.90 L404.50,224.91 L404.90,224.94 L405.30,224.91 L405.70,224.86 L406.10,224.83 L406.50,224.81 L406.90,225.01 L407.30,224.99 L407.70,224.85 L408.10,224.92 L408.50,224.96 L408.90,225.04 L409.30,224.90 L409.70,224.95 L410.10,225.02 L410.50,224.84 L410.90,224.90 L411.30,224.95 L411.70,224.90 L412.10,225.08 L412.50,225.01 L412.90,224.97 L413.30,224.90 L413.70,225.01 L414.10,225.00 L414.50,224.93 L414.90,224.93 L415.30,224.87 L415.70,224.96 L416.10,225.02 L416.50,225.03 L416.90,225.01 L417.30,225.02 L417.70,224.94 L418.10,224.94 L418.50,225.05 L418.90,225.01 L419.30,224.93 L419.70,225.01 L420.10,225.03 L420.50,225.03 L420.90,224.99 L421.30,224.95 L421.70,225.01 L422.10,225.10 L422.50,225.00 L422.90,224.95 L423.30,225.02 L423.70,224.92 L424.10,225.01 L424.50,224.98 L424.90,225.06 L425.30,225.01 L425.70,225.07 L426.10,225.15 L426.50,224.99 L426.90,224.96 L427.30,225.04 L427.70,225.01 L428.10,225.02 L428.50,224.98 L428.90,225.05 L429.30,225.02 L429.70,224.88 L430.10,225.01 L430.50,225.04 L430.90,225.10 L431.30,224.99 L431.70,224.98 L432.10,225.10 L432.50,224.99 L432.90,225.04 L433.30,225.06 L433.70,225.08 L434.10,225.04 L434.50,224.97 L434.90,225.10 L435.30,225.01 L435.70,225.01 L436.10,225.17 L436.50,225.10 L436.90,224.98 L437.30,225.02 L437.70,225.03 L438.10,225.00 L438.50,224.93 L438.90,225.10 L439.30,225.10 L439.70,225.07 L440.10,225.03 L440.50,225.07 L440.90,225.10 L441.30,225.00 L441.70,225.04 L442.10,225.03 L442.50,225.11 L442.90,225.08 L443.30,224.99 L443.70,225.03 L444.10,225.18 L444.50,225.01 L444.90,225.09 L445.30,225.04 L445.70,225.16 L446.10,225.08 L446.50,225.05 L446.90,225.01 L447.30,225.07 L447.70,225.14 L448.10,225.13 L448.50,225.01 L448.90,225.19 L449.30,225.08 L449.70,225.03 L450.10,225.10 L450.50,225.06 L450.90,225.06 L451.30,225.06 L451.70,225.09 L452.10,225.07 L452.50,225.00 L452.90,225.14 L453.30,225.07 L453.70,225.18 L454.10,225.14 L454.50,225.15 L454.90,225.12 L455.30,225.19 L455.70,225.09 L456.10,225.05 L456.50,225.14 L456.90,224.95 L457.30,225.10 L457.70,225.13 L458.10,225.10 L458.50,225.20 L458.90,225.17 L459.30,225.13 L459.70,225.10 L460.10,225.20 L460.50,225.09 L460.90,225.10 L461.30,225.18 L461.70,225.17 L462.10,225.26 L462.50,225.12 L462.90,225.02 L463.30,225.18 L463.70,225.22 L464.10,225.13 L464.50,225.24 L464.90,225.25 L465.30,225.10 L465.70,225.12 L466.10,225.07 L466.50,225.18 L466.90,225.19 L467.30,225.19 L467.70,225.08 L468.10,225.11 L468.50,225.07 L468.90,225.06 L469.30,225.07 L469.70,225.06 L470.10,225.15 L470.50,225.19 L470.90,225.20 L471.30,225.16 L471.70,225.12 L472.10,225.17 L472.50,225.20 L472.90,225.15 L473.30,225.17 L473.70,225.15 L474.10,225.14 L474.50,225.18 L474.90,225.11 L475.30,225.24 L475.70,225.08 L476.10,225.21 L476.50,225.09 L476.90,225.27 L477.30,225.24 L477.70,225.13 L478.10,225.16 L478.50,225.12 L478.90,225.18 L479.30,225.21 L479.70,225.35 L480.10,225.11 L480.50,225.27 L480.90,225.16 L481.30,225.21 L481.70,225.25 L482.10,225.23 L482.50,225.22 L482.90,225.19 L483.30,225.20 L483.70,225.21 L484.10,225.27 L484.50,225.11 L484.90,225.17 L485.30,225.13 L485.70,225.15 L486.10,225.16 L486.50,225.27 L486.90,225.34 L487.30,225.29 L487.70,225.14 L488.10,225.22 L488.50,225.14 L488.90,225.24 L489.30,225.29 L489.70,225.25 L490.10,225.27 L490.50,225.21 L490.90,225.10 L491.30,225.10 L491.70,225.21 L492.10,225.26 L492.50,225.30 L492.90,225.20 L493.30,225.23 L493.70,225.24 L494.10,225.29 L494.50,225.22 L494.90,225.16 L495.30,225.30 L495.70,225.26 L496.10,225.25 L496.50,225.15 L496.90,225.23 L497.30,225.13 L497.70,225.11 L498.10,225.22 L498.50,225.21 L498.90,225.27 L499.30,225.33 L499.70,225.24 L500.10,225.35 L500.50,225.21 L500.90,225.29 L501.30,225.17 L501.70,225.25 L502.10,225.23 L502.50,225.23 L502.90,225.28 L503.30,225.13 L503.70,225.26 L504.10,225.20 L504.50,225.26 L504.90,225.28 L505.30,225.23 L505.70,225.23 L506.10,225.18 L506.50,225.29 L506.90,225.21 L507.30,225.28 L507.70,225.17 L508.10,225.34 L508.50,225.20 L508.90,225.33 L509.30,225.23 L509.70,225.29 L510.10,225.25 L510.50,225.30 L510.90,225.26 L511.30,225.34 L511.70,225.31 L512.10,225.31 L512.50,225.37 L512.90,225.22 L513.30,225.35 L513.70,225.27 L514.10,225.18 L514.50,225.30 L514.90,225.26 L515.30,225.37 L515.70,225.24 L516.10,225.27 L516.50,225.29 L516.90,225.16 L517.30,225.31 L517.70,225.21 L518.10,225.36 L518.50,225.38 L518.90,225.28 L519.30,225.18 L519.70,225.29 L520.10,225.29 L520.50,225.32 L520.90,225.26 L521.30,225.21 L521.70,225.27 L522.10,225.22 L522.50,225.39 L522.90,225.24 L523.30,225.24 L523.70,225.28 L524.10,225.21 L524.50,225.26 L524.90,225.28 L525.30,225.26 L525.70,225.27 L526.10,225.36 L526.50,225.31 L526.90,225.21 L527.30,225.26 L527.70,225.33 L528.10,225.25 L528.50,225.29 L528.90,225.29 L529.30,225.32 L529.70,225.28 L530.10,225.28 L530.50,225.24 L530.90,225.31 L531.30,225.24 L531.70,225.40 L532.10,225.29 L532.50,225.28 L532.90,225.34 L533.30,225.29 L533.70,225.30 L534.10,225.29 L534.50,225.25 L534.90,225.24 L535.30,225.25 L535.70,225.37 L536.10,225.26 L536.50,225.27 L536.90,225.27 L537.30,225.34 L537.70,225.42 L538.10,225.24 L538.50,225.33"/>
<path class="c" stroke="#dc7278" d="M22.90,256.61 L23.30,256.58 L23.70,256.63 L24.10,256.52 L24.50,256.65 L24.90,256.61 L25.30,256.54 L25.70,256.70 L26.10,256.65 L26.50,256.67 L26.90,256.51 L27.30,256.58 L27.70,256.56 L28.10,256.63 L28.50,256.68 L28.90,256.48 L29.30,256.59 L29.70,256.58 L30.10,256.65 L30.50,256.59 L30.90,256.51 L31.30,256.58 L31.70,256.52 L32.10,256.54 L32.50,256.59 L32.90,256.55 L33.30,256.60 L33.70,256.49 L34.10,256.72 L34.50,256.66 L34.90,256.62 L35.30,256.50 L35.70,256.44 L36.10,256.52 L36.50,256.56 L36.90,256.71 L37.30,256.65 L37.70,256.53 L38.10,256.64 L38.50,256.64 L38.90,256.56 L39.30,256.63 L39.70,256.58 L40.10,256.51 L40.50,256.48 L40.90,256.54 L41.30,256.61 L41.70,256.46 L42.10,256.44 L42.50,256.57 L42.90,256.37 L43.30,256.65 L43.70,256.51 L44.10,256.58 L44.50,256.64 L44.90,256.44 L45.30,256.46 L45.70,256.66 L46.10,256.50 L46.50,256.51 L46.90,256.53 L47.30,256.57 L47.70,256.59 L48.10,256.51 L48.50,256.48 L48.90,256.50 L49.30,256.51 L49.70,256.57 L50.10,256.50 L50.50,256.60 L50.90,256.43 L51.30,256.51 L51.70,256.58 L52.10,256.55 L52.50,256.49 L52.90,256.41 L53.30,256.42 L53.70,256.45 L54.10,256.48 L54.50,256.44 L54.90,256.36 L55.30,256.40 L55.70,256.47 L56.10,256.49 L56.50,256.35 L56.90,256.41 L57.30,256.33 L57.70,256.39 L58.10,256.64 L58.50,256.42 L58.90,256.39 L59.30,256.37 L59.70,256.33 L60.10,256.29 L60.50,256.40 L60.90,256.38 L61.30,256.48 L61.70,256.29 L62.10,256.41 L62.50,256.46 L62.90,256.25 L63.30,256.41 L63.70,256.27 L64.10,256.39 L64.50,256.45 L64.90,256.35 L65.30,256.37 L65.70,256.30 L66.10,256.36 L66.50,256.41 L66.90,256.32 L67.30,256.32 L67.70,256.35 L68.10,256.37 L68.50,256.21 L68.90,256.31 L69.30,256.26 L69.70,256.33 L70.10,256.36 L70.50,256.31 L70.90,256.37 L71.30,256.22 L71.70,256.25 L72.10,256.21 L72.50,256.27 L72.90,256.27 L73.30,256.25 L73.70,256.18 L74.10,256.24 L74.50,256.22 L74.90,256.28 L75.30,256.22 L75.70,256.30 L76.10,256.24 L76.50,256.10 L76.90,256.20 L77.30,256.12 L77.70,256.26 L78.10,256.29 L78.50,256.19 L78.90,256.22 L79.30,256.09 L79.70,256.04 L80.10,256.14 L80.50,256.15 L80.90,256.07 L81.30,256.16 L81.70,256.17 L82.10,256.19 L82.50,256.24 L82.90,256.19 L83.30,256.11 L83.70,256.13 L84.10,256.16 L84.50,256.05 L84.90,256.19 L85.30,256.16 L85.70,256.09 L86.10,256.06 L86.50,256.32 L86.90,256.14 L87.30,256.14 L87.70,256.18 L88.10,256.13 L88.50,256.07 L88.90,256.10 L89.30,256.00 L89.70,256.09 L90.10,255.95 L90.50,256.06 L90.90,256.06 L91.30,255.93 L91.70,256.14 L92.10,255.94 L92.50,256.07 L92.90,255.97 L93.30,256.01 L93.70,255.95 L94.10,256.14 L94.50,256.04 L94.90,256.08 L95.30,256.02 L95.70,256.00 L96.10,255.97 L96.50,255.94 L96.90,255.98 L97.30,255.95 L97.70,255.92 L98.10,255.84 L98.50,255.90 L98.90,255.95 L99.30,255.88 L99.70,255.93 L100.10,255.89 L100.50,255.83 L100.90,255.83 L101.30,255.84 L101.70,255.86 L102.10,255.85 L102.50,255.93 L102.90,255.78 L103.30,255.72 L103.70,255.88 L104.10,255.80 L104.50,255.81 L104.90,255.96 L105.30,255.89 L105.70,255.82 L106.10,255.83 L106.50,255.77 L106.90,255.81 L107.30,255.71 L107.70,255.69 L108.10,255.69 L108.50,255.81 L108.90,255.79 L109.30,255.65 L109.70,255.74 L110.10,255.65 L110.50,255.71 L110.90,255.61 L111.30,255.68 L111.70,255.60 L112.10,255.57 L112.50,255.58 L112.90,255.57 L113.30,255.51 L113.70,255.45 L114.10,255.62 L114.50,255.48 L114.90,255.38 L115.30,255.33 L115.70,255.29 L116.10,255.41 L116.50,255.51 L116.90,255.31 L117.30,255.38 L117.70,255.27 L118.10,255.43 L118.50,255.37 L118.90,255.35 L119.30,255.40 L119.70,255.40 L120.10,255.35 L120.50,255.23 L120.90,255.17 L121.30,255.17 L121.70,255.11 L122.10,255.31 L122.50,255.17 L122.90,255.17 L123.30,255.16 L123.70,255.26 L124.10,255.08 L124.50,255.17 L124.90,255.10 L125.30,255.06 L125.70,254.93 L126.10,255.09 L126.50,254.97 L126.90,254.97 L127.30,255.00 L127.70,254.97 L128.10,255.02 L128.50,254.89 L128.90,254.92 L129.30,254.91 L129.70,254.88 L130.10,254.91 L130.50,254.83 L130.90,254.91 L131.30,254.77 L131.70,254.71 L132.10,254.78 L132.50,254.84 L132.90,254.72 L133.30,254.70 L133.70,254.70 L134.10,254.71 L134.50,254.68 L134.90,254.69 L135.30,254.55 L135.70,254.74 L136.10,254.66 L136.50,254.56 L136.90,254.68 L137.30,254.61 L137.70,254.66 L138.10,254.48 L138.50,254.65 L138.90,254.53 L139.30,254.39 L139.70,254.55 L140.10,254.47 L140.50,254.41 L140.90,254.45 L141.30,254.33 L141.70,254.48 L142.10,254.41 L142.50,254.40 L142.90,254.49 L143.30,254.40 L143.70,254.34 L144.10,254.31 L144.50,254.36 L144.90,254.42 L145.30,254.31 L145.70,254.27 L146.10,254.38 L146.50,254.32 L146.90,254.30 L147.30,254.43 L147.70,254.21 L148.10,254.29 L148.50,254.16 L148.90,254.25 L149.30,254.30 L149.70,254.32 L150.10,254.17 L150.50,254.29 L150.90,254.28 L151.30,254.22 L151.70,254.38 L152.10,254.22 L152.50,254.16 L152.90,254.24 L153.30,254.10 L153.70,254.31 L154.10,254.27 L154.50,254.18 L154.90,254.24 L155.30,254.24 L155.70,254.32 L156.10,254.16 L156.50,254.12 L156.90,254.08 L157.30,254.19 L157.70,254.11 L158.10,254.20 L158.50,254.23 L158.90,254.18 L159.30,254.15 L159.70,254.29 L160.10,254.21 L160.50,254.24 L160.90,254.28 L161.30,254.15 L161.70,254.17 L162.10,254.39 L162.50,254.23 L162.90,254.18 L163.30,254.23 L163.70,254.22 L164.10,254.18 L164.50,254.24 L164.90,254.27 L165.30,254.28 L165.70,254.32 L166.10,254.18 L166.50,254.20 L166.90,254.35 L167.30,254.28 L167.70,254.39 L168.10,254.34 L168.50,254.25 L168.90,254.37 L169.30,254.29 L169.70,254.37 L170.10,254.44 L170.50,254.50 L170.90,254.38 L171.30,254.43 L171.70,254.42 L172.10,254.46 L172.50,254.26 L172.90,254.40 L173.30,254.46 L173.70,254.48 L174.10,254.41 L174.50,254.52 L174.90,254.55 L175.30,254.49 L175.70,254.49 L176.10,254.49 L176.50,254.53 L176.90,254.60 L177.30,254.64 L177.70,254.53 L178.10,254.51 L178.50,254.53 L178.90,254.65 L179.30,254.61 L179.70,254.63 L180.10,254.65 L180.50,254.66 L180.90,254.64 L181.30,254.60 L181.70,254.63 L182.10,254.69 L182.50,254.72 L182.90,254.69 L183.30,254.70 L183.70,254.82 L184.10,254.72 L184.50,254.77 L184.90,254.75 L185.30,254.73 L185.70,254.70 L186.10,254.78 L186.50,254.77 L186.90,254.89 L187.30,254.78 L187.70,254.84 L188.10,254.92 L188.50,254.88 L188.90,254.93 L189.30,254.97 L189.70,254.83 L190.10,254.92 L190.50,254.90 L190.90,255.05 L191.30,254.97 L191.70,255.02 L192.10,255.11 L192.50,255.00 L192.90,255.04 L193.30,255.07 L193.70,255.04 L194.10,255.15 L194.50,255.14 L194.90,255.16 L195.30,255.11 L195.70,255.10 L196.10,255.12 L196.50,255.13 L196.90,255.06 L197.30,255.20 L197.70,255.24 L198.10,255.20 L198.50,255.18 L198.90,255.23 L199.30,255.25 L199.70,255.27 L200.10,255.37 L200.50,255.22 L200.90,255.31 L201.30,255.34 L201.70,255.32 L202.10,255.31 L202.50,255.27 L202.90,255.31 L203.30,255.40 L203.70,255.46 L204.10,255.34 L204.50,255.42 L204.90,255.43 L205.30,255.48 L205.70,255.44 L206.10,255.46 L206.50,255.50 L206.90,255.39 L207.30,255.47 L207.70,255.37 L208.10,255.37 L208.50,255.45 L208.90,255.41 L209.30,255.55 L209.70,255.59 L210.10,255.52 L210.50,255.54 L210.90,255.54 L211.30,255.55 L211.70,255.58 L212.10,255.60 L212.50,255.56 L212.90,255.55 L213.30,255.57 L213.70,255.66 L214.10,255.59 L214.50,255.71 L214.90,255.62 L215.30,255.72 L215.70,255.57 L216.10,255.61 L216.50,255.69 L216.90,255.69 L217.30,255.66 L217.70,255.80 L218.10,255.68 L218.50,255.70 L218.90,255.66 L219.30,255.79 L219.70,255.75 L220.10,255.73 L220.50,255.61 L220.90,255.73 L221.30,255.69 L221.70,255.74 L222.10,255.78 L222.50,255.68 L222.90,255.74 L223.30,255.79 L223.70,255.75 L224.10,255.72 L224.50,255.68 L224.90,255.71 L225.30,255.68 L225.70,255.82 L226.10,255.77 L226.50,255.69 L226.90,255.77 L227.30,255.69 L227.70,255.58 L228.10,255.85 L228.50,255.85 L228.90,255.70 L229.30,255.75 L229.70,255.81 L230.10,255.77 L230.50,255.75 L230.90,255.77 L231.30,255.79 L231.70,255.78 L232.10,255.83 L232.50,255.80 L232.90,255.78 L233.30,255.83 L233.70,255.73 L234.10,255.92 L234.50,255.73 L234.90,255.83 L235.30,255.86 L235.70,255.87 L236.10,255.86 L236.50,255.93 L236.90,255.79 L237.30,255.85 L237.70,255.87 L238.10,255.83 L238.50,255.83 L238.90,255.95 L239.30,255.83 L239.70,255.85 L240.10,255.86 L240.50,255.87 L240.90,255.90 L241.30,255.88 L241.70,255.91 L242.10,255.90 L242.50,255.93 L242.90,255.98 L243.30,255.85 L243.70,256.01 L244.10,255.88 L244.50,255.95 L244.90,255.93 L245.30,255.90 L245.70,255.80 L246.10,256.02 L246.50,255.88 L246.90,255.88 L247.30,256.00 L247.70,255.94 L248.10,256.05 L248.50,256.04 L248.90,255.99 L249.30,255.96 L249.70,256.00 L250.10,255.87 L250.50,255.97 L250.90,255.97 L251.30,255.93 L251.70,255.98 L252.10,255.88 L252.50,256.02 L252.90,256.05 L253.30,255.90 L253.70,255.99 L254.10,256.07 L254.50,256.01 L254.90,255.92 L255.30,255.93 L255.70,256.04 L256.10,256.10 L256.50,255.93 L256.90,256.00 L257.30,255.95 L257.70,255.99 L258.10,256.02 L258.50,256.01 L258.90,255.97 L259.30,256.14 L259.70,256.01 L260.10,256.01 L260.50,256.09 L260.90,256.02 L261.30,256.01 L261.70,256.08 L262.10,255.97 L262.50,256.08 L262.90,256.10 L263.30,256.08 L263.70,256.03 L264.10,256.04 L264.50,255.94 L264.90,256.04 L265.30,256.07 L265.70,256.10 L266.10,256.06 L266.50,256.03 L266.90,256.01 L267.30,256.06 L267.70,256.07 L268.10,256.14 L268.50,256.07 L268.90,256.04 L269.30,256.06 L269.70,256.04 L270.10,256.06 L270.50,255.95 L270.90,255.99 L271.30,256.01 L271.70,256.11 L272.10,256.08 L272.50,256.10 L272.90,256.16 L273.30,256.03 L273.70,256.16 L274.10,256.12 L274.50,256.06 L274.90,256.19 L275.30,256.02 L275.70,256.04 L276.10,256.10 L276.50,256.13 L276.90,256.10 L277.30,255.99 L277.70,256.10 L278.10,256.11 L278.50,256.27 L278.90,256.20 L279.30,256.13 L279.70,256.06 L280.10,256.15 L280.50,256.06 L280.90,256.14 L281.30,256.16 L281.70,256.11 L282.10,256.15 L282.50,256.12 L282.90,256.11 L283.30,256.23 L283.70,256.18 L284.10,256.13 L284.50,256.10 L284.90,256.16 L285.30,256.19 L285.70,256.21 L286.10,256.24 L286.50,256.19 L286.90,256.09 L287.30,256.28 L287.70,256.23 L288.10,256.22 L288.50,256.25 L288.90,256.08 L289.30,256.15 L289.70,256.14 L290.10,256.25 L290.50,256.11 L290.90,256.16 L291.30,256.27 L291.70,256.22 L292.10,256.16 L292.50,256.30 L292.90,256.11 L293.30,256.22 L293.70,256.18 L294.10,256.22 L294.50,256.18 L294.90,256.15 L295.30,256.21 L295.70,256.12 L296.10,256.23 L296.50,256.18 L296.90,256.26 L297.30,256.18 L297.70,256.17 L298.10,256.23 L298.50,256.28 L298.90,256.09 L299.30,256.22 L299.70,256.25 L300.10,256.13 L300.50,256.17 L300.90,256.26 L301.30,256.17 L301.70,256.19 L302.10,256.33 L302.50,256.17 L302.90,256.18 L303.30,256.10 L303.70,256.17 L304.10,256.16 L304.50,256.34 L304.90,256.31 L305.30,256.17 L305.70,256.36 L306.10,256.29 L306.50,256.23 L306.90,256.29 L307.30,256.27 L307.70,256.21 L308.10,256.15 L308.50,256.20 L308.90,256.26 L309.30,256.24 L309.70,256.21 L310.10,256.32 L310.50,256.20 L310.90,256.32 L311.30,256.24 L311.70,256.27 L312.10,256.20 L312.50,256.27 L312.90,256.23 L313.30,256.17 L313.70,256.27 L314.10,256.27 L314.50,256.33 L314.90,256.30 L315.30,256.22 L315.70,256.25 L316.10,256.14 L316.50,256.22 L316.90,256.36 L317.30,256.38 L317.70,256.34 L318.10,256.31 L318.50,256.33 L318.90,256.32 L319.30,256.19 L319.70,256.25 L320.10,256.37 L320.50,256.37 L320.90,256.32 L321.30,256.29 L321.70,256.28 L322.10,256.28 L322.50,256.26 L322.90,256.20 L323.30,256.32 L323.70,256.29 L324.10,256.30 L324.50,256.42 L324.90,256.35 L325.30,256.28 L325.70,256.36 L326.10,256.24 L326.50,256.39 L326.90,256.34 L327.30,256.32 L327.70,256.36 L328.10,256.42 L328.50,256.31 L328.90,256.28 L329.30,256.46 L329.70,256.34 L330.10,256.43 L330.50,256.30 L330.90,256.36 L331.30,256.31 L331.70,256.38 L332.10,256.33 L332.50,256.31 L332.90,256.44 L333.30,256.37 L333.70,256.23 L334.10,256.34 L334.50,256.30 L334.90,256.28 L335.30,256.32 L335.70,256.33 L336.10,256.36 L336.50,256.31 L336.90,256.25 L337.30,256.33 L337.70,256.42 L338.10,256.29 L338.50,256.40 L338.90,256.40 L339.30,256.34 L339.70,256.39 L340.10,256.33 L340.50,256.35 L340.90,256.31 L341.30,256.40 L341.70,256.46 L342.10,256.34 L342.50,256.45 L342.90,256.25 L343.30,256.33 L343.70,256.32 L344.10,256.49 L344.50,256.35 L344.90,256.43 L345.30,256.27 L345.70,256.40 L346.10,256.43 L346.50,256.39 L346.90,256.23 L347.30,256.41 L347.70,256.44 L348.10,256.48 L348.50,256.42 L348.90,256.30 L349.30,256.39 L349.70,256.46 L350.10,256.35 L350.50,256.44 L350.90,256.38 L351.30,256.41 L351.70,256.45 L352.10,256.37 L352.50,256.58 L352.90,256.42 L353.30,256.43 L353.70,256.37 L354.10,256.42 L354.50,256.40 L354.90,256.33 L355.30,256.33 L355.70,256.44 L356.10,256.42 L356.50,256.26 L356.90,256.29 L357.30,256.41 L357.70,256.42 L358.10,256.46 L358.50,256.35 L358.90,256.46 L359.30,256.41 L359.70,256.40 L360.10,256.42 L360.50,256.49 L360.90,256.47 L361.30,256.49 L361.70,256.40 L362.10,256.42 L362.50,256.37 L362.90,256.41 L363.30,256.42 L363.70,256.41 L364.10,256.49 L364.50,256.47 L364.90,256.49 L365.30,256.45 L365.70,256.51 L366.10,256.46 L366.50,256.51 L366.90,256.48 L367.30,256.50 L367.70,256.45 L368.10,256.38 L368.50,256.37 L368.90,256.57 L369.30,256.48 L369.70,256.49 L370.10,256.45 L370.50,256.43 L370.90,256.64 L371.30,256.40 L371.70,256.46 L372.10,256.46 L372.50,256.40 L372.90,256.39 L373.30,256.43 L373.70,256.45 L374.10,256.44 L374.50,256.52 L374.90,256.40 L375.30,256.50 L375.70,256.56 L376.10,256.53 L376.50,256.41 L376.90,256.30 L377.30,256.53 L377.70,256.51 L378.10,256.45 L378.50,256.56 L378.90,256.46 L379.30,256.49 L379.70,256.43 L380.10,256.51 L380.50,256.46 L380.90,256.46 L381.30,256.56 L381.70,256.51 L382.10,256.40 L382.50,256.54 L382.90,256.55 L383.30,256.45 L383.70,256.48 L384.10,256.50 L384.50,256.49 L384.90,256.51 L385.30,256.54 L385.70,256.48 L386.10,256.63 L386.50,256.46 L386.90,256.48 L387.30,256.63 L387.70,256.65 L388.10,256.51 L388.50,256.50 L388.90,256.45 L389.30,256.58 L389.70,256.53 L390.10,256.47 L390.50,256.54 L390.90,256.60 L391.30,256.56 L391.70,256.66 L392.10,256.59 L392.50,256.55 L392.90,256.53 L393.30,256.56 L393.70,256.60 L394.10,256.58 L394.50,256.60 L394.90,256.55 L395.30,256.58 L395.70,256.61 L396.10,256.53 L396.50,256.46 L396.90,256.64 L397.30,256.58 L397.70,256.52 L398.10,256.56 L398.50,256.53 L398.90,256.44 L399.30,256.54 L399.70,256.46 L400.10,256.56 L400.50,256.55 L400.90,256.62 L401.30,256.55 L401.70,256.58 L402.10,256.54 L402.50,256.54 L402.90,256.48 L403.30,256.62 L403.70,256.57 L404.10,256.53 L404.50,256.58 L404.90,256.54 L405.30,256.53 L405.70,256.59 L406.10,256.65 L406.50,256.56 L406.90,256.49 L407.30,256.54 L407.70,256.69 L408.10,256.53 L408.50,256.65 L408.90,256.57 L409.30,256.63 L409.70,256.58 L410.10,256.49 L410.50,256.57 L410.90,256.72 L411.30,256.59 L411.70,256.63 L412.10,256.58 L412.50,256.59 L412.90,256.62 L413.30,256.63 L413.70,256.74 L414.10,256.61 L414.50,256.60 L414.90,256.57 L415.30,256.53 L415.70,256.52 L416.10,256.66 L416.50,256.51 L416.90,256.70 L417.30,256.67 L417.70,256.61 L418.10,256.56 L418.50,256.63 L418.90,256.63 L419.30,256.70 L419.70,256.59 L420.10,256.61 L420.50,256.63 L420.90,256.62 L421.30,256.60 L421.70,256.54 L422.10,256.55 L422.50,256.61 L422.90,256.63 L423.30,256.71 L423.70,256.79 L424.10,256.76 L424.50,256.68 L424.90,256.77 L425.30,256.65 L425.70,256.63 L426.10,256.80 L426.50,256.60 L426.90,256.64 L427.30,256.65 L427.70,256.76 L428.10,256.64 L428.50,256.72 L428.90,256.65 L429.30,256.60 L429.70,256.69 L430.10,256.69 L430.50,256.61 L430.90,256.63 L431.30,256.64 L431.70,256.75 L432.10,256.72 L432.50,256.71 L432.90,256.72 L433.30,256.67 L433.70,256.73 L434.10,256.66 L434.50,256.62 L434.90,256.66 L435.30,256.72 L435.70,256.71 L436.10,256.77 L436.50,256.61 L436.90,256.70 L437.30,256.74 L437.70,256.66 L438.10,256.73 L438.50,256.70 L438.90,256.65 L439.30,256.79 L439.70,256.64 L440.10,256.79 L440.50,256.70 L440.90,256.67 L441.30,256.68 L441.70,256.69 L442.10,256.68 L442.50,256.75 L442.90,256.63 L443.30,256.81 L443.70,256.79 L444.10,256.83 L444.50,256.69 L444.90,256.61 L445.30,256.71 L445.70,256.74 L446.10,256.77 L446.50,256.72 L446.90,256.75 L447.30,256.76 L447.70,256.66 L448.10,256.87 L448.50,256.69 L448.90,256.78 L449.30,256.83 L449.70,256.72 L450.10,256.77 L450.50,256.86 L450.90,256.75 L451.30,256.83 L451.70,256.79 L452.10,256.79 L452.50,256.82 L452.90,256.76 L453.30,256.76 L453.70,256.83 L454.10,256.79 L454.50,256.81 L454.90,256.71 L455.30,256.78 L455.70,256.85 L456.10,256.84 L456.50,256.80 L456.90,256.75 L457.30,256.75 L457.70,256.81 L458.10,256.87 L458.50,256.79 L458.90,256.87 L459.30,256.77 L459.70,256.86 L460.10,256.73 L460.50,256.80 L460.90,256.73 L461.30,256.83 L461.70,256.83 L462.10,256.74 L462.50,256.75 L462.90,256.77 L463.30,256.71 L463.70,256.74 L464.10,256.75 L464.50,256.84 L464.90,256.88 L465.30,256.77 L465.70,256.78 L466.10,256.81 L466.50,256.77 L466.90,256.78 L467.30,256.85 L467.70,256.81 L468.10,256.80 L468.50,256.77 L468.90,256.89 L469.30,256.76 L469.70,256.81 L470.10,256.74 L470.50,256.77 L470.90,256.81 L471.30,256.78 L471.70,256.83 L472.10,256.80 L472.50,256.72 L472.90,256.66 L473.30,256.86 L473.70,256.77 L474.10,256.89 L474.50,256.80 L474.90,256.75 L475.30,256.83 L475.70,256.78 L476.10,256.80 L476.50,256.74 L476.90,256.84 L477.30,256.86 L477.70,256.77 L478.10,256.91 L478.50,256.76 L478.90,256.81 L479.30,256.70 L479.70,256.68 L480.10,256.92 L480.50,256.88 L480.90,256.87 L481.30,256.69 L481.70,256.81 L482.10,256.82 L482.50,256.80 L482.90,256.81 L483.30,256.74 L483.70,256.78 L484.10,256.72 L484.50,256.77 L484.90,256.81 L485.30,256.74 L485.70,256.77 L486.10,256.76 L486.50,256.79 L486.90,256.84 L487.30,256.80 L487.70,256.81 L488.10,256.70 L488.50,256.77 L488.90,256.84 L489.30,256.73 L489.70,256.76 L490.10,256.73 L490.50,256.86 L490.90,256.76 L491.30,256.74 L491.70,256.82 L492.10,256.85 L492.50,256.81 L492.90,256.84 L493.30,256.79 L493.70,256.77 L494.10,256.75 L494.50,256.75 L494.90,256.74 L495.30,256.80 L495.70,256.77 L496.10,256.78 L496.50,256.81 L496.90,256.77 L497.30,256.69 L497.70,256.72 L498.10,256.70 L498.50,256.65 L498.90,256.77 L499.30,256.69 L499.70,256.69 L500.10,256.70 L500.50,256.82 L500.90,256.74 L501.30,256.82 L501.70,256.76 L502.10,256.73 L502.50,256.79 L502.90,256.79 L503.30,256.76 L503.70,256.69 L504.10,256.73 L504.50,256.68 L504.90,256.74 L505.30,256.76 L505.70,256.84 L506.10,256.83 L506.50,256.79 L506.90,256.80 L507.30,256.76 L507.70,256.91 L508.10,256.83 L508.50,256.90 L508.90,256.76 L509.30,256.76 L509.70,256.80 L510.10,256.75 L510.50,256.75 L510.90,256.67 L511.30,256.79 L511.70,256.74 L512.10,256.78 L512.50,256.71 L512.90,256.62 L513.30,256.75 L513.70,256.79 L514.10,256.64 L514.50,256.66 L514.90,256.70 L515.30,256.70 L515.70,256.61 L516.10,256.82 L516.50,256.77 L516.90,256.67 L517.30,256.60 L517.70,256.73 L518.10,256.82 L518.50,256.75 L518.90,256.77 L519.30,256.64 L519.70,256.71 L520.10,256.61 L520.50,256.81 L520.90,256.73 L521.30,256.57 L521.70,256.58 L522.10,256.72 L522.50,256.70 L522.90,256.67 L523.30,256.72 L523.70,256.80 L524.10,256.70 L524.50,256.57 L524.90,256.67 L525.30,256.60 L525.70,256.62 L526.10,256.69 L526.50,256.66 L526.90,256.60 L527.30,256.66 L527.70,256.61 L528.10,256.69 L528.50,256.64 L528.90,256.68 L529.30,256.64 L529.70,256.70 L530.10,256.64 L530.50,256.65 L530.90,256.61 L531.30,256.65 L531.70,256.53 L532.10,256.80 L532.50,256.60 L532.90,256.64 L533.30,256.60 L533.70,256.60 L534.10,256.65 L534.50,256.59 L534.90,256.60 L535.30,256.54 L535.70,256.56 L536.10,256.55 L536.50,256.72 L536.90,256.53 L537.30,256.54 L537.70,256.62 L538.10,256.69 L538.50,256.50"/>
<path class="c" stroke="#2b2b2b" stroke-width="0.62" d="M22.90,397.53 L23.30,397.55 L23.70,397.47 L24.10,397.39 L24.50,397.44 L24.90,397.37 L25.30,397.50 L25.70,397.65 L26.10,397.43 L26.50,397.42 L26.90,397.56 L27.30,397.54 L27.70,397.51 L28.10,397.37 L28.50,397.47 L28.90,397.54 L29.30,397.27 L29.70,397.35 L30.10,397.13 L30.50,397.16 L30.90,397.04 L31.30,397.16 L31.70,396.96 L32.10,397.05 L32.50,396.93 L32.90,396.77 L33.30,396.35 L33.70,396.42 L34.10,396.30 L34.50,396.10 L34.90,395.65 L35.30,395.48 L35.70,395.08 L36.10,394.69 L36.50,394.41 L36.90,393.56 L37.30,392.82 L37.70,391.78 L38.10,389.90 L38.50,387.35 L38.90,383.33 L39.30,377.16 L39.70,368.01 L40.10,355.75 L40.50,339.96 L40.90,320.79 L41.30,301.12 L41.70,283.06 L42.10,271.35 L42.50,270.25 L42.90,279.45 L43.30,296.03 L43.70,315.99 L44.10,335.37 L44.50,352.03 L44.90,365.44 L45.30,375.16 L45.70,382.05 L46.10,386.65 L46.50,389.30 L46.90,391.29 L47.30,392.47 L47.70,393.43 L48.10,393.94 L48.50,394.54 L48.90,395.01 L49.30,395.50 L49.70,395.84 L50.10,395.80 L50.50,396.08 L50.90,396.45 L51.30,396.30 L51.70,396.63 L52.10,396.81 L52.50,397.08 L52.90,397.12 L53.30,397.08 L53.70,397.16 L54.10,397.24 L54.50,397.52 L54.90,397.34 L55.30,397.40 L55.70,397.52 L56.10,397.50 L56.50,397.53 L56.90,397.45 L57.30,397.60 L57.70,397.57 L58.10,397.78 L58.50,397.73 L58.90,397.65 L59.30,397.73 L59.70,397.60 L60.10,397.74 L60.50,397.57 L60.90,397.57 L61.30,397.24 L61.70,397.27 L62.10,396.79 L62.50,396.42 L62.90,396.19 L63.30,395.54 L63.70,394.94 L64.10,394.30 L64.50,392.87 L64.90,391.68 L65.30,390.44 L65.70,389.03 L66.10,387.43 L66.50,385.78 L66.90,383.96 L67.30,381.39 L67.70,377.49 L68.10,372.12 L68.50,364.49 L68.90,354.81 L69.30,344.76 L69.70,336.26 L70.10,333.16 L70.50,336.82 L70.90,346.32 L71.30,358.22 L71.70,369.84 L72.10,379.08 L72.50,386.01 L72.90,390.63 L73.30,392.99 L73.70,394.88 L74.10,395.44 L74.50,396.26 L74.90,396.39 L75.30,396.79 L75.70,396.83 L76.10,396.66 L76.50,396.87 L76.90,396.45 L77.30,395.17 L77.70,393.05 L78.10,389.96 L78.50,386.56 L78.90,385.03 L79.30,385.98 L79.70,389.22 L80.10,392.46 L80.50,394.93 L80.90,396.26 L81.30,397.24 L81.70,397.36 L82.10,397.63 L82.50,397.59 L82.90,397.56 L83.30,397.63 L83.70,397.62 L84.10,397.69 L84.50,397.63 L84.90,397.63 L85.30,397.47 L85.70,397.50 L86.10,397.74 L86.50,397.37 L86.90,397.19 L87.30,397.13 L87.70,396.87 L88.10,395.86 L88.50,394.91 L88.90,393.16 L89.30,390.59 L89.70,387.72 L90.10,383.91 L90.50,380.12 L90.90,376.82 L91.30,375.19 L91.70,375.33 L92.10,377.56 L92.50,380.85 L92.90,384.66 L93.30,388.56 L93.70,391.31 L94.10,393.63 L94.50,395.11 L94.90,396.02 L95.30,396.57 L95.70,397.02 L96.10,397.08 L96.50,397.19 L96.90,397.26 L97.30,397.42 L97.70,397.37 L98.10,397.32 L98.50,397.18 L98.90,397.03 L99.30,397.25 L99.70,397.16 L100.10,396.91 L100.50,396.85 L100.90,396.70 L101.30,396.52 L101.70,396.38 L102.10,396.11 L102.50,396.28 L102.90,395.88 L103.30,396.03 L103.70,395.83 L104.10,395.65 L104.50,395.47 L104.90,395.04 L105.30,394.23 L105.70,393.54 L106.10,393.03 L106.50,391.71 L106.90,390.29 L107.30,388.13 L107.70,384.44 L108.10,379.34 L108.50,372.37 L108.90,362.53 L109.30,350.45 L109.70,338.22 L110.10,330.25 L110.50,331.39 L110.90,341.01 L111.30,353.41 L111.70,364.88 L112.10,374.26 L112.50,380.80 L112.90,385.38 L113.30,388.22 L113.70,390.25 L114.10,391.54 L114.50,392.47 L114.90,393.22 L115.30,393.44 L115.70,393.54 L116.10,392.90 L116.50,391.50 L116.90,388.19 L117.30,384.27 L117.70,379.29 L118.10,375.05 L118.50,372.69 L118.90,373.08 L119.30,374.82 L119.70,376.41 L120.10,377.94 L120.50,379.86 L120.90,382.87 L121.30,386.01 L121.70,388.73 L122.10,391.03 L122.50,391.90 L122.90,391.64 L123.30,390.67 L123.70,388.18 L124.10,383.52 L124.50,376.76 L124.90,368.12 L125.30,358.33 L125.70,348.50 L126.10,341.85 L126.50,341.02 L126.90,346.46 L127.30,355.81 L127.70,365.96 L128.10,375.07 L128.50,382.09 L128.90,387.32 L129.30,390.37 L129.70,392.40 L130.10,392.95 L130.50,393.24 L130.90,392.89 L131.30,391.94 L131.70,391.16 L132.10,389.73 L132.50,388.04 L132.90,386.90 L133.30,386.04 L133.70,385.58 L134.10,386.60 L134.50,387.84 L134.90,389.44 L135.30,390.93 L135.70,392.51 L136.10,393.74 L136.50,394.81 L136.90,395.31 L137.30,395.60 L137.70,395.87 L138.10,395.48 L138.50,395.11 L138.90,394.21 L139.30,393.49 L139.70,391.89 L140.10,390.25 L140.50,389.30 L140.90,389.76 L141.30,391.26 L141.70,392.71 L142.10,393.86 L142.50,394.62 L142.90,395.19 L143.30,395.24 L143.70,395.15 L144.10,394.94 L144.50,394.65 L144.90,394.51 L145.30,393.80 L145.70,392.96 L146.10,391.83 L146.50,390.28 L146.90,388.41 L147.30,385.88 L147.70,382.44 L148.10,378.93 L148.50,376.31 L148.90,376.00 L149.30,377.95 L149.70,381.54 L150.10,384.87 L150.50,387.89 L150.90,389.82 L151.30,391.53 L151.70,392.75 L152.10,393.23 L152.50,393.49 L152.90,393.40 L153.30,392.65 L153.70,391.35 L154.10,390.19 L154.50,389.42 L154.90,389.12 L155.30,390.10 L155.70,391.52 L156.10,393.21 L156.50,394.18 L156.90,394.89 L157.30,395.47 L157.70,395.22 L158.10,395.26 L158.50,394.92 L158.90,394.09 L159.30,392.97 L159.70,391.13 L160.10,387.59 L160.50,382.57 L160.90,375.77 L161.30,368.16 L161.70,361.39 L162.10,358.29 L162.50,360.71 L162.90,367.18 L163.30,374.28 L163.70,379.82 L164.10,382.44 L164.50,381.77 L164.90,377.53 L165.30,370.14 L165.70,361.26 L166.10,353.51 L166.50,350.35 L166.90,353.86 L167.30,362.19 L167.70,371.52 L168.10,379.75 L168.50,385.49 L168.90,389.29 L169.30,390.66 L169.70,391.01 L170.10,390.55 L170.50,388.79 L170.90,385.81 L171.30,382.13 L171.70,380.53 L172.10,382.38 L172.50,385.96 L172.90,388.86 L173.30,390.23 L173.70,390.85 L174.10,390.87 L174.50,390.48 L174.90,389.36 L175.30,387.54 L175.70,385.34 L176.10,382.20 L176.50,378.90 L176.90,374.90 L177.30,370.81 L177.70,366.91 L178.10,364.39 L178.50,363.37 L178.90,364.39 L179.30,367.16 L179.70,370.88 L180.10,375.09 L180.50,379.51 L180.90,383.14 L181.30,386.39 L181.70,389.08 L182.10,390.78 L182.50,392.39 L182.90,393.54 L183.30,394.14 L183.70,394.11 L184.10,393.66 L184.50,392.18 L184.90,390.05 L185.30,388.06 L185.70,386.66 L186.10,385.44 L186.50,384.00 L186.90,382.88 L187.30,380.89 L187.70,379.02 L188.10,377.21 L188.50,376.30 L188.90,376.13 L189.30,377.38 L189.70,378.62 L190.10,380.95 L190.50,383.08 L190.90,385.55 L191.30,387.40 L191.70,389.10 L192.10,390.15 L192.50,390.05 L192.90,389.83 L193.30,388.70 L193.70,387.16 L194.10,385.77 L194.50,384.51 L194.90,383.71 L195.30,383.37 L195.70,383.67 L196.10,384.62 L196.50,385.82 L196.90,387.21 L197.30,388.67 L197.70,389.70 L198.10,389.76 L198.50,389.64 L198.90,388.75 L199.30,387.92 L199.70,388.17 L200.10,389.18 L200.50,391.20 L200.90,392.66 L201.30,394.17 L201.70,395.09 L202.10,395.68 L202.50,396.24 L202.90,396.38 L203.30,396.59 L203.70,396.56 L204.10,396.41 L204.50,396.46 L204.90,396.36 L205.30,396.29 L205.70,395.82 L206.10,395.60 L206.50,394.95 L206.90,394.65 L207.30,393.65 L207.70,392.49 L208.10,391.24 L208.50,389.41 L208.90,386.52 L209.30,383.56 L209.70,380.89 L210.10,379.70 L210.50,381.01 L210.90,383.56 L211.30,386.54 L211.70,389.19 L212.10,390.82 L212.50,392.02 L212.90,392.18 L213.30,391.79 L213.70,390.81 L214.10,390.18 L214.50,389.21 L214.90,389.37 L215.30,390.15 L215.70,391.19 L216.10,391.90 L216.50,392.32 L216.90,391.65 L217.30,390.95 L217.70,390.31 L218.10,389.70 L218.50,389.68 L218.90,389.76 L219.30,389.96 L219.70,390.58 L220.10,391.50 L220.50,392.51 L220.90,392.67 L221.30,393.53 L221.70,393.58 L222.10,393.87 L222.50,393.51 L222.90,393.44 L223.30,393.13 L223.70,393.11 L224.10,393.43 L224.50,393.53 L224.90,393.69 L225.30,394.02 L225.70,394.34 L226.10,394.97 L226.50,395.42 L226.90,395.75 L227.30,395.99 L227.70,395.98 L228.10,396.10 L228.50,395.96 L228.90,395.82 L229.30,395.41 L229.70,394.46 L230.10,393.41 L230.50,392.25 L230.90,390.81 L231.30,389.76 L231.70,389.71 L232.10,390.40 L232.50,391.86 L232.90,392.97 L233.30,393.95 L233.70,394.58 L234.10,394.97 L234.50,395.23 L234.90,395.48 L235.30,395.51 L235.70,395.59 L236.10,395.47 L236.50,395.15 L236.90,395.09 L237.30,394.63 L237.70,394.35 L238.10,393.97 L238.50,393.28 L238.90,393.06 L239.30,392.60 L239.70,392.20 L240.10,391.94 L240.50,391.92 L240.90,392.02 L241.30,392.43 L241.70,392.84 L242.10,393.39 L242.50,393.70 L242.90,394.30 L243.30,394.65 L243.70,394.92 L244.10,395.10 L244.50,395.37 L244.90,395.18 L245.30,395.42 L245.70,395.28 L246.10,395.06 L246.50,394.69 L246.90,394.02 L247.30,393.34 L247.70,392.67 L248.10,392.06 L248.50,391.98 L248.90,392.29 L249.30,393.36 L249.70,394.26 L250.10,394.91 L250.50,395.32 L250.90,395.45 L251.30,395.98 L251.70,395.98 L252.10,395.74 L252.50,396.06 L252.90,395.74 L253.30,395.59 L253.70,395.40 L254.10,395.27 L254.50,394.61 L254.90,394.14 L255.30,393.71 L255.70,393.13 L256.10,392.56 L256.50,392.48 L256.90,392.65 L257.30,393.26 L257.70,394.03 L258.10,394.65 L258.50,395.17 L258.90,395.73 L259.30,395.88 L259.70,396.24 L260.10,396.53 L260.50,396.63 L260.90,396.73 L261.30,396.58 L261.70,396.30 L262.10,396.04 L262.50,395.36 L262.90,394.62 L263.30,394.11 L263.70,393.22 L264.10,392.56 L264.50,391.87 L264.90,391.98 L265.30,392.31 L265.70,392.92 L266.10,393.52 L266.50,394.49 L266.90,395.27 L267.30,395.67 L267.70,395.82 L268.10,395.99 L268.50,396.03 L268.90,395.47 L269.30,395.61 L269.70,395.56 L270.10,395.57 L270.50,395.82 L270.90,395.99 L271.30,396.16 L271.70,396.42 L272.10,396.71 L272.50,396.73 L272.90,396.93 L273.30,397.14 L273.70,397.33 L274.10,397.10 L274.50,397.12 L274.90,397.12 L275.30,397.20 L275.70,396.95 L276.10,397.01 L276.50,396.55 L276.90,396.43 L277.30,396.17 L277.70,395.96 L278.10,395.61 L278.50,394.90 L278.90,394.58 L279.30,394.44 L279.70,394.21 L280.10,394.20 L280.50,394.79 L280.90,395.10 L281.30,395.50 L281.70,395.75 L282.10,396.25 L282.50,396.35 L282.90,396.71 L283.30,396.62 L283.70,396.73 L284.10,396.93 L284.50,396.86 L284.90,397.03 L285.30,396.96 L285.70,396.77 L286.10,396.81 L286.50,396.65 L286.90,396.66 L287.30,396.30 L287.70,396.13 L288.10,396.11 L288.50,396.02 L288.90,395.79 L289.30,395.42 L289.70,395.37 L290.10,395.55 L290.50,395.47 L290.90,395.55 L291.30,395.91 L291.70,396.18 L292.10,396.25 L292.50,396.36 L292.90,396.56 L293.30,396.96 L293.70,396.90 L294.10,397.06 L294.50,397.15 L294.90,397.23 L295.30,397.10 L295.70,397.14 L296.10,396.87 L296.50,396.78 L296.90,396.49 L297.30,396.55 L297.70,396.30 L298.10,396.27 L298.50,396.50 L298.90,396.73 L299.30,397.02 L299.70,396.86 L300.10,396.98 L300.50,397.05 L300.90,397.33 L301.30,397.00 L301.70,396.63 L302.10,396.37 L302.50,396.04 L302.90,395.19 L303.30,394.74 L303.70,394.89 L304.10,395.20 L304.50,395.78 L304.90,396.13 L305.30,396.79 L305.70,397.01 L306.10,397.02 L306.50,397.11 L306.90,396.80 L307.30,397.09 L307.70,396.90 L308.10,396.84 L308.50,396.66 L308.90,396.25 L309.30,395.71 L309.70,395.48 L310.10,394.77 L310.50,394.22 L310.90,393.71 L311.30,393.56 L311.70,393.52 L312.10,394.41 L312.50,394.85 L312.90,395.46 L313.30,395.96 L313.70,396.01 L314.10,395.96 L314.50,396.14 L314.90,396.06 L315.30,396.01 L315.70,395.84 L316.10,395.25 L316.50,395.14 L316.90,394.60 L317.30,394.74 L317.70,394.91 L318.10,395.28 L318.50,395.72 L318.90,396.02 L319.30,396.27 L319.70,396.32 L320.10,396.61 L320.50,396.87 L320.90,396.86 L321.30,396.70 L321.70,396.48 L322.10,396.10 L322.50,396.05 L322.90,395.48 L323.30,394.96 L323.70,394.28 L324.10,393.54 L324.50,392.62 L324.90,391.89 L325.30,391.32 L325.70,391.44 L326.10,392.26 L326.50,392.75 L326.90,393.54 L327.30,394.35 L327.70,394.95 L328.10,395.17 L328.50,395.58 L328.90,395.92 L329.30,395.94 L329.70,395.93 L330.10,396.04 L330.50,395.62 L330.90,395.49 L331.30,395.15 L331.70,395.13 L332.10,394.51 L332.50,394.61 L332.90,394.75 L333.30,395.18 L333.70,395.54 L334.10,396.02 L334.50,396.02 L334.90,396.61 L335.30,396.74 L335.70,396.91 L336.10,397.22 L336.50,397.18 L336.90,397.15 L337.30,397.45 L337.70,397.38 L338.10,397.53 L338.50,397.70 L338.90,397.72 L339.30,397.89 L339.70,397.68 L340.10,397.51 L340.50,397.58 L340.90,397.53 L341.30,397.45 L341.70,397.59 L342.10,397.37 L342.50,397.10 L342.90,397.28 L343.30,396.99 L343.70,396.81 L344.10,396.47 L344.50,396.18 L344.90,395.70 L345.30,395.47 L345.70,395.11 L346.10,395.05 L346.50,395.23 L346.90,395.33 L347.30,395.87 L347.70,396.22 L348.10,396.58 L348.50,396.62 L348.90,397.16 L349.30,397.10 L349.70,397.01 L350.10,396.99 L350.50,397.15 L350.90,397.13 L351.30,396.97 L351.70,396.94 L352.10,396.66 L352.50,396.57 L352.90,396.12 L353.30,395.88 L353.70,395.71 L354.10,395.72 L354.50,395.30 L354.90,395.55 L355.30,395.81 L355.70,396.35 L356.10,396.44 L356.50,396.80 L356.90,397.08 L357.30,397.14 L357.70,397.28 L358.10,397.45 L358.50,397.33 L358.90,397.47 L359.30,397.63 L359.70,397.72 L360.10,397.69 L360.50,397.49 L360.90,397.63 L361.30,397.74 L361.70,397.65 L362.10,397.49 L362.50,397.27 L362.90,397.29 L363.30,396.93 L363.70,396.56 L364.10,396.21 L364.50,395.99 L364.90,395.30 L365.30,394.98 L365.70,394.65 L366.10,395.04 L366.50,395.26 L366.90,395.72 L367.30,396.35 L367.70,396.32 L368.10,396.23 L368.50,396.24 L368.90,396.14 L369.30,396.00 L369.70,395.44 L370.10,394.84 L370.50,394.53 L370.90,394.11 L371.30,393.85 L371.70,394.00 L372.10,394.19 L372.50,394.75 L372.90,395.08 L373.30,395.84 L373.70,396.45 L374.10,396.66 L374.50,396.90 L374.90,397.13 L375.30,397.52 L375.70,397.35 L376.10,397.57 L376.50,397.74 L376.90,397.85 L377.30,397.78 L377.70,397.92 L378.10,397.90 L378.50,397.99 L378.90,397.99 L379.30,397.89 L379.70,398.04 L380.10,398.16 L380.50,397.94 L380.90,398.03 L381.30,398.13 L381.70,397.91 L382.10,398.05 L382.50,397.88 L382.90,398.12 L383.30,398.24 L383.70,398.17 L384.10,397.86 L384.50,397.93 L384.90,397.80 L385.30,397.74 L385.70,397.84 L386.10,397.40 L386.50,397.59 L386.90,397.34 L387.30,397.37 L387.70,397.07 L388.10,396.78 L388.50,396.70 L388.90,396.55 L389.30,396.26 L389.70,396.14 L390.10,395.90 L390.50,395.66 L390.90,396.06 L391.30,396.15 L391.70,396.24 L392.10,396.42 L392.50,396.74 L392.90,396.75 L393.30,396.89 L393.70,397.10 L394.10,397.40 L394.50,397.20 L394.90,397.61 L395.30,397.47 L395.70,397.48 L396.10,397.82 L396.50,397.70 L396.90,397.60 L397.30,397.75 L397.70,397.93 L398.10,397.99 L398.50,397.81 L398.90,397.93 L399.30,397.98 L399.70,397.83 L400.10,397.96 L400.50,397.92 L400.90,397.87 L401.30,397.88 L401.70,397.95 L402.10,397.95 L402.50,397.88 L402.90,397.90 L403.30,398.08 L403.70,397.97 L404.10,398.05 L404.50,398.09 L404.90,398.02 L405.30,398.22 L405.70,397.84 L406.10,398.03 L406.50,397.90 L406.90,398.15 L407.30,398.13 L407.70,397.69 L408.10,397.80 L408.50,397.99 L408.90,398.00 L409.30,397.99 L409.70,397.89 L410.10,397.95 L410.50,397.98 L410.90,397.90 L411.30,398.03 L411.70,397.64 L412.10,398.00 L412.50,397.80 L412.90,398.04 L413.30,397.91 L413.70,397.83 L414.10,397.99 L414.50,397.84 L414.90,397.84 L415.30,397.76 L415.70,397.95 L416.10,398.02 L416.50,398.09 L416.90,397.95 L417.30,398.10 L417.70,397.98 L418.10,397.97 L418.50,398.05 L418.90,398.11 L419.30,397.95 L419.70,397.96 L420.10,397.98 L420.50,398.01 L420.90,397.89 L421.30,398.13 L421.70,397.96 L422.10,398.07 L422.50,397.92 L422.90,398.06 L423.30,398.07 L423.70,397.97 L424.10,398.27 L424.50,398.07 L424.90,398.25 L425.30,398.15 L425.70,397.96 L426.10,398.00 L426.50,398.10 L426.90,398.05 L427.30,398.06 L427.70,398.02 L428.10,397.84 L428.50,398.03 L428.90,397.80 L429.30,398.11 L429.70,397.98 L430.10,397.98 L430.50,398.05 L430.90,398.11 L431.30,397.91 L431.70,397.87 L432.10,397.96 L432.50,397.84 L432.90,397.97 L433.30,398.28 L433.70,397.97 L434.10,398.18 L434.50,397.94 L434.90,398.14 L435.30,398.07 L435.70,398.10 L436.10,398.18 L436.50,398.32 L436.90,398.14 L437.30,398.13 L437.70,398.00 L438.10,398.19 L438.50,398.10 L438.90,398.23 L439.30,398.13 L439.70,398.34 L440.10,397.90 L440.50,398.10 L440.90,398.25 L441.30,398.10 L441.70,398.05 L442.10,398.12 L442.50,397.99 L442.90,398.17 L443.30,398.45 L443.70,398.30 L444.10,398.03 L444.50,398.06 L444.90,398.12 L445.30,398.29 L445.70,398.08 L446.10,398.10 L446.50,398.29 L446.90,398.29 L447.30,398.15 L447.70,398.06 L448.10,398.02 L448.50,398.12 L448.90,397.94 L449.30,398.31 L449.70,398.15 L450.10,398.28 L450.50,398.45 L450.90,398.38 L451.30,398.10 L451.70,398.35 L452.10,398.39 L452.50,398.16 L452.90,398.14 L453.30,398.25 L453.70,398.07 L454.10,398.45 L454.50,397.99 L454.90,398.15 L455.30,398.25 L455.70,398.26 L456.10,398.31 L456.50,398.33 L456.90,398.28 L457.30,398.44 L457.70,398.05 L458.10,398.31 L458.50,398.23 L458.90,398.34 L459.30,398.35 L459.70,398.22 L460.10,398.26 L460.50,398.44 L460.90,398.39 L461.30,398.27 L461.70,398.60 L462.10,398.64 L462.50,398.19 L462.90,398.40 L463.30,398.67 L463.70,398.47 L464.10,398.41 L464.50,398.36 L464.90,398.32 L465.30,398.37 L465.70,398.33 L466.10,398.49 L466.50,398.36 L466.90,398.36 L467.30,398.27 L467.70,398.41 L468.10,398.32 L468.50,398.41 L468.90,398.56 L469.30,398.48 L469.70,398.50 L470.10,398.49 L470.50,398.46 L470.90,398.44 L471.30,398.42 L471.70,398.55 L472.10,398.34 L472.50,398.63 L472.90,398.48 L473.30,398.39 L473.70,398.43 L474.10,398.41 L474.50,398.51 L474.90,398.41 L475.30,398.64 L475.70,398.41 L476.10,398.24 L476.50,398.43 L476.90,398.28 L477.30,398.52 L477.70,398.66 L478.10,398.61 L478.50,398.38 L478.90,398.45 L479.30,398.76 L479.70,398.59 L480.10,398.56 L480.50,398.69 L480.90,398.86 L481.30,398.72 L481.70,398.59 L482.10,398.62 L482.50,398.66 L482.90,398.51 L483.30,398.46 L483.70,398.60 L484.10,398.49 L484.50,398.60 L484.90,398.62 L485.30,398.89 L485.70,398.51 L486.10,398.61 L486.50,398.61 L486.90,398.68 L487.30,398.76 L487.70,398.58 L488.10,398.54 L488.50,398.45 L488.90,398.54 L489.30,398.72 L489.70,398.67 L490.10,398.54 L490.50,398.62 L490.90,398.68 L491.30,398.74 L491.70,398.61 L492.10,398.66 L492.50,398.47 L492.90,398.56 L493.30,398.89 L493.70,398.44 L494.10,398.67 L494.50,398.74 L494.90,398.67 L495.30,398.62 L495.70,398.72 L496.10,398.73 L496.50,398.72 L496.90,398.51 L497.30,398.72 L497.70,398.64 L498.10,398.68 L498.50,398.78 L498.90,398.84 L499.30,398.87 L499.70,398.71 L500.10,398.88 L500.50,398.92 L500.90,398.92 L501.30,398.95 L501.70,398.77 L502.10,398.77 L502.50,398.90 L502.90,398.64 L503.30,398.83 L503.70,398.75 L504.10,398.77 L504.50,398.61 L504.90,398.72 L505.30,398.83 L505.70,398.94 L506.10,398.96 L506.50,398.83 L506.90,398.82 L507.30,398.75 L507.70,398.90 L508.10,398.83 L508.50,398.94 L508.90,399.08 L509.30,398.87 L509.70,398.70 L510.10,398.78 L510.50,398.71 L510.90,398.74 L511.30,399.05 L511.70,398.92 L512.10,398.72 L512.50,398.98 L512.90,399.06 L513.30,398.87 L513.70,398.84 L514.10,398.88 L514.50,398.96 L514.90,399.01 L515.30,399.08 L515.70,399.09 L516.10,399.09 L516.50,399.11 L516.90,399.03 L517.30,398.77 L517.70,398.95 L518.10,399.00 L518.50,398.92 L518.90,399.08 L519.30,398.94 L519.70,398.87 L520.10,399.16 L520.50,399.07 L520.90,399.02 L521.30,399.11 L521.70,399.13 L522.10,399.05 L522.50,398.72 L522.90,398.94 L523.30,398.97 L523.70,398.91 L524.10,399.05 L524.50,399.18 L524.90,398.98 L525.30,398.91 L525.70,399.29 L526.10,399.00 L526.50,398.91 L526.90,399.09 L527.30,399.12 L527.70,398.98 L528.10,399.17 L528.50,399.02 L528.90,398.97 L529.30,399.11 L529.70,399.18 L530.10,399.02 L530.50,399.14 L530.90,399.09 L531.30,399.45 L531.70,399.03 L532.10,399.28 L532.50,399.11 L532.90,399.11 L533.30,399.22 L533.70,399.24 L534.10,399.29 L534.50,399.18 L534.90,399.07 L535.30,399.09 L535.70,399.22 L536.10,399.23 L536.50,399.33 L536.90,399.22 L537.30,399.30 L537.70,399.36 L538.10,399.20 L538.50,399.01"/>
<g stroke="#000" stroke-width="1.5" fill="none">
<path d="M3.5,401.0 H539.6"/>
<path d="M22.79,401.0 V405.30"/>
<path d="M69.70,401.0 V408.70"/>
<path d="M116.61,401.0 V405.30"/>
<path d="M163.52,401.0 V408.70"/>
<path d="M210.43,401.0 V405.30"/>
<path d="M257.34,401.0 V408.70"/>
<path d="M304.25,401.0 V405.30"/>
<path d="M351.16,401.0 V408.70"/>
<path d="M398.07,401.0 V405.30"/>
<path d="M444.98,401.0 V408.70"/>
<path d="M491.89,401.0 V405.30"/>
<path d="M538.80,401.0 V408.70"/>
</g>
<text class="tk" x="69.70" y="427.1">10</text>
<text class="tk" x="163.52" y="427.1">20</text>
<text class="tk" x="257.34" y="427.1">30</text>
<text class="tk" x="351.16" y="427.1">40</text>
<text class="tk" x="444.98" y="427.1">50</text>
<text class="tk" x="538.80" y="427.1">60</text>
<text x="260" y="462" style="font-size:20px;font-weight:bold;fill:#000;stroke:#000;stroke-width:0.3">2<tspan style="font-family:'Liberation Serif',serif;font-weight:normal;font-size:21.5px;stroke:#000;stroke-width:0.4">θ</tspan></text>
<text class="lb" style="font-size:16.43px" x="535.2" y="16.8">Physical mixture (Sirolimus/E-SD/TPGS=1/8/1)</text>
<text class="lb" style="font-size:16.43px" x="533.0" y="54.6">SD (Sirolimus/HPMC/TPGS=1/8/1)</text>
<text class="lb" style="font-size:16.43px" x="533.7" y="86.2">SD (Sirolimus/HPMC=1/9)</text>
<text class="lb" style="font-size:16.43px" x="533.1" y="117.2">SD (Sirolimus/E-SD/HPMC=1/8/1)</text>
<text class="lb" style="font-size:16.43px" x="532.4" y="148.2">SD (Sirolimus/E-SD/TPGS=1/8/1)</text>
<text class="lb" style="font-size:16.5px" x="533.9" y="181.3">SD (Sirolimus/E-SD=1/9)</text>
<text class="lb" style="font-size:16.5px" x="533.9" y="212.5">SD (Sirolimus/E-SD=1/2)</text>
<text class="lb" style="font-size:16.5px" x="533.9" y="245.0">SD (Sirolimus/E-SD=1/1)</text>
<text class="lb" style="font-size:16.2px" x="529.7" y="293.0">Raw sirolimus</text>
</svg>
</body></html>
